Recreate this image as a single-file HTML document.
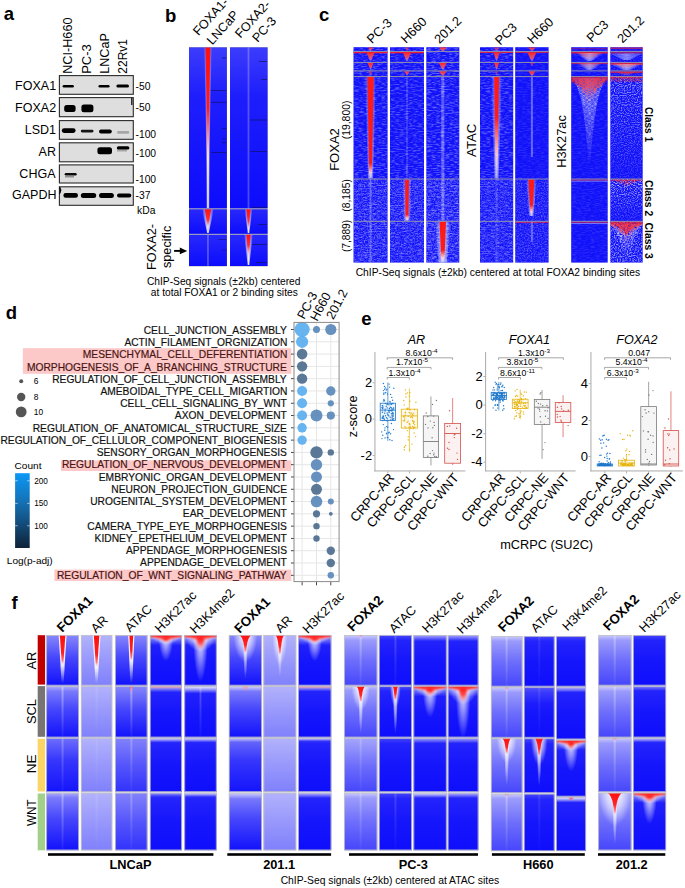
<!DOCTYPE html><html><head><meta charset="utf-8"><title>Figure</title><style>html,body{margin:0;padding:0;background:#fff;width:685px;height:888px;overflow:hidden}svg{display:block;font-family:"Liberation Sans",sans-serif}</style></head><body><svg width="685" height="888" viewBox="0 0 685 888" font-family="Liberation Sans, sans-serif">
<defs>
<linearGradient id="gRed" x1="0" y1="0" x2="0" y2="1">
 <stop offset="0" stop-color="#ff1a1a"/><stop offset="0.55" stop-color="#ff3030"/>
 <stop offset="0.8" stop-color="#ffd0d0"/><stop offset="1" stop-color="#ffffff" stop-opacity="0.6"/>
</linearGradient>
<linearGradient id="gRedShort" x1="0" y1="0" x2="0" y2="1">
 <stop offset="0" stop-color="#ff1a1a"/><stop offset="0.35" stop-color="#ff4040"/>
 <stop offset="0.7" stop-color="#ffe0e0" stop-opacity="0.9"/><stop offset="1" stop-color="#ffffff" stop-opacity="0.2"/>
</linearGradient>
<linearGradient id="gHalo" x1="0" y1="0" x2="1" y2="0">
 <stop offset="0" stop-color="#fff" stop-opacity="0"/><stop offset="0.5" stop-color="#fff" stop-opacity="0.85"/>
 <stop offset="1" stop-color="#fff" stop-opacity="0"/>
</linearGradient>
<linearGradient id="fadeV" x1="0" y1="0" x2="0" y2="1"><stop offset="0" stop-color="#fff"/><stop offset="1" stop-color="#000"/></linearGradient>
<linearGradient id="fadeV2" x1="0" y1="0" x2="0" y2="1"><stop offset="0" stop-color="#fff"/><stop offset="0.4" stop-color="#aaa"/><stop offset="1" stop-color="#222"/></linearGradient>
<mask id="mfade" maskContentUnits="objectBoundingBox"><rect width="1" height="1" fill="url(#fadeV)"/></mask>
<mask id="mfade2" maskContentUnits="objectBoundingBox"><rect width="1" height="1" fill="url(#fadeV2)"/></mask>
<filter id="bblur" x="-0.1" y="-0.5" width="1.2" height="2"><feGaussianBlur stdDeviation="0.45"/></filter>
<filter id="speckM" x="0" y="0" width="1" height="1">
 <feTurbulence type="fractalNoise" baseFrequency="0.35 1.0" numOctaves="2" seed="8" result="n"/>
 <feColorMatrix in="n" type="matrix" values="0 0 0 0 0  0 0 0 0 0  0 0 0 0 0  2.6 0 0 0 -1.0" result="a"/>
 <feComposite in="SourceGraphic" in2="a" operator="in"/>
</filter>
<filter id="speck2" x="0" y="0" width="1" height="1">
 <feTurbulence type="fractalNoise" baseFrequency="0.7 0.9" numOctaves="1" seed="5" result="n"/>
 <feColorMatrix in="n" type="matrix" values="0 0 0 0 0.8  0 0 0 0 0.82  0 0 0 0 1  3.0 0 0 0 -1.3" result="w"/>
 <feComposite in="w" in2="SourceGraphic" operator="in"/>
</filter>
<filter id="speck" x="0" y="0" width="1" height="1">
 <feTurbulence type="fractalNoise" baseFrequency="0.22 0.95" numOctaves="2" seed="3" result="n"/>
 <feColorMatrix in="n" type="matrix" values="0 0 0 0 0.75  0 0 0 0 0.8  0 0 0 0 1  3.0 0 0 0 -1.3" result="w"/>
 <feComposite in="w" in2="SourceGraphic" operator="in"/>
</filter>
</defs>
<defs><linearGradient id="v1" x1="0" y1="0" x2="0" y2="1"><stop offset="0" stop-color="#3c3cfc"/><stop offset="0.3" stop-color="#1e1efc"/><stop offset="1" stop-color="#0c0cfc"/></linearGradient><linearGradient id="v2" x1="0" y1="0" x2="0" y2="1"><stop offset="0" stop-color="#2828fc"/><stop offset="1" stop-color="#0c0cfc"/></linearGradient><linearGradient id="v3" x1="0" y1="0" x2="0" y2="1"><stop offset="0" stop-color="#2828fc"/><stop offset="1" stop-color="#0c0cfc"/></linearGradient><linearGradient id="h4" x1="0" y1="0" x2="1" y2="0"><stop offset="0" stop-color="#fff" stop-opacity="0"/><stop offset="0.5" stop-color="#fff" stop-opacity="0.9"/><stop offset="1" stop-color="#fff" stop-opacity="0"/></linearGradient><linearGradient id="v5" x1="0" y1="0" x2="0" y2="1"><stop offset="0" stop-color="#ff1010"/><stop offset="0.38" stop-color="#ff1c1c"/><stop offset="0.52" stop-color="#ff7a7a"/><stop offset="0.68" stop-color="#ffe8e8" stop-opacity="0.95"/><stop offset="1" stop-color="#ffffff" stop-opacity="0.6"/></linearGradient><linearGradient id="v6" x1="0" y1="0" x2="0" y2="1"><stop offset="0" stop-color="#ff1010"/><stop offset="0.55" stop-color="#ff3030"/><stop offset="0.85" stop-color="#ffd0d0"/><stop offset="1" stop-color="#ffffff" stop-opacity="0.6"/></linearGradient><linearGradient id="v7" x1="0" y1="0" x2="0" y2="1"><stop offset="0" stop-color="#3c3cfc"/><stop offset="0.3" stop-color="#1e1efc"/><stop offset="1" stop-color="#0c0cfc"/></linearGradient><linearGradient id="v8" x1="0" y1="0" x2="0" y2="1"><stop offset="0" stop-color="#2828fc"/><stop offset="1" stop-color="#0c0cfc"/></linearGradient><linearGradient id="v9" x1="0" y1="0" x2="0" y2="1"><stop offset="0" stop-color="#2828fc"/><stop offset="1" stop-color="#0c0cfc"/></linearGradient><linearGradient id="h10" x1="0" y1="0" x2="1" y2="0"><stop offset="0" stop-color="#fff" stop-opacity="0"/><stop offset="0.5" stop-color="#fff" stop-opacity="0.9"/><stop offset="1" stop-color="#fff" stop-opacity="0"/></linearGradient><linearGradient id="v11" x1="0" y1="0" x2="0" y2="1"><stop offset="0" stop-color="#ff1010"/><stop offset="0.55" stop-color="#ff3030"/><stop offset="0.85" stop-color="#ffd0d0"/><stop offset="1" stop-color="#ffffff" stop-opacity="0.6"/></linearGradient><linearGradient id="v12" x1="0" y1="0" x2="0" y2="1"><stop offset="0" stop-color="#ff1010"/><stop offset="0.4" stop-color="#ff3030"/><stop offset="0.7" stop-color="#ffd0d0"/><stop offset="1" stop-color="#ffffff" stop-opacity="0.7"/></linearGradient><linearGradient id="v13" x1="0" y1="0" x2="0" y2="1"><stop offset="0" stop-color="#ff2020" stop-opacity="1.0"/><stop offset="0.6" stop-color="#ff6060" stop-opacity="0.8"/><stop offset="1" stop-color="#ffffff" stop-opacity="0.0"/></linearGradient><linearGradient id="v14" x1="0" y1="0" x2="0" y2="1"><stop offset="0" stop-color="#ff2020" stop-opacity="1.0"/><stop offset="0.6" stop-color="#ff6060" stop-opacity="0.8"/><stop offset="1" stop-color="#ffffff" stop-opacity="0.0"/></linearGradient><linearGradient id="v15" x1="0" y1="0" x2="0" y2="1"><stop offset="0" stop-color="#ff2020" stop-opacity="1.0"/><stop offset="0.6" stop-color="#ff6060" stop-opacity="0.8"/><stop offset="1" stop-color="#ffffff" stop-opacity="0.0"/></linearGradient><linearGradient id="v16" x1="0" y1="0" x2="0" y2="1"><stop offset="0" stop-color="#ff2020" stop-opacity="0.6"/><stop offset="0.6" stop-color="#ff6060" stop-opacity="0.48"/><stop offset="1" stop-color="#ffffff" stop-opacity="0.0"/></linearGradient><linearGradient id="h17" x1="0" y1="0" x2="1" y2="0"><stop offset="0" stop-color="#fff" stop-opacity="0"/><stop offset="0.5" stop-color="#fff" stop-opacity="0.6"/><stop offset="1" stop-color="#fff" stop-opacity="0"/></linearGradient><linearGradient id="v18" x1="0" y1="0" x2="0" y2="1"><stop offset="0" stop-color="#ff1a1a"/><stop offset="0.85" stop-color="#ff1a1a"/><stop offset="0.94" stop-color="#ffc8c8" stop-opacity="0.9"/><stop offset="1" stop-color="#ffffff" stop-opacity="0.0"/></linearGradient><linearGradient id="v19" x1="0" y1="0" x2="0" y2="1"><stop offset="0" stop-color="#ff2020" stop-opacity="0.7"/><stop offset="0.6" stop-color="#ff6060" stop-opacity="0.5599999999999999"/><stop offset="1" stop-color="#ffffff" stop-opacity="0.0"/></linearGradient><linearGradient id="v20" x1="0" y1="0" x2="0" y2="1"><stop offset="0" stop-color="#ff2020" stop-opacity="1.0"/><stop offset="0.6" stop-color="#ff6060" stop-opacity="0.8"/><stop offset="1" stop-color="#ffffff" stop-opacity="0.0"/></linearGradient><linearGradient id="v21" x1="0" y1="0" x2="0" y2="1"><stop offset="0" stop-color="#ff2020" stop-opacity="1.0"/><stop offset="0.6" stop-color="#ff6060" stop-opacity="0.8"/><stop offset="1" stop-color="#ffffff" stop-opacity="0.0"/></linearGradient><linearGradient id="h22" x1="0" y1="0" x2="1" y2="0"><stop offset="0" stop-color="#fff" stop-opacity="0"/><stop offset="0.5" stop-color="#fff" stop-opacity="0.6"/><stop offset="1" stop-color="#fff" stop-opacity="0"/></linearGradient><linearGradient id="v23" x1="0" y1="0" x2="0" y2="1"><stop offset="0" stop-color="#ff1a1a"/><stop offset="0.85" stop-color="#ff1a1a"/><stop offset="0.94" stop-color="#ffc8c8" stop-opacity="0.9"/><stop offset="1" stop-color="#ffffff" stop-opacity="0.0"/></linearGradient><linearGradient id="v24" x1="0" y1="0" x2="0" y2="1"><stop offset="0" stop-color="#ff2020" stop-opacity="1.0"/><stop offset="0.6" stop-color="#ff6060" stop-opacity="0.8"/><stop offset="1" stop-color="#ffffff" stop-opacity="0.0"/></linearGradient><linearGradient id="v25" x1="0" y1="0" x2="0" y2="1"><stop offset="0" stop-color="#ff2020" stop-opacity="1.0"/><stop offset="0.6" stop-color="#ff6060" stop-opacity="0.8"/><stop offset="1" stop-color="#ffffff" stop-opacity="0.0"/></linearGradient><linearGradient id="v26" x1="0" y1="0" x2="0" y2="1"><stop offset="0" stop-color="#ff2020" stop-opacity="1.0"/><stop offset="0.6" stop-color="#ff6060" stop-opacity="0.8"/><stop offset="1" stop-color="#ffffff" stop-opacity="0.0"/></linearGradient><linearGradient id="h27" x1="0" y1="0" x2="1" y2="0"><stop offset="0" stop-color="#fff" stop-opacity="0"/><stop offset="0.5" stop-color="#fff" stop-opacity="0.75"/><stop offset="1" stop-color="#fff" stop-opacity="0"/></linearGradient><linearGradient id="v28" x1="0" y1="0" x2="0" y2="1"><stop offset="0" stop-color="#ff1a1a"/><stop offset="0.7" stop-color="#ff1a1a"/><stop offset="0.88" stop-color="#ffc8c8" stop-opacity="0.9"/><stop offset="1" stop-color="#ffffff" stop-opacity="0.0"/></linearGradient><linearGradient id="v29" x1="0" y1="0" x2="0" y2="1"><stop offset="0" stop-color="#ff2020" stop-opacity="0.7"/><stop offset="0.6" stop-color="#ff6060" stop-opacity="0.5599999999999999"/><stop offset="1" stop-color="#ffffff" stop-opacity="0.0"/></linearGradient><linearGradient id="v30" x1="0" y1="0" x2="0" y2="1"><stop offset="0" stop-color="#ff2020" stop-opacity="1.0"/><stop offset="0.6" stop-color="#ff6060" stop-opacity="0.8"/><stop offset="1" stop-color="#ffffff" stop-opacity="0.0"/></linearGradient><linearGradient id="v31" x1="0" y1="0" x2="0" y2="1"><stop offset="0" stop-color="#ff2020" stop-opacity="1.0"/><stop offset="0.6" stop-color="#ff6060" stop-opacity="0.8"/><stop offset="1" stop-color="#ffffff" stop-opacity="0.0"/></linearGradient><linearGradient id="v32" x1="0" y1="0" x2="0" y2="1"><stop offset="0" stop-color="#ff2020" stop-opacity="0.5"/><stop offset="0.6" stop-color="#ff6060" stop-opacity="0.4"/><stop offset="1" stop-color="#ffffff" stop-opacity="0.0"/></linearGradient><linearGradient id="h33" x1="0" y1="0" x2="1" y2="0"><stop offset="0" stop-color="#fff" stop-opacity="0"/><stop offset="0.5" stop-color="#fff" stop-opacity="0.6"/><stop offset="1" stop-color="#fff" stop-opacity="0"/></linearGradient><linearGradient id="v34" x1="0" y1="0" x2="0" y2="1"><stop offset="0" stop-color="#ff1a1a"/><stop offset="0.4" stop-color="#ff1a1a"/><stop offset="0.76" stop-color="#ffc8c8" stop-opacity="0.9"/><stop offset="1" stop-color="#ffffff" stop-opacity="0.0"/></linearGradient><linearGradient id="v35" x1="0" y1="0" x2="0" y2="1"><stop offset="0" stop-color="#ff2020" stop-opacity="0.9"/><stop offset="0.6" stop-color="#ff6060" stop-opacity="0.7200000000000001"/><stop offset="1" stop-color="#ffffff" stop-opacity="0.0"/></linearGradient><linearGradient id="v36" x1="0" y1="0" x2="0" y2="1"><stop offset="0" stop-color="#ff2020" stop-opacity="1.0"/><stop offset="0.6" stop-color="#ff6060" stop-opacity="0.8"/><stop offset="1" stop-color="#ffffff" stop-opacity="0.0"/></linearGradient><linearGradient id="v37" x1="0" y1="0" x2="0" y2="1"><stop offset="0" stop-color="#ff2020" stop-opacity="0.6"/><stop offset="0.6" stop-color="#ff6060" stop-opacity="0.48"/><stop offset="1" stop-color="#ffffff" stop-opacity="0.0"/></linearGradient><linearGradient id="v38" x1="0" y1="0" x2="0" y2="1"><stop offset="0" stop-color="#ff2020" stop-opacity="1.0"/><stop offset="0.6" stop-color="#ff6060" stop-opacity="0.8"/><stop offset="1" stop-color="#ffffff" stop-opacity="0.0"/></linearGradient><linearGradient id="h39" x1="0" y1="0" x2="1" y2="0"><stop offset="0" stop-color="#fff" stop-opacity="0"/><stop offset="0.5" stop-color="#fff" stop-opacity="0.6"/><stop offset="1" stop-color="#fff" stop-opacity="0"/></linearGradient><linearGradient id="v40" x1="0" y1="0" x2="0" y2="1"><stop offset="0" stop-color="#ff1a1a"/><stop offset="0.7" stop-color="#ff1a1a"/><stop offset="0.88" stop-color="#ffc8c8" stop-opacity="0.9"/><stop offset="1" stop-color="#ffffff" stop-opacity="0.0"/></linearGradient><linearGradient id="v41" x1="0" y1="0" x2="0" y2="1"><stop offset="0" stop-color="#ff2020" stop-opacity="0.55"/><stop offset="0.6" stop-color="#ff6060" stop-opacity="0.44000000000000006"/><stop offset="1" stop-color="#ffffff" stop-opacity="0.0"/></linearGradient><linearGradient id="h42" x1="0" y1="0" x2="1" y2="0"><stop offset="0" stop-color="#fff" stop-opacity="0"/><stop offset="0.5" stop-color="#fff" stop-opacity="0.45"/><stop offset="1" stop-color="#fff" stop-opacity="0"/></linearGradient><linearGradient id="v43" x1="0" y1="0" x2="0" y2="1"><stop offset="0" stop-color="#ff2020" stop-opacity="0.45"/><stop offset="0.6" stop-color="#ff6060" stop-opacity="0.36000000000000004"/><stop offset="1" stop-color="#ffffff" stop-opacity="0.0"/></linearGradient><linearGradient id="h44" x1="0" y1="0" x2="1" y2="0"><stop offset="0" stop-color="#fff" stop-opacity="0"/><stop offset="0.3" stop-color="#fff" stop-opacity="0.25"/><stop offset="0.5" stop-color="#fff" stop-opacity="0.35"/><stop offset="0.7" stop-color="#fff" stop-opacity="0.25"/><stop offset="1" stop-color="#fff" stop-opacity="0"/></linearGradient><linearGradient id="v45" x1="0" y1="0" x2="0" y2="1"><stop offset="0" stop-color="#ff2020" stop-opacity="1"/><stop offset="0.5" stop-color="#ff3030" stop-opacity="0.8"/><stop offset="1" stop-color="#ff5050" stop-opacity="0"/></linearGradient><linearGradient id="h46" x1="0" y1="0" x2="1" y2="0"><stop offset="0" stop-color="#fff" stop-opacity="0.1"/><stop offset="0.5" stop-color="#fff" stop-opacity="0.45"/><stop offset="1" stop-color="#fff" stop-opacity="0.1"/></linearGradient><linearGradient id="v47" x1="0" y1="0" x2="0" y2="1"><stop offset="0" stop-color="#ff2020" stop-opacity="0.6"/><stop offset="0.6" stop-color="#ff6060" stop-opacity="0.48"/><stop offset="1" stop-color="#ffffff" stop-opacity="0.0"/></linearGradient><linearGradient id="v48" x1="0" y1="0" x2="0" y2="1"><stop offset="0" stop-color="#ff2020" stop-opacity="0.5"/><stop offset="0.6" stop-color="#ff6060" stop-opacity="0.4"/><stop offset="1" stop-color="#ffffff" stop-opacity="0.0"/></linearGradient><linearGradient id="h49" x1="0" y1="0" x2="1" y2="0"><stop offset="0" stop-color="#fff" stop-opacity="0.1"/><stop offset="0.5" stop-color="#fff" stop-opacity="0.5"/><stop offset="1" stop-color="#fff" stop-opacity="0.1"/></linearGradient><linearGradient id="v50" x1="0" y1="0" x2="0" y2="1"><stop offset="0" stop-color="#ff2020" stop-opacity="1"/><stop offset="0.4" stop-color="#ff3030" stop-opacity="0.9"/><stop offset="1" stop-color="#ff6060" stop-opacity="0.2"/></linearGradient><linearGradient id="v51" x1="0" y1="0" x2="0" y2="1"><stop offset="0" stop-color="#0a98f6"/><stop offset="0.4" stop-color="#1570b2"/><stop offset="1" stop-color="#0f2238"/></linearGradient><linearGradient id="v52" x1="0" y1="0" x2="0" y2="1"><stop offset="0" stop-color="#8787fc"/><stop offset="0.45" stop-color="#4646fc"/><stop offset="1" stop-color="#1212fc"/></linearGradient><linearGradient id="v53" x1="0" y1="0" x2="0" y2="1"><stop offset="0" stop-color="#ffffff" stop-opacity="0.95"/><stop offset="0.625" stop-color="#ffffff" stop-opacity="0.9"/><stop offset="1" stop-color="#ffffff" stop-opacity="0"/></linearGradient><linearGradient id="v54" x1="0" y1="0" x2="0" y2="1"><stop offset="0" stop-color="#ff1010"/><stop offset="0.6" stop-color="#ff2020"/><stop offset="0.85" stop-color="#ff7070" stop-opacity="0.9"/><stop offset="1" stop-color="#ffd0d0" stop-opacity="0.0"/></linearGradient><linearGradient id="v55" x1="0" y1="0" x2="0" y2="1"><stop offset="0" stop-color="#8787fc"/><stop offset="0.45" stop-color="#4646fc"/><stop offset="1" stop-color="#1212fc"/></linearGradient><linearGradient id="v56" x1="0" y1="0" x2="0" y2="1"><stop offset="0" stop-color="#fff" stop-opacity="0.3"/><stop offset="1" stop-color="#fff" stop-opacity="0"/></linearGradient><linearGradient id="h57" x1="0" y1="0" x2="1" y2="0"><stop offset="0" stop-color="#fff" stop-opacity="0"/><stop offset="0.5" stop-color="#fff" stop-opacity="0.4"/><stop offset="1" stop-color="#fff" stop-opacity="0"/></linearGradient><linearGradient id="v58" x1="0" y1="0" x2="0" y2="1"><stop offset="0" stop-color="#6e6efc"/><stop offset="0.4" stop-color="#3737fc"/><stop offset="1" stop-color="#1414fc"/></linearGradient><linearGradient id="h59" x1="0" y1="0" x2="1" y2="0"><stop offset="0" stop-color="#fff" stop-opacity="0"/><stop offset="0.5" stop-color="#fff" stop-opacity="0.27999999999999997"/><stop offset="1" stop-color="#fff" stop-opacity="0"/></linearGradient><linearGradient id="v60" x1="0" y1="0" x2="0" y2="1"><stop offset="0" stop-color="#8787fc"/><stop offset="0.45" stop-color="#4646fc"/><stop offset="1" stop-color="#1212fc"/></linearGradient><linearGradient id="v61" x1="0" y1="0" x2="0" y2="1"><stop offset="0" stop-color="#fff" stop-opacity="0.3"/><stop offset="1" stop-color="#fff" stop-opacity="0"/></linearGradient><linearGradient id="h62" x1="0" y1="0" x2="1" y2="0"><stop offset="0" stop-color="#fff" stop-opacity="0"/><stop offset="0.5" stop-color="#fff" stop-opacity="0.36000000000000004"/><stop offset="1" stop-color="#fff" stop-opacity="0"/></linearGradient><linearGradient id="v63" x1="0" y1="0" x2="0" y2="1"><stop offset="0" stop-color="#b2b2fc"/><stop offset="0.5" stop-color="#9898fc"/><stop offset="1" stop-color="#8080fc"/></linearGradient><linearGradient id="v64" x1="0" y1="0" x2="0" y2="1"><stop offset="0" stop-color="#ffffff" stop-opacity="0.95"/><stop offset="0.6666666666666666" stop-color="#ffffff" stop-opacity="0.9"/><stop offset="1" stop-color="#ffffff" stop-opacity="0"/></linearGradient><linearGradient id="v65" x1="0" y1="0" x2="0" y2="1"><stop offset="0" stop-color="#ff1010"/><stop offset="0.6" stop-color="#ff2020"/><stop offset="0.85" stop-color="#ff7070" stop-opacity="0.9"/><stop offset="1" stop-color="#ffd0d0" stop-opacity="0.0"/></linearGradient><linearGradient id="v66" x1="0" y1="0" x2="0" y2="1"><stop offset="0" stop-color="#b2b2fc"/><stop offset="0.5" stop-color="#9898fc"/><stop offset="1" stop-color="#8080fc"/></linearGradient><linearGradient id="h67" x1="0" y1="0" x2="1" y2="0"><stop offset="0" stop-color="#fff" stop-opacity="0"/><stop offset="0.5" stop-color="#fff" stop-opacity="0.12"/><stop offset="1" stop-color="#fff" stop-opacity="0"/></linearGradient><linearGradient id="v68" x1="0" y1="0" x2="0" y2="1"><stop offset="0" stop-color="#b2b2fc"/><stop offset="0.5" stop-color="#9898fc"/><stop offset="1" stop-color="#8080fc"/></linearGradient><linearGradient id="h69" x1="0" y1="0" x2="1" y2="0"><stop offset="0" stop-color="#fff" stop-opacity="0"/><stop offset="0.5" stop-color="#fff" stop-opacity="0.096"/><stop offset="1" stop-color="#fff" stop-opacity="0"/></linearGradient><linearGradient id="v70" x1="0" y1="0" x2="0" y2="1"><stop offset="0" stop-color="#b2b2fc"/><stop offset="0.5" stop-color="#9898fc"/><stop offset="1" stop-color="#8080fc"/></linearGradient><linearGradient id="h71" x1="0" y1="0" x2="1" y2="0"><stop offset="0" stop-color="#fff" stop-opacity="0"/><stop offset="0.5" stop-color="#fff" stop-opacity="0.12"/><stop offset="1" stop-color="#fff" stop-opacity="0"/></linearGradient><linearGradient id="v72" x1="0" y1="0" x2="0" y2="1"><stop offset="0" stop-color="#8787fc"/><stop offset="0.45" stop-color="#4646fc"/><stop offset="1" stop-color="#1212fc"/></linearGradient><linearGradient id="v73" x1="0" y1="0" x2="0" y2="1"><stop offset="0" stop-color="#ffffff" stop-opacity="0.95"/><stop offset="0.5416666666666666" stop-color="#ffffff" stop-opacity="0.9"/><stop offset="1" stop-color="#ffffff" stop-opacity="0"/></linearGradient><linearGradient id="v74" x1="0" y1="0" x2="0" y2="1"><stop offset="0" stop-color="#ff1010"/><stop offset="0.6" stop-color="#ff2020"/><stop offset="0.85" stop-color="#ff7070" stop-opacity="0.9"/><stop offset="1" stop-color="#ffd0d0" stop-opacity="0.0"/></linearGradient><linearGradient id="v75" x1="0" y1="0" x2="0" y2="1"><stop offset="0" stop-color="#8787fc"/><stop offset="0.45" stop-color="#4646fc"/><stop offset="1" stop-color="#1212fc"/></linearGradient><linearGradient id="v76" x1="0" y1="0" x2="0" y2="1"><stop offset="0" stop-color="#ff2020" stop-opacity="0.9"/><stop offset="1" stop-color="#ff8080" stop-opacity="0.0"/></linearGradient><linearGradient id="h77" x1="0" y1="0" x2="1" y2="0"><stop offset="0" stop-color="#fff" stop-opacity="0"/><stop offset="0.5" stop-color="#fff" stop-opacity="0.44000000000000006"/><stop offset="1" stop-color="#fff" stop-opacity="0"/></linearGradient><linearGradient id="v78" x1="0" y1="0" x2="0" y2="1"><stop offset="0" stop-color="#8282fc"/><stop offset="0.5" stop-color="#5555fc"/><stop offset="1" stop-color="#3232fc"/></linearGradient><linearGradient id="h79" x1="0" y1="0" x2="1" y2="0"><stop offset="0" stop-color="#fff" stop-opacity="0"/><stop offset="0.5" stop-color="#fff" stop-opacity="0.27999999999999997"/><stop offset="1" stop-color="#fff" stop-opacity="0"/></linearGradient><linearGradient id="v80" x1="0" y1="0" x2="0" y2="1"><stop offset="0" stop-color="#8282fc"/><stop offset="0.5" stop-color="#5555fc"/><stop offset="1" stop-color="#3232fc"/></linearGradient><linearGradient id="h81" x1="0" y1="0" x2="1" y2="0"><stop offset="0" stop-color="#fff" stop-opacity="0"/><stop offset="0.5" stop-color="#fff" stop-opacity="0.27999999999999997"/><stop offset="1" stop-color="#fff" stop-opacity="0"/></linearGradient><linearGradient id="v82" x1="0" y1="0" x2="0" y2="1"><stop offset="0" stop-color="#4646fc"/><stop offset="0.1" stop-color="#2323fc"/><stop offset="0.5" stop-color="#1616fc"/><stop offset="1" stop-color="#0e0efc"/></linearGradient><linearGradient id="v83" x1="0" y1="0" x2="0" y2="1"><stop offset="0" stop-color="#ffffff" stop-opacity="0.85"/><stop offset="0.4" stop-color="#ffffff" stop-opacity="0.35"/><stop offset="1" stop-color="#ffffff" stop-opacity="0"/></linearGradient><radialGradient id="hg84" cx="0.5" cy="0" r="1" gradientTransform="translate(0.5 0) scale(0.5 1) translate(-0.5 0)"><stop offset="0" stop-color="#ffffff" stop-opacity="0.95"/><stop offset="0.5" stop-color="#ffffff" stop-opacity="0.6"/><stop offset="1" stop-color="#ffffff" stop-opacity="0"/></radialGradient><radialGradient id="hg85" cx="0.5" cy="0" r="1" gradientTransform="translate(0.5 0) scale(0.5 1) translate(-0.5 0)"><stop offset="0" stop-color="#ffffff" stop-opacity="0.95"/><stop offset="0.5" stop-color="#ffffff" stop-opacity="0.5"/><stop offset="1" stop-color="#ffffff" stop-opacity="0"/></radialGradient><radialGradient id="hg86" cx="0.5" cy="0" r="1" gradientTransform="translate(0.5 0) scale(0.5 1) translate(-0.5 0)"><stop offset="0" stop-color="#ff1010" stop-opacity="1"/><stop offset="0.5" stop-color="#ff2a2a" stop-opacity="0.85"/><stop offset="1" stop-color="#ff8080" stop-opacity="0"/></radialGradient><radialGradient id="hg87" cx="0.5" cy="0" r="1" gradientTransform="translate(0.5 0) scale(0.5 1) translate(-0.5 0)"><stop offset="0" stop-color="#ff1010" stop-opacity="1"/><stop offset="0.5" stop-color="#ff2a2a" stop-opacity="0.85"/><stop offset="1" stop-color="#ff8080" stop-opacity="0"/></radialGradient><linearGradient id="v88" x1="0" y1="0" x2="0" y2="1"><stop offset="0" stop-color="#ff1a1a" stop-opacity="0.95"/><stop offset="0.5" stop-color="#ff3030" stop-opacity="0.6"/><stop offset="1" stop-color="#ff6060" stop-opacity="0"/></linearGradient><linearGradient id="v89" x1="0" y1="0" x2="0" y2="1"><stop offset="0" stop-color="#4646fc"/><stop offset="0.1" stop-color="#2323fc"/><stop offset="0.5" stop-color="#1616fc"/><stop offset="1" stop-color="#0e0efc"/></linearGradient><linearGradient id="v90" x1="0" y1="0" x2="0" y2="1"><stop offset="0" stop-color="#ff3030" stop-opacity="0.9"/><stop offset="1" stop-color="#ff3030" stop-opacity="0"/></linearGradient><linearGradient id="v91" x1="0" y1="0" x2="0" y2="1"><stop offset="0" stop-color="#fff" stop-opacity="0.6"/><stop offset="1" stop-color="#fff" stop-opacity="0"/></linearGradient><linearGradient id="v92" x1="0" y1="0" x2="0" y2="1"><stop offset="0" stop-color="#4646fc"/><stop offset="0.1" stop-color="#2323fc"/><stop offset="0.5" stop-color="#1616fc"/><stop offset="1" stop-color="#0e0efc"/></linearGradient><linearGradient id="v93" x1="0" y1="0" x2="0" y2="1"><stop offset="0" stop-color="#fff" stop-opacity="0.8"/><stop offset="1" stop-color="#fff" stop-opacity="0"/></linearGradient><linearGradient id="v94" x1="0" y1="0" x2="0" y2="1"><stop offset="0" stop-color="#4646fc"/><stop offset="0.1" stop-color="#2323fc"/><stop offset="0.5" stop-color="#1616fc"/><stop offset="1" stop-color="#0e0efc"/></linearGradient><linearGradient id="v95" x1="0" y1="0" x2="0" y2="1"><stop offset="0" stop-color="#fff" stop-opacity="0.4"/><stop offset="1" stop-color="#fff" stop-opacity="0"/></linearGradient><linearGradient id="v96" x1="0" y1="0" x2="0" y2="1"><stop offset="0" stop-color="#4646fc"/><stop offset="0.1" stop-color="#2323fc"/><stop offset="0.5" stop-color="#1616fc"/><stop offset="1" stop-color="#0e0efc"/></linearGradient><linearGradient id="v97" x1="0" y1="0" x2="0" y2="1"><stop offset="0" stop-color="#ffffff" stop-opacity="0.85"/><stop offset="0.4" stop-color="#ffffff" stop-opacity="0.35"/><stop offset="1" stop-color="#ffffff" stop-opacity="0"/></linearGradient><radialGradient id="hg98" cx="0.5" cy="0" r="1" gradientTransform="translate(0.5 0) scale(0.5 1) translate(-0.5 0)"><stop offset="0" stop-color="#ffffff" stop-opacity="0.95"/><stop offset="0.5" stop-color="#ffffff" stop-opacity="0.6"/><stop offset="1" stop-color="#ffffff" stop-opacity="0"/></radialGradient><radialGradient id="hg99" cx="0.5" cy="0" r="1" gradientTransform="translate(0.5 0) scale(0.5 1) translate(-0.5 0)"><stop offset="0" stop-color="#ffffff" stop-opacity="0.95"/><stop offset="0.5" stop-color="#ffffff" stop-opacity="0.5"/><stop offset="1" stop-color="#ffffff" stop-opacity="0"/></radialGradient><radialGradient id="hg100" cx="0.5" cy="0" r="1" gradientTransform="translate(0.5 0) scale(0.5 1) translate(-0.5 0)"><stop offset="0" stop-color="#ff1010" stop-opacity="1"/><stop offset="0.5" stop-color="#ff2a2a" stop-opacity="0.85"/><stop offset="1" stop-color="#ff8080" stop-opacity="0"/></radialGradient><radialGradient id="hg101" cx="0.5" cy="0" r="1" gradientTransform="translate(0.5 0) scale(0.5 1) translate(-0.5 0)"><stop offset="0" stop-color="#ff1010" stop-opacity="1"/><stop offset="0.5" stop-color="#ff2a2a" stop-opacity="0.85"/><stop offset="1" stop-color="#ff8080" stop-opacity="0"/></radialGradient><linearGradient id="v102" x1="0" y1="0" x2="0" y2="1"><stop offset="0" stop-color="#ff1a1a" stop-opacity="0.95"/><stop offset="0.5" stop-color="#ff3030" stop-opacity="0.6"/><stop offset="1" stop-color="#ff6060" stop-opacity="0"/></linearGradient><linearGradient id="v103" x1="0" y1="0" x2="0" y2="1"><stop offset="0" stop-color="#4646fc"/><stop offset="0.1" stop-color="#2323fc"/><stop offset="0.5" stop-color="#1616fc"/><stop offset="1" stop-color="#0e0efc"/></linearGradient><linearGradient id="v104" x1="0" y1="0" x2="0" y2="1"><stop offset="0" stop-color="#fff" stop-opacity="0.9"/><stop offset="1" stop-color="#fff" stop-opacity="0"/></linearGradient><linearGradient id="h105" x1="0" y1="0" x2="1" y2="0"><stop offset="0" stop-color="#fff" stop-opacity="0"/><stop offset="0.5" stop-color="#fff" stop-opacity="0.24"/><stop offset="1" stop-color="#fff" stop-opacity="0"/></linearGradient><linearGradient id="v106" x1="0" y1="0" x2="0" y2="1"><stop offset="0" stop-color="#4646fc"/><stop offset="0.1" stop-color="#2323fc"/><stop offset="0.5" stop-color="#1616fc"/><stop offset="1" stop-color="#0e0efc"/></linearGradient><linearGradient id="v107" x1="0" y1="0" x2="0" y2="1"><stop offset="0" stop-color="#fff" stop-opacity="0.8"/><stop offset="1" stop-color="#fff" stop-opacity="0"/></linearGradient><linearGradient id="v108" x1="0" y1="0" x2="0" y2="1"><stop offset="0" stop-color="#4646fc"/><stop offset="0.1" stop-color="#2323fc"/><stop offset="0.5" stop-color="#1616fc"/><stop offset="1" stop-color="#0e0efc"/></linearGradient><linearGradient id="v109" x1="0" y1="0" x2="0" y2="1"><stop offset="0" stop-color="#fff" stop-opacity="0.8"/><stop offset="1" stop-color="#fff" stop-opacity="0"/></linearGradient><linearGradient id="v110" x1="0" y1="0" x2="0" y2="1"><stop offset="0" stop-color="#8787fc"/><stop offset="0.45" stop-color="#4646fc"/><stop offset="1" stop-color="#1212fc"/></linearGradient><radialGradient id="hg111" cx="0.5" cy="0" r="1" gradientTransform="translate(0.5 0) scale(0.5 1) translate(-0.5 0)"><stop offset="0" stop-color="#ffffff" stop-opacity="0.95"/><stop offset="0.5" stop-color="#ffffff" stop-opacity="0.6"/><stop offset="1" stop-color="#ffffff" stop-opacity="0"/></radialGradient><radialGradient id="hg112" cx="0.5" cy="0" r="1" gradientTransform="translate(0.5 0) scale(0.5 1) translate(-0.5 0)"><stop offset="0" stop-color="#ffffff" stop-opacity="0.95"/><stop offset="0.55" stop-color="#ffffff" stop-opacity="0.6"/><stop offset="1" stop-color="#ffffff" stop-opacity="0"/></radialGradient><linearGradient id="v113" x1="0" y1="0" x2="0" y2="1"><stop offset="0" stop-color="#ff1010"/><stop offset="0.55" stop-color="#ff2424"/><stop offset="0.85" stop-color="#ff8080" stop-opacity="0.85"/><stop offset="1" stop-color="#ffd0d0" stop-opacity="0.0"/></linearGradient><linearGradient id="v114" x1="0" y1="0" x2="0" y2="1"><stop offset="0" stop-color="#8787fc"/><stop offset="0.45" stop-color="#4646fc"/><stop offset="1" stop-color="#1212fc"/></linearGradient><linearGradient id="v115" x1="0" y1="0" x2="0" y2="1"><stop offset="0" stop-color="#ff2020" stop-opacity="0.9"/><stop offset="1" stop-color="#ff8080" stop-opacity="0.0"/></linearGradient><linearGradient id="v116" x1="0" y1="0" x2="0" y2="1"><stop offset="0" stop-color="#fff" stop-opacity="0.6"/><stop offset="1" stop-color="#fff" stop-opacity="0"/></linearGradient><linearGradient id="v117" x1="0" y1="0" x2="0" y2="1"><stop offset="0" stop-color="#6e6efc"/><stop offset="0.4" stop-color="#3737fc"/><stop offset="1" stop-color="#1414fc"/></linearGradient><linearGradient id="v118" x1="0" y1="0" x2="0" y2="1"><stop offset="0" stop-color="#fff" stop-opacity="0.6"/><stop offset="1" stop-color="#fff" stop-opacity="0"/></linearGradient><linearGradient id="v119" x1="0" y1="0" x2="0" y2="1"><stop offset="0" stop-color="#8787fc"/><stop offset="0.45" stop-color="#4646fc"/><stop offset="1" stop-color="#1212fc"/></linearGradient><linearGradient id="v120" x1="0" y1="0" x2="0" y2="1"><stop offset="0" stop-color="#fff" stop-opacity="0.6"/><stop offset="1" stop-color="#fff" stop-opacity="0"/></linearGradient><linearGradient id="v121" x1="0" y1="0" x2="0" y2="1"><stop offset="0" stop-color="#b2b2fc"/><stop offset="0.5" stop-color="#9898fc"/><stop offset="1" stop-color="#8080fc"/></linearGradient><radialGradient id="hg122" cx="0.5" cy="0" r="1" gradientTransform="translate(0.5 0) scale(0.5 1) translate(-0.5 0)"><stop offset="0" stop-color="#ffffff" stop-opacity="0.95"/><stop offset="0.5" stop-color="#ffffff" stop-opacity="0.6"/><stop offset="1" stop-color="#ffffff" stop-opacity="0"/></radialGradient><radialGradient id="hg123" cx="0.5" cy="0" r="1" gradientTransform="translate(0.5 0) scale(0.5 1) translate(-0.5 0)"><stop offset="0" stop-color="#ffffff" stop-opacity="0.95"/><stop offset="0.55" stop-color="#ffffff" stop-opacity="0.6"/><stop offset="1" stop-color="#ffffff" stop-opacity="0"/></radialGradient><linearGradient id="v124" x1="0" y1="0" x2="0" y2="1"><stop offset="0" stop-color="#ff1010"/><stop offset="0.55" stop-color="#ff2424"/><stop offset="0.85" stop-color="#ff8080" stop-opacity="0.85"/><stop offset="1" stop-color="#ffd0d0" stop-opacity="0.0"/></linearGradient><linearGradient id="v125" x1="0" y1="0" x2="0" y2="1"><stop offset="0" stop-color="#b2b2fc"/><stop offset="0.5" stop-color="#9898fc"/><stop offset="1" stop-color="#8080fc"/></linearGradient><linearGradient id="v126" x1="0" y1="0" x2="0" y2="1"><stop offset="0" stop-color="#b2b2fc"/><stop offset="0.5" stop-color="#9898fc"/><stop offset="1" stop-color="#8080fc"/></linearGradient><linearGradient id="v127" x1="0" y1="0" x2="0" y2="1"><stop offset="0" stop-color="#b2b2fc"/><stop offset="0.5" stop-color="#9898fc"/><stop offset="1" stop-color="#8080fc"/></linearGradient><linearGradient id="v128" x1="0" y1="0" x2="0" y2="1"><stop offset="0" stop-color="#4646fc"/><stop offset="0.1" stop-color="#2323fc"/><stop offset="0.5" stop-color="#1616fc"/><stop offset="1" stop-color="#0e0efc"/></linearGradient><linearGradient id="v129" x1="0" y1="0" x2="0" y2="1"><stop offset="0" stop-color="#ffffff" stop-opacity="0.85"/><stop offset="0.4" stop-color="#ffffff" stop-opacity="0.35"/><stop offset="1" stop-color="#ffffff" stop-opacity="0"/></linearGradient><radialGradient id="hg130" cx="0.5" cy="0" r="1" gradientTransform="translate(0.5 0) scale(0.5 1) translate(-0.5 0)"><stop offset="0" stop-color="#ffffff" stop-opacity="0.95"/><stop offset="0.5" stop-color="#ffffff" stop-opacity="0.6"/><stop offset="1" stop-color="#ffffff" stop-opacity="0"/></radialGradient><radialGradient id="hg131" cx="0.5" cy="0" r="1" gradientTransform="translate(0.5 0) scale(0.5 1) translate(-0.5 0)"><stop offset="0" stop-color="#ffffff" stop-opacity="0.95"/><stop offset="0.5" stop-color="#ffffff" stop-opacity="0.5"/><stop offset="1" stop-color="#ffffff" stop-opacity="0"/></radialGradient><radialGradient id="hg132" cx="0.5" cy="0" r="1" gradientTransform="translate(0.5 0) scale(0.5 1) translate(-0.5 0)"><stop offset="0" stop-color="#ff1010" stop-opacity="1"/><stop offset="0.5" stop-color="#ff2a2a" stop-opacity="0.85"/><stop offset="1" stop-color="#ff8080" stop-opacity="0"/></radialGradient><radialGradient id="hg133" cx="0.5" cy="0" r="1" gradientTransform="translate(0.5 0) scale(0.5 1) translate(-0.5 0)"><stop offset="0" stop-color="#ff1010" stop-opacity="1"/><stop offset="0.5" stop-color="#ff2a2a" stop-opacity="0.85"/><stop offset="1" stop-color="#ff8080" stop-opacity="0"/></radialGradient><linearGradient id="v134" x1="0" y1="0" x2="0" y2="1"><stop offset="0" stop-color="#ff1a1a" stop-opacity="0.95"/><stop offset="0.5" stop-color="#ff3030" stop-opacity="0.6"/><stop offset="1" stop-color="#ff6060" stop-opacity="0"/></linearGradient><linearGradient id="v135" x1="0" y1="0" x2="0" y2="1"><stop offset="0" stop-color="#4646fc"/><stop offset="0.1" stop-color="#2323fc"/><stop offset="0.5" stop-color="#1616fc"/><stop offset="1" stop-color="#0e0efc"/></linearGradient><linearGradient id="v136" x1="0" y1="0" x2="0" y2="1"><stop offset="0" stop-color="#ff3030" stop-opacity="0.9"/><stop offset="1" stop-color="#ff3030" stop-opacity="0"/></linearGradient><linearGradient id="v137" x1="0" y1="0" x2="0" y2="1"><stop offset="0" stop-color="#fff" stop-opacity="0.6"/><stop offset="1" stop-color="#fff" stop-opacity="0"/></linearGradient><linearGradient id="v138" x1="0" y1="0" x2="0" y2="1"><stop offset="0" stop-color="#4646fc"/><stop offset="0.1" stop-color="#2323fc"/><stop offset="0.5" stop-color="#1616fc"/><stop offset="1" stop-color="#0e0efc"/></linearGradient><linearGradient id="v139" x1="0" y1="0" x2="0" y2="1"><stop offset="0" stop-color="#fff" stop-opacity="0.8"/><stop offset="1" stop-color="#fff" stop-opacity="0"/></linearGradient><linearGradient id="v140" x1="0" y1="0" x2="0" y2="1"><stop offset="0" stop-color="#4646fc"/><stop offset="0.1" stop-color="#2323fc"/><stop offset="0.5" stop-color="#1616fc"/><stop offset="1" stop-color="#0e0efc"/></linearGradient><linearGradient id="v141" x1="0" y1="0" x2="0" y2="1"><stop offset="0" stop-color="#fff" stop-opacity="0.6"/><stop offset="1" stop-color="#fff" stop-opacity="0"/></linearGradient><linearGradient id="v142" x1="0" y1="0" x2="0" y2="1"><stop offset="0" stop-color="#a5a5fc"/><stop offset="0.5" stop-color="#6e6efc"/><stop offset="1" stop-color="#4646fc"/></linearGradient><linearGradient id="v143" x1="0" y1="0" x2="0" y2="1"><stop offset="0" stop-color="#fff" stop-opacity="0.4"/><stop offset="1" stop-color="#fff" stop-opacity="0"/></linearGradient><linearGradient id="v144" x1="0" y1="0" x2="0" y2="1"><stop offset="0" stop-color="#ff2020" stop-opacity="0.9"/><stop offset="1" stop-color="#ff8080" stop-opacity="0.0"/></linearGradient><linearGradient id="h145" x1="0" y1="0" x2="1" y2="0"><stop offset="0" stop-color="#fff" stop-opacity="0"/><stop offset="0.5" stop-color="#fff" stop-opacity="0.36000000000000004"/><stop offset="1" stop-color="#fff" stop-opacity="0"/></linearGradient><linearGradient id="v146" x1="0" y1="0" x2="0" y2="1"><stop offset="0" stop-color="#a5a5fc"/><stop offset="0.5" stop-color="#6e6efc"/><stop offset="1" stop-color="#4646fc"/></linearGradient><linearGradient id="v147" x1="0" y1="0" x2="0" y2="1"><stop offset="0" stop-color="#fff" stop-opacity="0.3"/><stop offset="1" stop-color="#fff" stop-opacity="0"/></linearGradient><radialGradient id="hg148" cx="0.5" cy="0" r="1" gradientTransform="translate(0.5 0) scale(0.5 1) translate(-0.5 0)"><stop offset="0" stop-color="#ffffff" stop-opacity="0.95"/><stop offset="0.5" stop-color="#ffffff" stop-opacity="0.6"/><stop offset="1" stop-color="#ffffff" stop-opacity="0"/></radialGradient><radialGradient id="hg149" cx="0.5" cy="0" r="1" gradientTransform="translate(0.5 0) scale(0.5 1) translate(-0.5 0)"><stop offset="0" stop-color="#ffffff" stop-opacity="0.95"/><stop offset="0.55" stop-color="#ffffff" stop-opacity="0.6"/><stop offset="1" stop-color="#ffffff" stop-opacity="0"/></radialGradient><linearGradient id="v150" x1="0" y1="0" x2="0" y2="1"><stop offset="0" stop-color="#ff1010"/><stop offset="0.55" stop-color="#ff2424"/><stop offset="0.85" stop-color="#ff8080" stop-opacity="0.85"/><stop offset="1" stop-color="#ffd0d0" stop-opacity="0.0"/></linearGradient><linearGradient id="v151" x1="0" y1="0" x2="0" y2="1"><stop offset="0" stop-color="#a5a5fc"/><stop offset="0.5" stop-color="#6e6efc"/><stop offset="1" stop-color="#4646fc"/></linearGradient><linearGradient id="h152" x1="0" y1="0" x2="1" y2="0"><stop offset="0" stop-color="#fff" stop-opacity="0"/><stop offset="0.5" stop-color="#fff" stop-opacity="0.24"/><stop offset="1" stop-color="#fff" stop-opacity="0"/></linearGradient><linearGradient id="v153" x1="0" y1="0" x2="0" y2="1"><stop offset="0" stop-color="#a5a5fc"/><stop offset="0.5" stop-color="#6e6efc"/><stop offset="1" stop-color="#4646fc"/></linearGradient><linearGradient id="v154" x1="0" y1="0" x2="0" y2="1"><stop offset="0" stop-color="#fff" stop-opacity="0.4"/><stop offset="1" stop-color="#fff" stop-opacity="0"/></linearGradient><linearGradient id="h155" x1="0" y1="0" x2="1" y2="0"><stop offset="0" stop-color="#fff" stop-opacity="0"/><stop offset="0.5" stop-color="#fff" stop-opacity="0.27999999999999997"/><stop offset="1" stop-color="#fff" stop-opacity="0"/></linearGradient><linearGradient id="v156" x1="0" y1="0" x2="0" y2="1"><stop offset="0" stop-color="#4646fc"/><stop offset="0.1" stop-color="#2323fc"/><stop offset="0.5" stop-color="#1616fc"/><stop offset="1" stop-color="#0e0efc"/></linearGradient><linearGradient id="h157" x1="0" y1="0" x2="1" y2="0"><stop offset="0" stop-color="#fff" stop-opacity="0"/><stop offset="0.5" stop-color="#fff" stop-opacity="0.2"/><stop offset="1" stop-color="#fff" stop-opacity="0"/></linearGradient><linearGradient id="v158" x1="0" y1="0" x2="0" y2="1"><stop offset="0" stop-color="#4646fc"/><stop offset="0.1" stop-color="#2323fc"/><stop offset="0.5" stop-color="#1616fc"/><stop offset="1" stop-color="#0e0efc"/></linearGradient><radialGradient id="hg159" cx="0.5" cy="0" r="1" gradientTransform="translate(0.5 0) scale(0.5 1) translate(-0.5 0)"><stop offset="0" stop-color="#ffffff" stop-opacity="0.95"/><stop offset="0.5" stop-color="#ffffff" stop-opacity="0.6"/><stop offset="1" stop-color="#ffffff" stop-opacity="0"/></radialGradient><radialGradient id="hg160" cx="0.5" cy="0" r="1" gradientTransform="translate(0.5 0) scale(0.5 1) translate(-0.5 0)"><stop offset="0" stop-color="#ffffff" stop-opacity="0.95"/><stop offset="0.55" stop-color="#ffffff" stop-opacity="0.6"/><stop offset="1" stop-color="#ffffff" stop-opacity="0"/></radialGradient><linearGradient id="v161" x1="0" y1="0" x2="0" y2="1"><stop offset="0" stop-color="#ff1010"/><stop offset="0.55" stop-color="#ff2424"/><stop offset="0.85" stop-color="#ff8080" stop-opacity="0.85"/><stop offset="1" stop-color="#ffd0d0" stop-opacity="0.0"/></linearGradient><linearGradient id="v162" x1="0" y1="0" x2="0" y2="1"><stop offset="0" stop-color="#4646fc"/><stop offset="0.1" stop-color="#2323fc"/><stop offset="0.5" stop-color="#1616fc"/><stop offset="1" stop-color="#0e0efc"/></linearGradient><linearGradient id="v163" x1="0" y1="0" x2="0" y2="1"><stop offset="0" stop-color="#4646fc"/><stop offset="0.1" stop-color="#2323fc"/><stop offset="0.5" stop-color="#1616fc"/><stop offset="1" stop-color="#0e0efc"/></linearGradient><linearGradient id="h164" x1="0" y1="0" x2="1" y2="0"><stop offset="0" stop-color="#fff" stop-opacity="0"/><stop offset="0.5" stop-color="#fff" stop-opacity="0.16000000000000003"/><stop offset="1" stop-color="#fff" stop-opacity="0"/></linearGradient><linearGradient id="v165" x1="0" y1="0" x2="0" y2="1"><stop offset="0" stop-color="#4646fc"/><stop offset="0.1" stop-color="#2323fc"/><stop offset="0.5" stop-color="#1616fc"/><stop offset="1" stop-color="#0e0efc"/></linearGradient><linearGradient id="v166" x1="0" y1="0" x2="0" y2="1"><stop offset="0" stop-color="#fff" stop-opacity="0.5"/><stop offset="1" stop-color="#fff" stop-opacity="0"/></linearGradient><linearGradient id="v167" x1="0" y1="0" x2="0" y2="1"><stop offset="0" stop-color="#4646fc"/><stop offset="0.1" stop-color="#2323fc"/><stop offset="0.5" stop-color="#1616fc"/><stop offset="1" stop-color="#0e0efc"/></linearGradient><linearGradient id="v168" x1="0" y1="0" x2="0" y2="1"><stop offset="0" stop-color="#ffffff" stop-opacity="0.85"/><stop offset="0.4" stop-color="#ffffff" stop-opacity="0.35"/><stop offset="1" stop-color="#ffffff" stop-opacity="0"/></linearGradient><radialGradient id="hg169" cx="0.5" cy="0" r="1" gradientTransform="translate(0.5 0) scale(0.5 1) translate(-0.5 0)"><stop offset="0" stop-color="#ffffff" stop-opacity="0.95"/><stop offset="0.5" stop-color="#ffffff" stop-opacity="0.6"/><stop offset="1" stop-color="#ffffff" stop-opacity="0"/></radialGradient><radialGradient id="hg170" cx="0.5" cy="0" r="1" gradientTransform="translate(0.5 0) scale(0.5 1) translate(-0.5 0)"><stop offset="0" stop-color="#ffffff" stop-opacity="0.95"/><stop offset="0.5" stop-color="#ffffff" stop-opacity="0.5"/><stop offset="1" stop-color="#ffffff" stop-opacity="0"/></radialGradient><radialGradient id="hg171" cx="0.5" cy="0" r="1" gradientTransform="translate(0.5 0) scale(0.5 1) translate(-0.5 0)"><stop offset="0" stop-color="#ff1010" stop-opacity="1"/><stop offset="0.5" stop-color="#ff2a2a" stop-opacity="0.85"/><stop offset="1" stop-color="#ff8080" stop-opacity="0"/></radialGradient><radialGradient id="hg172" cx="0.5" cy="0" r="1" gradientTransform="translate(0.5 0) scale(0.5 1) translate(-0.5 0)"><stop offset="0" stop-color="#ff1010" stop-opacity="1"/><stop offset="0.5" stop-color="#ff2a2a" stop-opacity="0.85"/><stop offset="1" stop-color="#ff8080" stop-opacity="0"/></radialGradient><linearGradient id="v173" x1="0" y1="0" x2="0" y2="1"><stop offset="0" stop-color="#ff1a1a" stop-opacity="0.95"/><stop offset="0.5" stop-color="#ff3030" stop-opacity="0.6"/><stop offset="1" stop-color="#ff6060" stop-opacity="0"/></linearGradient><linearGradient id="v174" x1="0" y1="0" x2="0" y2="1"><stop offset="0" stop-color="#4646fc"/><stop offset="0.1" stop-color="#2323fc"/><stop offset="0.5" stop-color="#1616fc"/><stop offset="1" stop-color="#0e0efc"/></linearGradient><linearGradient id="v175" x1="0" y1="0" x2="0" y2="1"><stop offset="0" stop-color="#fff" stop-opacity="0.5"/><stop offset="1" stop-color="#fff" stop-opacity="0"/></linearGradient><linearGradient id="v176" x1="0" y1="0" x2="0" y2="1"><stop offset="0" stop-color="#4646fc"/><stop offset="0.1" stop-color="#2323fc"/><stop offset="0.5" stop-color="#1616fc"/><stop offset="1" stop-color="#0e0efc"/></linearGradient><linearGradient id="v177" x1="0" y1="0" x2="0" y2="1"><stop offset="0" stop-color="#fff" stop-opacity="0.85"/><stop offset="1" stop-color="#fff" stop-opacity="0"/></linearGradient><linearGradient id="v178" x1="0" y1="0" x2="0" y2="1"><stop offset="0" stop-color="#4646fc"/><stop offset="0.1" stop-color="#2323fc"/><stop offset="0.5" stop-color="#1616fc"/><stop offset="1" stop-color="#0e0efc"/></linearGradient><linearGradient id="v179" x1="0" y1="0" x2="0" y2="1"><stop offset="0" stop-color="#fff" stop-opacity="0.5"/><stop offset="1" stop-color="#fff" stop-opacity="0"/></linearGradient><linearGradient id="v180" x1="0" y1="0" x2="0" y2="1"><stop offset="0" stop-color="#4646fc"/><stop offset="0.1" stop-color="#2323fc"/><stop offset="0.5" stop-color="#1616fc"/><stop offset="1" stop-color="#0e0efc"/></linearGradient><linearGradient id="v181" x1="0" y1="0" x2="0" y2="1"><stop offset="0" stop-color="#ffffff" stop-opacity="0.85"/><stop offset="0.4" stop-color="#ffffff" stop-opacity="0.35"/><stop offset="1" stop-color="#ffffff" stop-opacity="0"/></linearGradient><radialGradient id="hg182" cx="0.5" cy="0" r="1" gradientTransform="translate(0.5 0) scale(0.5 1) translate(-0.5 0)"><stop offset="0" stop-color="#ffffff" stop-opacity="0.95"/><stop offset="0.5" stop-color="#ffffff" stop-opacity="0.6"/><stop offset="1" stop-color="#ffffff" stop-opacity="0"/></radialGradient><radialGradient id="hg183" cx="0.5" cy="0" r="1" gradientTransform="translate(0.5 0) scale(0.5 1) translate(-0.5 0)"><stop offset="0" stop-color="#ffffff" stop-opacity="0.95"/><stop offset="0.5" stop-color="#ffffff" stop-opacity="0.5"/><stop offset="1" stop-color="#ffffff" stop-opacity="0"/></radialGradient><radialGradient id="hg184" cx="0.5" cy="0" r="1" gradientTransform="translate(0.5 0) scale(0.5 1) translate(-0.5 0)"><stop offset="0" stop-color="#ff1010" stop-opacity="1"/><stop offset="0.5" stop-color="#ff2a2a" stop-opacity="0.85"/><stop offset="1" stop-color="#ff8080" stop-opacity="0"/></radialGradient><radialGradient id="hg185" cx="0.5" cy="0" r="1" gradientTransform="translate(0.5 0) scale(0.5 1) translate(-0.5 0)"><stop offset="0" stop-color="#ff1010" stop-opacity="1"/><stop offset="0.5" stop-color="#ff2a2a" stop-opacity="0.85"/><stop offset="1" stop-color="#ff8080" stop-opacity="0"/></radialGradient><linearGradient id="v186" x1="0" y1="0" x2="0" y2="1"><stop offset="0" stop-color="#ff1a1a" stop-opacity="0.95"/><stop offset="0.5" stop-color="#ff3030" stop-opacity="0.6"/><stop offset="1" stop-color="#ff6060" stop-opacity="0"/></linearGradient><linearGradient id="v187" x1="0" y1="0" x2="0" y2="1"><stop offset="0" stop-color="#4646fc"/><stop offset="0.1" stop-color="#2323fc"/><stop offset="0.5" stop-color="#1616fc"/><stop offset="1" stop-color="#0e0efc"/></linearGradient><linearGradient id="v188" x1="0" y1="0" x2="0" y2="1"><stop offset="0" stop-color="#fff" stop-opacity="0.5"/><stop offset="1" stop-color="#fff" stop-opacity="0"/></linearGradient><linearGradient id="v189" x1="0" y1="0" x2="0" y2="1"><stop offset="0" stop-color="#4646fc"/><stop offset="0.1" stop-color="#2323fc"/><stop offset="0.5" stop-color="#1616fc"/><stop offset="1" stop-color="#0e0efc"/></linearGradient><linearGradient id="v190" x1="0" y1="0" x2="0" y2="1"><stop offset="0" stop-color="#fff" stop-opacity="0.6"/><stop offset="1" stop-color="#fff" stop-opacity="0"/></linearGradient><linearGradient id="v191" x1="0" y1="0" x2="0" y2="1"><stop offset="0" stop-color="#a5a5fc"/><stop offset="0.5" stop-color="#6e6efc"/><stop offset="1" stop-color="#4646fc"/></linearGradient><linearGradient id="v192" x1="0" y1="0" x2="0" y2="1"><stop offset="0" stop-color="#fff" stop-opacity="0.4"/><stop offset="1" stop-color="#fff" stop-opacity="0"/></linearGradient><linearGradient id="h193" x1="0" y1="0" x2="1" y2="0"><stop offset="0" stop-color="#fff" stop-opacity="0"/><stop offset="0.5" stop-color="#fff" stop-opacity="0.36000000000000004"/><stop offset="1" stop-color="#fff" stop-opacity="0"/></linearGradient><linearGradient id="v194" x1="0" y1="0" x2="0" y2="1"><stop offset="0" stop-color="#a5a5fc"/><stop offset="0.5" stop-color="#6e6efc"/><stop offset="1" stop-color="#4646fc"/></linearGradient><linearGradient id="v195" x1="0" y1="0" x2="0" y2="1"><stop offset="0" stop-color="#fff" stop-opacity="0.4"/><stop offset="1" stop-color="#fff" stop-opacity="0"/></linearGradient><linearGradient id="v196" x1="0" y1="0" x2="0" y2="1"><stop offset="0" stop-color="#ff2020" stop-opacity="0.9"/><stop offset="1" stop-color="#ff8080" stop-opacity="0.0"/></linearGradient><linearGradient id="h197" x1="0" y1="0" x2="1" y2="0"><stop offset="0" stop-color="#fff" stop-opacity="0"/><stop offset="0.5" stop-color="#fff" stop-opacity="0.36000000000000004"/><stop offset="1" stop-color="#fff" stop-opacity="0"/></linearGradient><linearGradient id="v198" x1="0" y1="0" x2="0" y2="1"><stop offset="0" stop-color="#a5a5fc"/><stop offset="0.5" stop-color="#6e6efc"/><stop offset="1" stop-color="#4646fc"/></linearGradient><radialGradient id="hg199" cx="0.5" cy="0" r="1" gradientTransform="translate(0.5 0) scale(0.5 1) translate(-0.5 0)"><stop offset="0" stop-color="#ffffff" stop-opacity="0.95"/><stop offset="0.5" stop-color="#ffffff" stop-opacity="0.6"/><stop offset="1" stop-color="#ffffff" stop-opacity="0"/></radialGradient><radialGradient id="hg200" cx="0.5" cy="0" r="1" gradientTransform="translate(0.5 0) scale(0.5 1) translate(-0.5 0)"><stop offset="0" stop-color="#ffffff" stop-opacity="0.95"/><stop offset="0.55" stop-color="#ffffff" stop-opacity="0.6"/><stop offset="1" stop-color="#ffffff" stop-opacity="0"/></radialGradient><linearGradient id="v201" x1="0" y1="0" x2="0" y2="1"><stop offset="0" stop-color="#ff1010"/><stop offset="0.55" stop-color="#ff2424"/><stop offset="0.85" stop-color="#ff8080" stop-opacity="0.85"/><stop offset="1" stop-color="#ffd0d0" stop-opacity="0.0"/></linearGradient><linearGradient id="v202" x1="0" y1="0" x2="0" y2="1"><stop offset="0" stop-color="#a5a5fc"/><stop offset="0.5" stop-color="#6e6efc"/><stop offset="1" stop-color="#4646fc"/></linearGradient><linearGradient id="v203" x1="0" y1="0" x2="0" y2="1"><stop offset="0" stop-color="#fff" stop-opacity="0.4"/><stop offset="1" stop-color="#fff" stop-opacity="0"/></linearGradient><linearGradient id="v204" x1="0" y1="0" x2="0" y2="1"><stop offset="0" stop-color="#ff2020" stop-opacity="0.9"/><stop offset="1" stop-color="#ff8080" stop-opacity="0.0"/></linearGradient><linearGradient id="h205" x1="0" y1="0" x2="1" y2="0"><stop offset="0" stop-color="#fff" stop-opacity="0"/><stop offset="0.5" stop-color="#fff" stop-opacity="0.36000000000000004"/><stop offset="1" stop-color="#fff" stop-opacity="0"/></linearGradient><linearGradient id="v206" x1="0" y1="0" x2="0" y2="1"><stop offset="0" stop-color="#4646fc"/><stop offset="0.1" stop-color="#2323fc"/><stop offset="0.5" stop-color="#1616fc"/><stop offset="1" stop-color="#0e0efc"/></linearGradient><linearGradient id="h207" x1="0" y1="0" x2="1" y2="0"><stop offset="0" stop-color="#fff" stop-opacity="0"/><stop offset="0.5" stop-color="#fff" stop-opacity="0.12"/><stop offset="1" stop-color="#fff" stop-opacity="0"/></linearGradient><linearGradient id="v208" x1="0" y1="0" x2="0" y2="1"><stop offset="0" stop-color="#4646fc"/><stop offset="0.1" stop-color="#2323fc"/><stop offset="0.5" stop-color="#1616fc"/><stop offset="1" stop-color="#0e0efc"/></linearGradient><linearGradient id="v209" x1="0" y1="0" x2="0" y2="1"><stop offset="0" stop-color="#5a5afc" stop-opacity="0.6"/><stop offset="1" stop-color="#5a5afc" stop-opacity="0"/></linearGradient><linearGradient id="h210" x1="0" y1="0" x2="1" y2="0"><stop offset="0" stop-color="#fff" stop-opacity="0"/><stop offset="0.5" stop-color="#fff" stop-opacity="0.12"/><stop offset="1" stop-color="#fff" stop-opacity="0"/></linearGradient><linearGradient id="v211" x1="0" y1="0" x2="0" y2="1"><stop offset="0" stop-color="#4646fc"/><stop offset="0.1" stop-color="#2323fc"/><stop offset="0.5" stop-color="#1616fc"/><stop offset="1" stop-color="#0e0efc"/></linearGradient><radialGradient id="hg212" cx="0.5" cy="0" r="1" gradientTransform="translate(0.5 0) scale(0.5 1) translate(-0.5 0)"><stop offset="0" stop-color="#ffffff" stop-opacity="0.95"/><stop offset="0.5" stop-color="#ffffff" stop-opacity="0.6"/><stop offset="1" stop-color="#ffffff" stop-opacity="0"/></radialGradient><radialGradient id="hg213" cx="0.5" cy="0" r="1" gradientTransform="translate(0.5 0) scale(0.5 1) translate(-0.5 0)"><stop offset="0" stop-color="#ffffff" stop-opacity="0.95"/><stop offset="0.55" stop-color="#ffffff" stop-opacity="0.6"/><stop offset="1" stop-color="#ffffff" stop-opacity="0"/></radialGradient><linearGradient id="v214" x1="0" y1="0" x2="0" y2="1"><stop offset="0" stop-color="#ff1010"/><stop offset="0.55" stop-color="#ff2424"/><stop offset="0.85" stop-color="#ff8080" stop-opacity="0.85"/><stop offset="1" stop-color="#ffd0d0" stop-opacity="0.0"/></linearGradient><linearGradient id="v215" x1="0" y1="0" x2="0" y2="1"><stop offset="0" stop-color="#4646fc"/><stop offset="0.1" stop-color="#2323fc"/><stop offset="0.5" stop-color="#1616fc"/><stop offset="1" stop-color="#0e0efc"/></linearGradient><linearGradient id="h216" x1="0" y1="0" x2="1" y2="0"><stop offset="0" stop-color="#fff" stop-opacity="0"/><stop offset="0.5" stop-color="#fff" stop-opacity="0.12"/><stop offset="1" stop-color="#fff" stop-opacity="0"/></linearGradient><linearGradient id="v217" x1="0" y1="0" x2="0" y2="1"><stop offset="0" stop-color="#4646fc"/><stop offset="0.1" stop-color="#2323fc"/><stop offset="0.5" stop-color="#1616fc"/><stop offset="1" stop-color="#0e0efc"/></linearGradient><linearGradient id="v218" x1="0" y1="0" x2="0" y2="1"><stop offset="0" stop-color="#4646fc"/><stop offset="0.1" stop-color="#2323fc"/><stop offset="0.5" stop-color="#1616fc"/><stop offset="1" stop-color="#0e0efc"/></linearGradient><linearGradient id="v219" x1="0" y1="0" x2="0" y2="1"><stop offset="0" stop-color="#fff" stop-opacity="0.6"/><stop offset="1" stop-color="#fff" stop-opacity="0"/></linearGradient><linearGradient id="v220" x1="0" y1="0" x2="0" y2="1"><stop offset="0" stop-color="#4646fc"/><stop offset="0.1" stop-color="#2323fc"/><stop offset="0.5" stop-color="#1616fc"/><stop offset="1" stop-color="#0e0efc"/></linearGradient><linearGradient id="v221" x1="0" y1="0" x2="0" y2="1"><stop offset="0" stop-color="#ffffff" stop-opacity="0.85"/><stop offset="0.4" stop-color="#ffffff" stop-opacity="0.35"/><stop offset="1" stop-color="#ffffff" stop-opacity="0"/></linearGradient><radialGradient id="hg222" cx="0.5" cy="0" r="1" gradientTransform="translate(0.5 0) scale(0.5 1) translate(-0.5 0)"><stop offset="0" stop-color="#ffffff" stop-opacity="0.95"/><stop offset="0.5" stop-color="#ffffff" stop-opacity="0.6"/><stop offset="1" stop-color="#ffffff" stop-opacity="0"/></radialGradient><radialGradient id="hg223" cx="0.5" cy="0" r="1" gradientTransform="translate(0.5 0) scale(0.5 1) translate(-0.5 0)"><stop offset="0" stop-color="#ffffff" stop-opacity="0.95"/><stop offset="0.5" stop-color="#ffffff" stop-opacity="0.5"/><stop offset="1" stop-color="#ffffff" stop-opacity="0"/></radialGradient><radialGradient id="hg224" cx="0.5" cy="0" r="1" gradientTransform="translate(0.5 0) scale(0.5 1) translate(-0.5 0)"><stop offset="0" stop-color="#ff1010" stop-opacity="1"/><stop offset="0.5" stop-color="#ff2a2a" stop-opacity="0.85"/><stop offset="1" stop-color="#ff8080" stop-opacity="0"/></radialGradient><radialGradient id="hg225" cx="0.5" cy="0" r="1" gradientTransform="translate(0.5 0) scale(0.5 1) translate(-0.5 0)"><stop offset="0" stop-color="#ff1010" stop-opacity="1"/><stop offset="0.5" stop-color="#ff2a2a" stop-opacity="0.85"/><stop offset="1" stop-color="#ff8080" stop-opacity="0"/></radialGradient><linearGradient id="v226" x1="0" y1="0" x2="0" y2="1"><stop offset="0" stop-color="#ff1a1a" stop-opacity="0.95"/><stop offset="0.5" stop-color="#ff3030" stop-opacity="0.6"/><stop offset="1" stop-color="#ff6060" stop-opacity="0"/></linearGradient><linearGradient id="v227" x1="0" y1="0" x2="0" y2="1"><stop offset="0" stop-color="#4646fc"/><stop offset="0.1" stop-color="#2323fc"/><stop offset="0.5" stop-color="#1616fc"/><stop offset="1" stop-color="#0e0efc"/></linearGradient><linearGradient id="v228" x1="0" y1="0" x2="0" y2="1"><stop offset="0" stop-color="#fff" stop-opacity="0.9"/><stop offset="1" stop-color="#fff" stop-opacity="0"/></linearGradient><linearGradient id="v229" x1="0" y1="0" x2="0" y2="1"><stop offset="0" stop-color="#ff2020" stop-opacity="0.9"/><stop offset="1" stop-color="#ff8080" stop-opacity="0.0"/></linearGradient><linearGradient id="v230" x1="0" y1="0" x2="0" y2="1"><stop offset="0" stop-color="#a5a5fc"/><stop offset="0.5" stop-color="#6e6efc"/><stop offset="1" stop-color="#4646fc"/></linearGradient><linearGradient id="v231" x1="0" y1="0" x2="0" y2="1"><stop offset="0" stop-color="#fff" stop-opacity="0.4"/><stop offset="1" stop-color="#fff" stop-opacity="0"/></linearGradient><linearGradient id="h232" x1="0" y1="0" x2="1" y2="0"><stop offset="0" stop-color="#fff" stop-opacity="0"/><stop offset="0.5" stop-color="#fff" stop-opacity="0.36000000000000004"/><stop offset="1" stop-color="#fff" stop-opacity="0"/></linearGradient><linearGradient id="v233" x1="0" y1="0" x2="0" y2="1"><stop offset="0" stop-color="#a5a5fc"/><stop offset="0.5" stop-color="#6e6efc"/><stop offset="1" stop-color="#4646fc"/></linearGradient><linearGradient id="v234" x1="0" y1="0" x2="0" y2="1"><stop offset="0" stop-color="#fff" stop-opacity="0.4"/><stop offset="1" stop-color="#fff" stop-opacity="0"/></linearGradient><linearGradient id="h235" x1="0" y1="0" x2="1" y2="0"><stop offset="0" stop-color="#fff" stop-opacity="0"/><stop offset="0.5" stop-color="#fff" stop-opacity="0.36000000000000004"/><stop offset="1" stop-color="#fff" stop-opacity="0"/></linearGradient><linearGradient id="v236" x1="0" y1="0" x2="0" y2="1"><stop offset="0" stop-color="#a5a5fc"/><stop offset="0.5" stop-color="#6e6efc"/><stop offset="1" stop-color="#4646fc"/></linearGradient><linearGradient id="v237" x1="0" y1="0" x2="0" y2="1"><stop offset="0" stop-color="#fff" stop-opacity="0.4"/><stop offset="1" stop-color="#fff" stop-opacity="0"/></linearGradient><linearGradient id="v238" x1="0" y1="0" x2="0" y2="1"><stop offset="0" stop-color="#ff2020" stop-opacity="0.9"/><stop offset="1" stop-color="#ff8080" stop-opacity="0.0"/></linearGradient><linearGradient id="h239" x1="0" y1="0" x2="1" y2="0"><stop offset="0" stop-color="#fff" stop-opacity="0"/><stop offset="0.5" stop-color="#fff" stop-opacity="0.36000000000000004"/><stop offset="1" stop-color="#fff" stop-opacity="0"/></linearGradient><linearGradient id="v240" x1="0" y1="0" x2="0" y2="1"><stop offset="0" stop-color="#a5a5fc"/><stop offset="0.5" stop-color="#6e6efc"/><stop offset="1" stop-color="#4646fc"/></linearGradient><radialGradient id="hg241" cx="0.5" cy="0" r="1" gradientTransform="translate(0.5 0) scale(0.5 1) translate(-0.5 0)"><stop offset="0" stop-color="#ffffff" stop-opacity="0.95"/><stop offset="0.5" stop-color="#ffffff" stop-opacity="0.6"/><stop offset="1" stop-color="#ffffff" stop-opacity="0"/></radialGradient><radialGradient id="hg242" cx="0.5" cy="0" r="1" gradientTransform="translate(0.5 0) scale(0.5 1) translate(-0.5 0)"><stop offset="0" stop-color="#ffffff" stop-opacity="0.95"/><stop offset="0.55" stop-color="#ffffff" stop-opacity="0.6"/><stop offset="1" stop-color="#ffffff" stop-opacity="0"/></radialGradient><linearGradient id="v243" x1="0" y1="0" x2="0" y2="1"><stop offset="0" stop-color="#ff1010"/><stop offset="0.55" stop-color="#ff2424"/><stop offset="0.85" stop-color="#ff8080" stop-opacity="0.85"/><stop offset="1" stop-color="#ffd0d0" stop-opacity="0.0"/></linearGradient><linearGradient id="v244" x1="0" y1="0" x2="0" y2="1"><stop offset="0" stop-color="#4646fc"/><stop offset="0.1" stop-color="#2323fc"/><stop offset="0.5" stop-color="#1616fc"/><stop offset="1" stop-color="#0e0efc"/></linearGradient><linearGradient id="v245" x1="0" y1="0" x2="0" y2="1"><stop offset="0" stop-color="#4646fc"/><stop offset="0.1" stop-color="#2323fc"/><stop offset="0.5" stop-color="#1616fc"/><stop offset="1" stop-color="#0e0efc"/></linearGradient><linearGradient id="v246" x1="0" y1="0" x2="0" y2="1"><stop offset="0" stop-color="#fff" stop-opacity="0.3"/><stop offset="1" stop-color="#fff" stop-opacity="0"/></linearGradient><linearGradient id="v247" x1="0" y1="0" x2="0" y2="1"><stop offset="0" stop-color="#4646fc"/><stop offset="0.1" stop-color="#2323fc"/><stop offset="0.5" stop-color="#1616fc"/><stop offset="1" stop-color="#0e0efc"/></linearGradient><linearGradient id="v248" x1="0" y1="0" x2="0" y2="1"><stop offset="0" stop-color="#fff" stop-opacity="0.7"/><stop offset="1" stop-color="#fff" stop-opacity="0"/></linearGradient><linearGradient id="v249" x1="0" y1="0" x2="0" y2="1"><stop offset="0" stop-color="#4646fc"/><stop offset="0.1" stop-color="#2323fc"/><stop offset="0.5" stop-color="#1616fc"/><stop offset="1" stop-color="#0e0efc"/></linearGradient><linearGradient id="v250" x1="0" y1="0" x2="0" y2="1"><stop offset="0" stop-color="#ffffff" stop-opacity="0.85"/><stop offset="0.4" stop-color="#ffffff" stop-opacity="0.35"/><stop offset="1" stop-color="#ffffff" stop-opacity="0"/></linearGradient><radialGradient id="hg251" cx="0.5" cy="0" r="1" gradientTransform="translate(0.5 0) scale(0.5 1) translate(-0.5 0)"><stop offset="0" stop-color="#ffffff" stop-opacity="0.95"/><stop offset="0.5" stop-color="#ffffff" stop-opacity="0.6"/><stop offset="1" stop-color="#ffffff" stop-opacity="0"/></radialGradient><radialGradient id="hg252" cx="0.5" cy="0" r="1" gradientTransform="translate(0.5 0) scale(0.5 1) translate(-0.5 0)"><stop offset="0" stop-color="#ffffff" stop-opacity="0.95"/><stop offset="0.5" stop-color="#ffffff" stop-opacity="0.5"/><stop offset="1" stop-color="#ffffff" stop-opacity="0"/></radialGradient><radialGradient id="hg253" cx="0.5" cy="0" r="1" gradientTransform="translate(0.5 0) scale(0.5 1) translate(-0.5 0)"><stop offset="0" stop-color="#ff1010" stop-opacity="1"/><stop offset="0.5" stop-color="#ff2a2a" stop-opacity="0.85"/><stop offset="1" stop-color="#ff8080" stop-opacity="0"/></radialGradient><radialGradient id="hg254" cx="0.5" cy="0" r="1" gradientTransform="translate(0.5 0) scale(0.5 1) translate(-0.5 0)"><stop offset="0" stop-color="#ff1010" stop-opacity="1"/><stop offset="0.5" stop-color="#ff2a2a" stop-opacity="0.85"/><stop offset="1" stop-color="#ff8080" stop-opacity="0"/></radialGradient><linearGradient id="v255" x1="0" y1="0" x2="0" y2="1"><stop offset="0" stop-color="#ff1a1a" stop-opacity="0.95"/><stop offset="0.5" stop-color="#ff3030" stop-opacity="0.6"/><stop offset="1" stop-color="#ff6060" stop-opacity="0"/></linearGradient></defs><text transform="translate(3.83,19.90)" font-size="18.5" font-weight="bold">a</text><text transform="translate(72.30,73.81) rotate(-90) scale(1.006,1)" font-size="12.6">NCI-H660</text><text transform="translate(91.00,73.84) rotate(-90) scale(1.029,1)" font-size="12.6">PC-3</text><text transform="translate(108.50,73.81) rotate(-90) scale(1.001,1)" font-size="12.6">LNCaP</text><text transform="translate(127.30,73.70) rotate(-90) scale(0.953,1)" font-size="12.6">22Rv1</text><rect x="59.4" y="75.60" width="73.9" height="18.70" fill="#dedede" stroke="#2a2a2a" stroke-width="1.1"/><text transform="translate(15.12,89.90)" font-size="12.5">FOXA1</text><text transform="translate(135.49,89.90)" font-size="10.3">-50</text><rect x="59.4" y="97.60" width="73.9" height="19.10" fill="#dedede" stroke="#2a2a2a" stroke-width="1.1"/><text transform="translate(15.12,111.80)" font-size="12.5">FOXA2</text><text transform="translate(135.49,110.90)" font-size="10.3">-50</text><rect x="59.4" y="120.60" width="73.9" height="18.70" fill="#dedede" stroke="#2a2a2a" stroke-width="1.1"/><text transform="translate(24.75,134.00)" font-size="12.5">LSD1</text><text transform="translate(135.49,137.70)" font-size="10.3">-100</text><rect x="59.4" y="142.80" width="73.9" height="19.00" fill="#dedede" stroke="#2a2a2a" stroke-width="1.1"/><text transform="translate(38.62,156.20)" font-size="12.5">AR</text><text transform="translate(135.49,157.10)" font-size="10.3">-100</text><rect x="59.4" y="164.90" width="73.9" height="18.10" fill="#dedede" stroke="#2a2a2a" stroke-width="1.1"/><text transform="translate(19.37,178.40)" font-size="12.5">CHGA</text><text transform="translate(135.49,183.30)" font-size="10.3">-100</text><rect x="59.4" y="186.80" width="73.9" height="18.50" fill="#dedede" stroke="#2a2a2a" stroke-width="1.1"/><text transform="translate(12.00,198.90)" font-size="12.5">GAPDH</text><text transform="translate(135.49,198.50)" font-size="10.3">-37</text><text transform="translate(137.08,213.60)" font-size="10.3">kDa</text><g filter="url(#bblur)"><rect x="62.60" y="84.90" width="11.30" height="2.60" rx="1.30" fill="#000" fill-opacity="1.0"/><rect x="98.50" y="85.00" width="11.10" height="2.60" rx="1.30" fill="#000" fill-opacity="1.0"/><rect x="116.40" y="84.40" width="12.60" height="3.00" rx="1.50" fill="#000" fill-opacity="1.0"/><rect x="64.20" y="104.90" width="11.40" height="7.00" rx="2.50" fill="#000" fill-opacity="1.0"/><rect x="81.40" y="104.50" width="12.00" height="7.80" rx="2.50" fill="#000" fill-opacity="1.0"/><rect x="61.80" y="128.30" width="13.80" height="4.60" rx="2.30" fill="#000" fill-opacity="1.0"/><rect x="80.80" y="129.80" width="12.70" height="2.60" rx="1.30" fill="#000" fill-opacity="0.9"/><rect x="99.00" y="129.40" width="12.80" height="4.00" rx="2.00" fill="#000" fill-opacity="1.0"/><rect x="117.00" y="131.10" width="12.20" height="2.60" rx="1.30" fill="#000" fill-opacity="0.25"/><rect x="97.40" y="147.30" width="14.60" height="7.00" rx="2.50" fill="#000" fill-opacity="1.0"/><rect x="116.80" y="146.20" width="12.60" height="3.40" rx="1.70" fill="#000" fill-opacity="1.0"/><rect x="64.70" y="172.90" width="12.00" height="2.60" rx="1.30" fill="#000" fill-opacity="0.95"/><rect x="63.40" y="193.10" width="14.60" height="4.60" rx="2.30" fill="#000" fill-opacity="1.0"/><rect x="80.80" y="192.90" width="15.40" height="5.00" rx="2.50" fill="#000" fill-opacity="1.0"/><rect x="99.00" y="192.90" width="14.90" height="5.00" rx="2.50" fill="#000" fill-opacity="1.0"/><rect x="117.00" y="193.60" width="14.30" height="4.00" rx="2.00" fill="#000" fill-opacity="1.0"/></g><rect x="117" y="149.5" width="10" height="2" fill="#000" fill-opacity="0.25"/><rect x="65" y="176" width="9" height="1.5" fill="#000" fill-opacity="0.35"/><path d="M59.6,186.8 Q62.4,190 59.6,194" fill="#000" stroke="#000" stroke-width="0.8"/><rect x="131.2" y="98" width="1.2" height="7" fill="#000"/><text transform="translate(165.09,21.60)" font-size="18.5" font-weight="bold">b</text><text transform="translate(198.53,36.35) rotate(-48)" font-size="12.6">FOXA1-</text><text transform="translate(212.33,45.55) rotate(-48)" font-size="12.6">LNCaP</text><text transform="translate(240.53,38.85) rotate(-48)" font-size="12.6">FOXA2-</text><text transform="translate(257.63,42.95) rotate(-48)" font-size="12.6">PC-3</text><rect x="189.0" y="47" width="37.90" height="219.5" fill="#b4b4b4"/><rect x="189.00" y="47.40" width="37.90" height="160.90" fill="url(#v1)"/><rect x="189.00" y="209.30" width="37.90" height="24.50" fill="url(#v2)"/><rect x="189.00" y="234.80" width="37.90" height="31.20" fill="url(#v3)"/><path d="M203.75,47.4 L212.15,47.4 Q209.95,90 209.25,208 L206.65,208 Q205.95,90 203.75,47.4 Z" fill="url(#h4)" opacity="0.8"/><path d="M205.35,47.4 L210.55,47.4 Q209.15,90 208.65,208 L207.25,208 Q206.75,90 205.35,47.4 Z" fill="url(#v5)"/><path d="M201.95,209.3 L213.95,209.3 L208.75,233 L207.15,233 Z" fill="url(#h4)"/><path d="M204.75,209.3 L211.15,209.3 L207.95,229 Z" fill="url(#v6)"/><rect x="207.15" y="234.8" width="1.6" height="31" fill="#fff" fill-opacity="0.3"/><rect x="211" y="90.19999999999999" width="15.30" height="0.8" fill="#101050" fill-opacity="0.75"/><rect x="211" y="101.89999999999999" width="15.30" height="0.8" fill="#101050" fill-opacity="0.75"/><rect x="211" y="152.1" width="15.30" height="0.8" fill="#101050" fill-opacity="0.75"/><rect x="222" y="57.6" width="4.30" height="0.8" fill="#101050" fill-opacity="0.75"/><rect x="222" y="128.29999999999998" width="4.30" height="0.8" fill="#101050" fill-opacity="0.75"/><rect x="222" y="138.5" width="4.30" height="0.8" fill="#101050" fill-opacity="0.75"/><rect x="222" y="142.29999999999998" width="4.30" height="0.8" fill="#101050" fill-opacity="0.75"/><rect x="218" y="239.1" width="8.30" height="0.8" fill="#101050" fill-opacity="0.6"/><rect x="222" y="249.6" width="4.30" height="0.8" fill="#101050" fill-opacity="0.6"/><rect x="230.0" y="47" width="37.60" height="219.5" fill="#b4b4b4"/><rect x="230.00" y="47.40" width="37.60" height="160.90" fill="url(#v7)"/><rect x="230.00" y="209.30" width="37.60" height="24.50" fill="url(#v8)"/><rect x="230.00" y="234.80" width="37.60" height="31.20" fill="url(#v9)"/><rect x="247.60" y="47.4" width="1.8" height="161" fill="#fff" fill-opacity="0.25"/><path d="M244.50,209.3 L252.50,209.3 L249.30,233 L247.70,233 Z" fill="url(#h10)"/><path d="M246.30,209.3 L250.70,209.3 L248.50,231 Z" fill="url(#v11)"/><path d="M244.00,234.8 L253.00,234.8 L249.30,265 L247.70,265 Z" fill="url(#h10)"/><path d="M246.30,234.8 L250.70,234.8 L248.50,262 Z" fill="url(#v12)"/><rect x="259" y="61.0" width="8.00" height="0.8" fill="#101050" fill-opacity="0.75"/><rect x="261.3" y="79.0" width="5.70" height="0.8" fill="#101050" fill-opacity="0.75"/><rect x="250" y="119.6" width="17.00" height="0.8" fill="#101050" fill-opacity="0.75"/><rect x="250" y="151.0" width="17.00" height="0.8" fill="#101050" fill-opacity="0.75"/><rect x="252" y="206.9" width="15.00" height="0.8" fill="#101050" fill-opacity="0.75"/><rect x="258" y="224.1" width="9.00" height="0.8" fill="#101050" fill-opacity="0.75"/><rect x="252" y="244.1" width="15.00" height="0.8" fill="#101050" fill-opacity="0.75"/><rect x="256" y="262.1" width="11.00" height="0.8" fill="#101050" fill-opacity="0.75"/><text transform="translate(155.70,270.02) rotate(-90) scale(0.998,1)" font-size="12.8">FOXA2-</text><text transform="translate(171.10,268.05) rotate(-90) scale(1.000,1)" font-size="12.7">specific</text><path d="M174.1,250.9 L181,250.9" stroke="#000" stroke-width="1.9"/><path d="M179.8,247.6 L187.2,250.9 L179.8,254.2 Z" fill="#000"/><text transform="translate(146.89,284.90) scale(0.995,1)" font-size="10.3">ChIP-Seq signals (±2kb) centered</text><text transform="translate(150.79,296.00) scale(0.992,1)" font-size="10.3">at total FOXA1 or 2 binding sites</text><text transform="translate(319.05,20.90)" font-size="18.5" font-weight="bold">c</text><rect x="353.50" y="47.20" width="34.10" height="215.40" fill="#1212fa"/><rect x="353.50" y="47.20" width="34.10" height="215.40" fill="#fff" filter="url(#speck)" opacity="0.32"/><rect x="353.50" y="179.00" width="34.10" height="83.60" fill="#fff" filter="url(#speck2)" opacity="0.35"/><path d="M368.05,47.40 L373.05,47.40 L370.55,51.40 Z" fill="url(#v13)"/><rect x="353.50" y="51.90" width="34.10" height="1.40" fill="#ff2020" fill-opacity="0.9"/><path d="M366.55,52.40 L374.55,52.40 L370.55,62.40 Z" fill="url(#v14)"/><path d="M367.55,62.80 L373.55,62.80 L370.55,70.80 Z" fill="url(#v15)"/><path d="M368.55,71.20 L372.55,71.20 L370.55,76.20 Z" fill="url(#v16)"/><path d="M365.05,76.80 L376.05,76.80 L373.05,178.50 L368.05,178.50 Z" fill="url(#h17)"/><path d="M367.30,76.80 L373.80,76.80 L371.85,178.50 L369.25,178.50 Z" fill="url(#v18)"/><rect x="369.55" y="179" width="2" height="83" fill="#fff" fill-opacity="0.25"/><rect x="353.50" y="50.95" width="34.10" height="0.90" fill="#9a9aa6" fill-opacity="1.0"/><rect x="353.50" y="61.95" width="34.10" height="0.90" fill="#9a9aa6" fill-opacity="1.0"/><rect x="353.50" y="70.45" width="34.10" height="0.90" fill="#9a9aa6" fill-opacity="1.0"/><rect x="353.50" y="76.15" width="34.10" height="0.90" fill="#9a9aa6" fill-opacity="1.0"/><rect x="353.50" y="178.55" width="34.10" height="0.90" fill="#9a9aa6" fill-opacity="1.0"/><rect x="353.50" y="220.85" width="34.10" height="0.90" fill="#9a9aa6" fill-opacity="1.0"/><rect x="390.00" y="47.20" width="34.00" height="215.40" fill="#1212fa"/><rect x="390.00" y="47.20" width="34.00" height="215.40" fill="#fff" filter="url(#speck)" opacity="0.3"/><rect x="390.00" y="179.00" width="34.00" height="83.60" fill="#fff" filter="url(#speck2)" opacity="0.35"/><path d="M405.00,47.40 L409.00,47.40 L407.00,51.40 Z" fill="url(#v19)"/><rect x="390.00" y="51.90" width="34.00" height="1.40" fill="#ff2020" fill-opacity="0.9"/><path d="M403.00,52.40 L411.00,52.40 L407.00,62.40 Z" fill="url(#v20)"/><path d="M404.50,71.20 L409.50,71.20 L407.00,76.20 Z" fill="url(#v21)"/><rect x="406.00" y="77" width="2" height="102" fill="#fff" fill-opacity="0.15"/><path d="M402.50,179.40 L411.50,179.40 L410.50,220.80 L403.50,220.80 Z" fill="url(#h22)"/><path d="M405.00,179.40 L409.00,179.40 L408.50,220.80 L405.50,220.80 Z" fill="url(#v23)"/><rect x="390.00" y="50.95" width="34.00" height="0.90" fill="#9a9aa6" fill-opacity="1.0"/><rect x="390.00" y="61.95" width="34.00" height="0.90" fill="#9a9aa6" fill-opacity="1.0"/><rect x="390.00" y="70.45" width="34.00" height="0.90" fill="#9a9aa6" fill-opacity="1.0"/><rect x="390.00" y="76.15" width="34.00" height="0.90" fill="#9a9aa6" fill-opacity="1.0"/><rect x="390.00" y="178.55" width="34.00" height="0.90" fill="#9a9aa6" fill-opacity="1.0"/><rect x="390.00" y="220.85" width="34.00" height="0.90" fill="#9a9aa6" fill-opacity="1.0"/><rect x="426.30" y="47.20" width="33.00" height="215.40" fill="#1212fa"/><rect x="426.30" y="47.20" width="33.00" height="215.40" fill="#fff" filter="url(#speck)" opacity="0.38"/><rect x="426.30" y="179.00" width="33.00" height="83.60" fill="#fff" filter="url(#speck2)" opacity="0.35"/><path d="M438.80,47.40 L446.80,47.40 L442.80,51.90 Z" fill="url(#v24)"/><path d="M438.80,62.80 L446.80,62.80 L442.80,70.80 Z" fill="url(#v25)"/><path d="M438.80,71.20 L446.80,71.20 L442.80,76.70 Z" fill="url(#v26)"/><rect x="441.30" y="77" width="3" height="144" fill="#fff" fill-opacity="0.3"/><path d="M434.80,221.60 L450.80,221.60 L446.80,262.40 L438.80,262.40 Z" fill="url(#h27)"/><path d="M439.55,221.60 L446.05,221.60 L444.30,262.40 L441.30,262.40 Z" fill="url(#v28)"/><rect x="426.30" y="50.95" width="33.00" height="0.90" fill="#9a9aa6" fill-opacity="1.0"/><rect x="426.30" y="61.95" width="33.00" height="0.90" fill="#9a9aa6" fill-opacity="1.0"/><rect x="426.30" y="70.45" width="33.00" height="0.90" fill="#9a9aa6" fill-opacity="1.0"/><rect x="426.30" y="76.15" width="33.00" height="0.90" fill="#9a9aa6" fill-opacity="1.0"/><rect x="426.30" y="178.55" width="33.00" height="0.90" fill="#9a9aa6" fill-opacity="1.0"/><rect x="426.30" y="220.85" width="33.00" height="0.90" fill="#9a9aa6" fill-opacity="1.0"/><rect x="480.00" y="47.20" width="33.20" height="215.40" fill="#1212fa"/><rect x="480.00" y="47.20" width="33.20" height="215.40" fill="#fff" filter="url(#speck)" opacity="0.3"/><rect x="480.00" y="179.00" width="33.20" height="83.60" fill="#fff" filter="url(#speck2)" opacity="0.3"/><path d="M493.60,47.40 L499.60,47.40 L496.60,51.40 Z" fill="url(#v29)"/><rect x="480.00" y="51.80" width="33.20" height="1.20" fill="#ff2020" fill-opacity="0.8"/><path d="M493.60,52.40 L499.60,52.40 L496.60,62.40 Z" fill="url(#v30)"/><path d="M494.10,62.80 L499.10,62.80 L496.60,70.80 Z" fill="url(#v31)"/><path d="M495.10,71.20 L498.10,71.20 L496.60,76.20 Z" fill="url(#v32)"/><path d="M491.10,76.80 L502.10,76.80 L498.60,178.50 L494.60,178.50 Z" fill="url(#h33)"/><path d="M494.10,76.80 L499.10,76.80 L497.60,178.50 L495.60,178.50 Z" fill="url(#v34)"/><rect x="495.60" y="179" width="2" height="83" fill="#fff" fill-opacity="0.15"/><rect x="480.00" y="50.95" width="33.20" height="0.90" fill="#9a9aa6" fill-opacity="1.0"/><rect x="480.00" y="61.95" width="33.20" height="0.90" fill="#9a9aa6" fill-opacity="1.0"/><rect x="480.00" y="70.45" width="33.20" height="0.90" fill="#9a9aa6" fill-opacity="1.0"/><rect x="480.00" y="76.15" width="33.20" height="0.90" fill="#9a9aa6" fill-opacity="1.0"/><rect x="480.00" y="178.55" width="33.20" height="0.90" fill="#9a9aa6" fill-opacity="1.0"/><rect x="480.00" y="220.85" width="33.20" height="0.90" fill="#9a9aa6" fill-opacity="1.0"/><rect x="515.20" y="47.20" width="33.40" height="215.40" fill="#1212fa"/><rect x="515.20" y="47.20" width="33.40" height="215.40" fill="#fff" filter="url(#speck)" opacity="0.12"/><rect x="515.20" y="179.00" width="33.40" height="83.60" fill="#fff" filter="url(#speck2)" opacity="0.3"/><path d="M527.90,47.40 L535.90,47.40 L531.90,51.40 Z" fill="url(#v35)"/><rect x="515.20" y="51.80" width="33.40" height="1.20" fill="#ff2020" fill-opacity="0.7"/><path d="M527.40,52.40 L536.40,52.40 L531.90,62.40 Z" fill="url(#v36)"/><path d="M529.90,62.80 L533.90,62.80 L531.90,66.80 Z" fill="url(#v37)"/><path d="M528.40,71.20 L535.40,71.20 L531.90,76.70 Z" fill="url(#v38)"/><rect x="530.90" y="77" width="2" height="80" fill="#fff" fill-opacity="0.35"/><path d="M525.90,179.40 L536.90,179.40 L533.40,216.00 L529.40,216.00 Z" fill="url(#h39)"/><path d="M528.40,179.40 L534.40,179.40 L532.40,216.00 L530.40,216.00 Z" fill="url(#v40)"/><rect x="515.20" y="221.90" width="33.40" height="1.20" fill="#ff2020" fill-opacity="0.6"/><rect x="530.90" y="222" width="2" height="20" fill="#fff" fill-opacity="0.3"/><rect x="515.20" y="50.95" width="33.40" height="0.90" fill="#9a9aa6" fill-opacity="1.0"/><rect x="515.20" y="61.95" width="33.40" height="0.90" fill="#9a9aa6" fill-opacity="1.0"/><rect x="515.20" y="70.45" width="33.40" height="0.90" fill="#9a9aa6" fill-opacity="1.0"/><rect x="515.20" y="76.15" width="33.40" height="0.90" fill="#9a9aa6" fill-opacity="1.0"/><rect x="515.20" y="178.55" width="33.40" height="0.90" fill="#9a9aa6" fill-opacity="1.0"/><rect x="515.20" y="220.85" width="33.40" height="0.90" fill="#9a9aa6" fill-opacity="1.0"/><rect x="571.20" y="47.20" width="36.50" height="215.40" fill="#1212fa"/><rect x="571.20" y="47.20" width="36.50" height="215.40" fill="#fff" filter="url(#speck)" opacity="0.12"/><rect x="571.20" y="48.00" width="36.50" height="1.20" fill="#ff2020" fill-opacity="0.35"/><rect x="571.20" y="52.00" width="36.50" height="1.60" fill="#ff2020" fill-opacity="0.75"/><path d="M577.45,52.60 L601.45,52.60 L589.45,60.60 Z" fill="url(#v41)"/><path d="M575.20,53 L603.70,53 L591.45,61 L587.45,61 Z" fill="url(#h42)"/><rect x="571.20" y="62.70" width="36.50" height="1.40" fill="#ff2020" fill-opacity="0.6"/><path d="M578.45,63.20 L600.45,63.20 L589.45,69.20 Z" fill="url(#v43)"/><path d="M576.20,63.5 L602.70,63.5 L591.45,70 L587.45,70 Z" fill="url(#h42)"/><path d="M572.20,78 L606.70,78 Q594.45,92 590.45,165 L588.45,165 Q584.45,92 572.20,78 Z" fill="url(#h44)" mask="url(#mfade)"/><g mask="url(#mfade)"><path d="M572.20,78 L606.70,78 Q594.45,92 590.45,165 L588.45,165 Q584.45,92 572.20,78 Z" fill="#fff" filter="url(#speckM)" opacity="0.75"/></g><path d="M571.20,76.8 L607.70,76.8 L607.70,82 Q595.45,88 591.45,104 L587.45,104 Q583.45,88 571.20,82 Z" fill="url(#v45)" filter="url(#speckM)"/><path d="M571.20,76.8 L607.70,76.8 L607.70,80 Q595.45,86 591.45,96 L587.45,96 Q583.45,86 571.20,80 Z" fill="url(#v45)" opacity="0.55"/><rect x="571.20" y="179.35" width="36.50" height="1.30" fill="#ff2020" fill-opacity="0.55"/><rect x="571.20" y="180.70" width="36.50" height="1.00" fill="#ffffff" fill-opacity="0.4"/><rect x="571.20" y="221.65" width="36.50" height="1.30" fill="#ff2020" fill-opacity="0.55"/><rect x="571.20" y="223.00" width="36.50" height="1.00" fill="#ffffff" fill-opacity="0.4"/><rect x="571.20" y="50.95" width="36.50" height="0.90" fill="#9a9aa6" fill-opacity="1.0"/><rect x="571.20" y="61.95" width="36.50" height="0.90" fill="#9a9aa6" fill-opacity="1.0"/><rect x="571.20" y="70.45" width="36.50" height="0.90" fill="#9a9aa6" fill-opacity="1.0"/><rect x="571.20" y="76.15" width="36.50" height="0.90" fill="#9a9aa6" fill-opacity="1.0"/><rect x="571.20" y="178.55" width="36.50" height="0.90" fill="#9a9aa6" fill-opacity="1.0"/><rect x="571.20" y="220.85" width="36.50" height="0.90" fill="#9a9aa6" fill-opacity="1.0"/><rect x="610.30" y="47.20" width="32.40" height="215.40" fill="#1212fa"/><rect x="610.30" y="47.20" width="32.40" height="215.40" fill="#fff" filter="url(#speck2)" opacity="0.2"/><rect x="610.30" y="47.50" width="32.40" height="1.40" fill="#ff2020" fill-opacity="0.6"/><rect x="610.30" y="52.10" width="32.40" height="1.40" fill="#ff2020" fill-opacity="0.6"/><path d="M610.30,53.5 L642.70,53.5 L629.50,60 L623.50,60 Z" fill="url(#h46)"/><rect x="610.30" y="62.70" width="32.40" height="2.20" fill="#ff2020" fill-opacity="0.7"/><path d="M614.50,63.40 L638.50,63.40 L626.50,69.40 Z" fill="url(#v47)"/><path d="M610.30,64 L642.70,64 L629.50,70 L623.50,70 Z" fill="url(#h46)"/><rect x="610.30" y="71.30" width="32.40" height="1.80" fill="#ff2020" fill-opacity="0.65"/><path d="M615.50,71.80 L637.50,71.80 L626.50,75.80 Z" fill="url(#v48)"/><g mask="url(#mfade)"><rect x="610.30" y="76.6" width="32.40" height="102.4" fill="#fff" filter="url(#speck2)" opacity="0.65"/></g><rect x="610.30" y="76.8" width="32.40" height="5" fill="#ff2020" filter="url(#speckM)" opacity="0.9"/><rect x="610.30" y="76.80" width="32.40" height="1.60" fill="#ff2020" fill-opacity="0.5"/><g mask="url(#mfade)"><rect x="610.30" y="179" width="32.40" height="42.3" fill="#fff" filter="url(#speck2)" opacity="0.9"/></g><rect x="610.30" y="179.50" width="32.40" height="1.40" fill="#ff2020" fill-opacity="0.5"/><path d="M612.50,179.4 L640.50,179.4 L626.50,186 Z" fill="#ff2020" filter="url(#speckM)" opacity="0.9"/><rect x="610.30" y="221.3" width="32.40" height="41.3" fill="#fff" filter="url(#speck2)" opacity="0.6"/><g mask="url(#mfade)"><path d="M610.30,224 L642.70,224 Q631.50,236 628.50,262 L624.50,262 Q621.50,236 610.30,224 Z" fill="#fff" filter="url(#speckM)"/></g><path d="M610.30,221.6 L642.70,221.6 L642.70,226 Q631.50,230 627.50,242 L625.50,242 Q621.50,230 610.30,226 Z" fill="url(#v50)" filter="url(#speckM)"/><path d="M610.30,221.6 L642.70,221.6 L642.70,224 Q631.50,227 627.50,234 L625.50,234 Q621.50,227 610.30,224 Z" fill="#ff2020" opacity="0.6"/><rect x="610.30" y="50.95" width="32.40" height="0.90" fill="#9a9aa6" fill-opacity="1.0"/><rect x="610.30" y="61.95" width="32.40" height="0.90" fill="#9a9aa6" fill-opacity="1.0"/><rect x="610.30" y="70.45" width="32.40" height="0.90" fill="#9a9aa6" fill-opacity="1.0"/><rect x="610.30" y="76.15" width="32.40" height="0.90" fill="#9a9aa6" fill-opacity="1.0"/><rect x="610.30" y="178.55" width="32.40" height="0.90" fill="#9a9aa6" fill-opacity="1.0"/><rect x="610.30" y="220.85" width="32.40" height="0.90" fill="#9a9aa6" fill-opacity="1.0"/><text transform="translate(372.08,44.32) rotate(-45)" font-size="12.8">PC-3</text><text transform="translate(405.98,44.12) rotate(-45)" font-size="12.8">H660</text><text transform="translate(439.55,44.35) rotate(-45)" font-size="12.8">201.2</text><text transform="translate(500.28,45.82) rotate(-45)" font-size="12.8">PC3</text><text transform="translate(532.58,44.62) rotate(-45)" font-size="12.8">H660</text><text transform="translate(591.78,43.02) rotate(-45)" font-size="12.8">PC3</text><text transform="translate(622.45,43.85) rotate(-45)" font-size="12.8">201.2</text><text transform="translate(339.00,170.84) rotate(-90) scale(1.001,1)" font-size="13.0">FOXA2</text><text transform="translate(349.90,139.32) rotate(-90) scale(1.001,1)" font-size="10.4">(19,800)</text><text transform="translate(349.90,211.72) rotate(-90) scale(0.990,1)" font-size="10.4">(8,185)</text><text transform="translate(349.90,252.01) rotate(-90) scale(0.977,1)" font-size="10.4">(7,889)</text><text transform="translate(476.40,157.00) rotate(-90) scale(1.023,1)" font-size="13.0">ATAC</text><text transform="translate(566.40,167.83) rotate(-90) scale(1.001,1)" font-size="12.8">H3K27ac</text><text transform="translate(644.60,106.90) rotate(90) scale(0.983,1)" font-size="10.2" font-weight="bold">Class 1</text><text transform="translate(644.60,179.99) rotate(90) scale(1.015,1)" font-size="10.2" font-weight="bold">Class 2</text><text transform="translate(644.60,222.59) rotate(90) scale(1.015,1)" font-size="10.2" font-weight="bold">Class 3</text><text transform="translate(355.69,275.60) scale(0.999,1)" font-size="10.3">ChIP-Seq signals (±2kb) centered at total FOXA2 binding sites</text><text transform="translate(5.66,318.60)" font-size="18.5" font-weight="bold">d</text><rect x="22.8" y="348.2" width="268.5" height="25.6" fill="#fcc8c8"/><rect x="60.9" y="460.4" width="230.4" height="10.6" fill="#fcc8c8"/><rect x="54.4" y="569.6" width="236.9" height="11.4" fill="#fcc8c8"/><rect x="294.0" y="322.4" width="45.10000000000002" height="259.20000000000005" fill="#fff"/><rect x="301.60" y="322.4" width="1" height="259.2" fill="#e6e6e6"/><rect x="316.00" y="322.4" width="1" height="259.2" fill="#e6e6e6"/><rect x="330.30" y="322.4" width="1" height="259.2" fill="#e6e6e6"/><rect x="294.0" y="329.00" width="45.1" height="1" fill="#e6e6e6"/><rect x="294.0" y="341.29" width="45.1" height="1" fill="#e6e6e6"/><rect x="294.0" y="353.58" width="45.1" height="1" fill="#e6e6e6"/><rect x="294.0" y="365.87" width="45.1" height="1" fill="#e6e6e6"/><rect x="294.0" y="378.16" width="45.1" height="1" fill="#e6e6e6"/><rect x="294.0" y="390.45" width="45.1" height="1" fill="#e6e6e6"/><rect x="294.0" y="402.74" width="45.1" height="1" fill="#e6e6e6"/><rect x="294.0" y="415.03" width="45.1" height="1" fill="#e6e6e6"/><rect x="294.0" y="427.32" width="45.1" height="1" fill="#e6e6e6"/><rect x="294.0" y="439.61" width="45.1" height="1" fill="#e6e6e6"/><rect x="294.0" y="451.90" width="45.1" height="1" fill="#e6e6e6"/><rect x="294.0" y="464.19" width="45.1" height="1" fill="#e6e6e6"/><rect x="294.0" y="476.48" width="45.1" height="1" fill="#e6e6e6"/><rect x="294.0" y="488.77" width="45.1" height="1" fill="#e6e6e6"/><rect x="294.0" y="501.06" width="45.1" height="1" fill="#e6e6e6"/><rect x="294.0" y="513.35" width="45.1" height="1" fill="#e6e6e6"/><rect x="294.0" y="525.64" width="45.1" height="1" fill="#e6e6e6"/><rect x="294.0" y="537.93" width="45.1" height="1" fill="#e6e6e6"/><rect x="294.0" y="550.22" width="45.1" height="1" fill="#e6e6e6"/><rect x="294.0" y="562.51" width="45.1" height="1" fill="#e6e6e6"/><rect x="294.0" y="574.80" width="45.1" height="1" fill="#e6e6e6"/><text transform="translate(143.66,333.80) scale(1.025,1)" font-size="10.0" fill="#111" stroke="#111" stroke-width="0.18">CELL_JUNCTION_ASSEMBLY</text><rect x="291.0" y="329.05" width="3.0" height="0.9" fill="#333"/><text transform="translate(124.40,346.04) scale(1.025,1)" font-size="10.0" fill="#111" stroke="#111" stroke-width="0.18">ACTIN_FILAMENT_ORGNIZATION</text><rect x="291.0" y="341.34" width="3.0" height="0.9" fill="#333"/><text transform="translate(82.80,358.27) scale(1.025,1)" font-size="10.0" fill="#4a1414" stroke="#4a1414" stroke-width="0.18">MESENCHYMAL_CELL_DEFERENTIATION</text><rect x="291.0" y="353.63" width="3.0" height="0.9" fill="#333"/><text transform="translate(26.96,370.50) scale(1.025,1)" font-size="10.0" fill="#4a1414" stroke="#4a1414" stroke-width="0.18">MORPHOGENESIS_OF_A_BRANCHING_STRUCTURE</text><rect x="291.0" y="365.92" width="3.0" height="0.9" fill="#333"/><text transform="translate(52.17,382.74) scale(1.025,1)" font-size="10.0" fill="#111" stroke="#111" stroke-width="0.18">REGULATION_OF_CELL_JUNCTION_ASSEMBLY</text><rect x="291.0" y="378.21" width="3.0" height="0.9" fill="#333"/><text transform="translate(100.43,394.98) scale(1.025,1)" font-size="10.0" fill="#111" stroke="#111" stroke-width="0.18">AMEBOIDAL_TYPE_CELL_MIGARTION</text><rect x="291.0" y="390.50" width="3.0" height="0.9" fill="#333"/><text transform="translate(120.20,407.21) scale(1.025,1)" font-size="10.0" fill="#111" stroke="#111" stroke-width="0.18">CELL_CELL_SIGNALING_BY_WNT</text><rect x="291.0" y="402.79" width="3.0" height="0.9" fill="#333"/><text transform="translate(174.81,419.44) scale(1.025,1)" font-size="10.0" fill="#111" stroke="#111" stroke-width="0.18">AXON_DEVELOPMENT</text><rect x="291.0" y="415.08" width="3.0" height="0.9" fill="#333"/><text transform="translate(32.70,431.68) scale(1.025,1)" font-size="10.0" fill="#111" stroke="#111" stroke-width="0.18">REGULATION_OF_ANATOMICAL_STRUCTURE_SIZE</text><rect x="291.0" y="427.37" width="3.0" height="0.9" fill="#333"/><text transform="translate(0.42,443.92) scale(1.025,1)" font-size="10.0" fill="#111" stroke="#111" stroke-width="0.18">REGULATION_OF_CELLULOR_COMPONENT_BIOGENESIS</text><rect x="291.0" y="439.66" width="3.0" height="0.9" fill="#333"/><text transform="translate(96.63,456.15) scale(1.025,1)" font-size="10.0" fill="#111" stroke="#111" stroke-width="0.18">SENSORY_ORGAN_MORPHOGENESIS</text><rect x="291.0" y="451.95" width="3.0" height="0.9" fill="#333"/><text transform="translate(61.90,468.38) scale(1.025,1)" font-size="10.0" fill="#4a1414" stroke="#4a1414" stroke-width="0.18">REGULATION_OF_NERVOUS_DEVELOPMENT</text><rect x="291.0" y="464.24" width="3.0" height="0.9" fill="#333"/><text transform="translate(98.79,480.62) scale(1.025,1)" font-size="10.0" fill="#111" stroke="#111" stroke-width="0.18">EMBRYONIC_ORGAN_DEVELOPMENT</text><rect x="291.0" y="476.53" width="3.0" height="0.9" fill="#333"/><text transform="translate(111.29,492.86) scale(1.025,1)" font-size="10.0" fill="#111" stroke="#111" stroke-width="0.18">NEURON_PROJECTION_GUIDENCE</text><rect x="291.0" y="488.82" width="3.0" height="0.9" fill="#333"/><text transform="translate(90.18,505.09) scale(1.025,1)" font-size="10.0" fill="#111" stroke="#111" stroke-width="0.18">UROGENITAL_SYSTEM_DEVELOPMENT</text><rect x="291.0" y="501.11" width="3.0" height="0.9" fill="#333"/><text transform="translate(182.80,517.33) scale(1.025,1)" font-size="10.0" fill="#111" stroke="#111" stroke-width="0.18">EAR_DEVELOPMENT</text><rect x="291.0" y="513.40" width="3.0" height="0.9" fill="#333"/><text transform="translate(87.31,529.56) scale(1.025,1)" font-size="10.0" fill="#111" stroke="#111" stroke-width="0.18">CAMERA_TYPE_EYE_MORPHOGENESIS</text><rect x="291.0" y="525.69" width="3.0" height="0.9" fill="#333"/><text transform="translate(94.59,541.80) scale(1.025,1)" font-size="10.0" fill="#111" stroke="#111" stroke-width="0.18">KIDNEY_EPETHELIUM_DEVELOPMENT</text><rect x="291.0" y="537.98" width="3.0" height="0.9" fill="#333"/><text transform="translate(126.04,554.03) scale(1.025,1)" font-size="10.0" fill="#111" stroke="#111" stroke-width="0.18">APPENDAGE_MORPHOGENESIS</text><rect x="291.0" y="550.27" width="3.0" height="0.9" fill="#333"/><text transform="translate(140.08,566.26) scale(1.025,1)" font-size="10.0" fill="#111" stroke="#111" stroke-width="0.18">APPENDAGE_DEVELOPMENT</text><rect x="291.0" y="562.56" width="3.0" height="0.9" fill="#333"/><text transform="translate(56.98,578.50) scale(1.025,1)" font-size="10.0" fill="#4a1414" stroke="#4a1414" stroke-width="0.18">REGULATION_OF_WNT_SIGNALING_PATHWAY</text><rect x="291.0" y="574.85" width="3.0" height="0.9" fill="#333"/><clipPath id="dclip"><rect x="294.0" y="322.4" width="45.10000000000002" height="259.20000000000005"/></clipPath><g clip-path="url(#dclip)"><circle cx="302.1" cy="329.50" r="7.6" fill="#5aaef0" fill-opacity="0.92"/><circle cx="316.5" cy="329.50" r="3.5" fill="#5a88b8" fill-opacity="0.92"/><circle cx="330.8" cy="329.50" r="5.6" fill="#5a88b8" fill-opacity="0.92"/><circle cx="302.1" cy="341.79" r="6.1" fill="#5aaef0" fill-opacity="0.92"/><circle cx="302.1" cy="354.08" r="5.3" fill="#4d6c8e" fill-opacity="0.92"/><circle cx="302.1" cy="366.37" r="5.2" fill="#4d6c8e" fill-opacity="0.92"/><circle cx="302.1" cy="378.66" r="5.2" fill="#4d6c8e" fill-opacity="0.92"/><circle cx="302.1" cy="390.95" r="5.0" fill="#5aaef0" fill-opacity="0.92"/><circle cx="330.8" cy="390.95" r="4.7" fill="#5a88b8" fill-opacity="0.92"/><circle cx="302.1" cy="403.24" r="5.0" fill="#5aaef0" fill-opacity="0.92"/><circle cx="330.8" cy="403.24" r="3.1" fill="#5a88b8" fill-opacity="0.92"/><circle cx="302.1" cy="415.53" r="5.0" fill="#5aaef0" fill-opacity="0.92"/><circle cx="316.5" cy="415.53" r="6.0" fill="#5a88b8" fill-opacity="0.92"/><circle cx="330.8" cy="415.53" r="4.1" fill="#5a88b8" fill-opacity="0.92"/><circle cx="302.1" cy="427.82" r="4.7" fill="#5aaef0" fill-opacity="0.92"/><circle cx="302.1" cy="440.11" r="4.7" fill="#5aaef0" fill-opacity="0.92"/><circle cx="316.5" cy="452.40" r="6.2" fill="#4d6c8e" fill-opacity="0.92"/><circle cx="330.8" cy="452.40" r="3.2" fill="#4d6c8e" fill-opacity="0.92"/><circle cx="316.5" cy="464.69" r="5.7" fill="#5a88b8" fill-opacity="0.92"/><circle cx="316.5" cy="476.98" r="5.5" fill="#5a88b8" fill-opacity="0.92"/><circle cx="316.5" cy="489.27" r="5.5" fill="#4d6c8e" fill-opacity="0.92"/><circle cx="316.5" cy="501.56" r="5.8" fill="#5a88b8" fill-opacity="0.92"/><circle cx="330.8" cy="501.56" r="3.0" fill="#5a88b8" fill-opacity="0.92"/><circle cx="316.5" cy="513.85" r="3.6" fill="#4d6c8e" fill-opacity="0.92"/><circle cx="330.8" cy="513.85" r="1.9" fill="#4d6c8e" fill-opacity="0.92"/><circle cx="316.5" cy="526.14" r="3.2" fill="#4d6c8e" fill-opacity="0.92"/><circle cx="316.5" cy="538.43" r="3.2" fill="#4d6c8e" fill-opacity="0.92"/><circle cx="330.8" cy="550.72" r="4.2" fill="#4d6c8e" fill-opacity="0.92"/><circle cx="330.8" cy="563.01" r="4.2" fill="#4d6c8e" fill-opacity="0.92"/><circle cx="330.8" cy="575.30" r="3.2" fill="#5a88b8" fill-opacity="0.92"/></g><rect x="294.0" y="322.4" width="45.10000000000002" height="259.20000000000005" fill="none" stroke="#8a8a8a" stroke-width="1"/><rect x="301.65" y="582.1" width="0.9" height="3.2" fill="#333"/><rect x="316.05" y="582.1" width="0.9" height="3.2" fill="#333"/><rect x="330.35" y="582.1" width="0.9" height="3.2" fill="#333"/><text transform="translate(304.23,320.09) rotate(-62)" font-size="12.6">PC-3</text><text transform="translate(317.13,321.89) rotate(-62)" font-size="12.6">H660</text><text transform="translate(333.20,320.16) rotate(-62)" font-size="12.6">201.2</text><circle cx="21.2" cy="381.3" r="2.0" fill="#555"/><text transform="translate(33.80,384.30)" font-size="8.4">6</text><circle cx="21.2" cy="397.0" r="4.2" fill="#555"/><text transform="translate(33.80,400.00)" font-size="8.4">8</text><circle cx="21.2" cy="411.9" r="5.4" fill="#555"/><text transform="translate(33.80,414.90)" font-size="8.4">10</text><text transform="translate(14.60,468.50) scale(1.050,1)" font-size="9.6">Count</text><rect x="15.1" y="473.2" width="14.6" height="74.8" fill="url(#v51)"/><rect x="15.1" y="480.40000000000003" width="2.6" height="0.8" fill="#fff" fill-opacity="0.7"/><rect x="27.1" y="480.40000000000003" width="2.6" height="0.8" fill="#fff" fill-opacity="0.7"/><text transform="translate(34.20,483.80)" font-size="8.2">200</text><rect x="15.1" y="502.90000000000003" width="2.6" height="0.8" fill="#fff" fill-opacity="0.7"/><rect x="27.1" y="502.90000000000003" width="2.6" height="0.8" fill="#fff" fill-opacity="0.7"/><text transform="translate(34.20,506.30)" font-size="8.2">150</text><rect x="15.1" y="525.4" width="2.6" height="0.8" fill="#fff" fill-opacity="0.7"/><rect x="27.1" y="525.4" width="2.6" height="0.8" fill="#fff" fill-opacity="0.7"/><text transform="translate(34.20,528.80)" font-size="8.2">100</text><text transform="translate(6.80,563.80) scale(1.050,1)" font-size="9.6">Log(p-adj)</text><text transform="translate(361.25,325.20)" font-size="18.5" font-weight="bold">e</text><rect x="374.50" y="352.0" width="0.9" height="119.3" fill="#a0a0a0"/><rect x="374.50" y="470.5" width="90.90" height="0.9" fill="#a0a0a0"/><text transform="translate(407.65,344.30)" font-size="12.6" font-style="italic">AR</text><text transform="translate(364.89,387.10) scale(1.080,1)" font-size="12.0">2</text><rect x="372.60" y="382.40" width="2.0" height="0.8" fill="#a0a0a0"/><text transform="translate(364.76,423.40) scale(1.080,1)" font-size="12.0">0</text><rect x="372.60" y="418.70" width="2.0" height="0.8" fill="#a0a0a0"/><text transform="translate(360.61,459.80) scale(1.080,1)" font-size="12.0">-2</text><rect x="372.60" y="455.10" width="2.0" height="0.8" fill="#a0a0a0"/><circle cx="393.0" cy="412.9" r="0.7" fill="#1f78cc"/><circle cx="388.9" cy="412.0" r="0.7" fill="#1f78cc"/><circle cx="389.4" cy="412.1" r="0.7" fill="#1f78cc"/><circle cx="385.4" cy="387.9" r="0.7" fill="#1f78cc"/><circle cx="390.2" cy="417.2" r="0.7" fill="#1f78cc"/><circle cx="393.5" cy="420.2" r="0.7" fill="#1f78cc"/><circle cx="383.7" cy="418.3" r="0.7" fill="#1f78cc"/><circle cx="382.5" cy="412.3" r="0.7" fill="#1f78cc"/><circle cx="382.1" cy="407.4" r="0.7" fill="#1f78cc"/><circle cx="392.0" cy="410.8" r="0.7" fill="#1f78cc"/><circle cx="387.8" cy="414.3" r="0.7" fill="#1f78cc"/><circle cx="385.1" cy="409.1" r="0.7" fill="#1f78cc"/><circle cx="392.0" cy="440.5" r="0.7" fill="#1f78cc"/><circle cx="384.5" cy="400.8" r="0.7" fill="#1f78cc"/><circle cx="391.1" cy="404.4" r="0.7" fill="#1f78cc"/><circle cx="386.5" cy="417.8" r="0.7" fill="#1f78cc"/><circle cx="381.7" cy="431.9" r="0.7" fill="#1f78cc"/><circle cx="387.5" cy="418.9" r="0.7" fill="#1f78cc"/><circle cx="382.6" cy="405.6" r="0.7" fill="#1f78cc"/><circle cx="385.0" cy="427.9" r="0.7" fill="#1f78cc"/><circle cx="393.5" cy="409.0" r="0.7" fill="#1f78cc"/><circle cx="384.7" cy="389.3" r="0.7" fill="#1f78cc"/><circle cx="391.5" cy="404.2" r="0.7" fill="#1f78cc"/><circle cx="387.2" cy="412.9" r="0.7" fill="#1f78cc"/><circle cx="383.3" cy="415.9" r="0.7" fill="#1f78cc"/><circle cx="386.9" cy="389.2" r="0.7" fill="#1f78cc"/><circle cx="393.6" cy="407.9" r="0.7" fill="#1f78cc"/><circle cx="392.6" cy="400.2" r="0.7" fill="#1f78cc"/><circle cx="392.2" cy="410.0" r="0.7" fill="#1f78cc"/><circle cx="393.8" cy="388.3" r="0.7" fill="#1f78cc"/><circle cx="391.2" cy="407.7" r="0.7" fill="#1f78cc"/><circle cx="382.6" cy="408.3" r="0.7" fill="#1f78cc"/><circle cx="384.7" cy="413.3" r="0.7" fill="#1f78cc"/><circle cx="387.3" cy="404.1" r="0.7" fill="#1f78cc"/><circle cx="388.8" cy="410.6" r="0.7" fill="#1f78cc"/><circle cx="383.6" cy="393.1" r="0.7" fill="#1f78cc"/><circle cx="384.8" cy="430.2" r="0.7" fill="#1f78cc"/><circle cx="393.2" cy="416.0" r="0.7" fill="#1f78cc"/><circle cx="392.5" cy="419.6" r="0.7" fill="#1f78cc"/><circle cx="383.0" cy="407.0" r="0.7" fill="#1f78cc"/><circle cx="384.6" cy="419.9" r="0.7" fill="#1f78cc"/><circle cx="391.8" cy="397.4" r="0.7" fill="#1f78cc"/><circle cx="383.9" cy="399.5" r="0.7" fill="#1f78cc"/><circle cx="384.5" cy="386.4" r="0.7" fill="#1f78cc"/><circle cx="389.2" cy="432.2" r="0.7" fill="#1f78cc"/><circle cx="384.2" cy="419.1" r="0.7" fill="#1f78cc"/><circle cx="387.2" cy="407.9" r="0.7" fill="#1f78cc"/><circle cx="386.2" cy="406.2" r="0.7" fill="#1f78cc"/><circle cx="386.2" cy="390.1" r="0.7" fill="#1f78cc"/><circle cx="389.8" cy="439.7" r="0.7" fill="#1f78cc"/><circle cx="383.4" cy="416.5" r="0.7" fill="#1f78cc"/><circle cx="392.9" cy="403.5" r="0.7" fill="#1f78cc"/><circle cx="382.0" cy="438.6" r="0.7" fill="#1f78cc"/><circle cx="390.7" cy="410.6" r="0.7" fill="#1f78cc"/><circle cx="382.7" cy="420.5" r="0.7" fill="#1f78cc"/><circle cx="392.7" cy="416.0" r="0.7" fill="#1f78cc"/><circle cx="391.4" cy="423.5" r="0.7" fill="#1f78cc"/><circle cx="390.1" cy="402.9" r="0.7" fill="#1f78cc"/><circle cx="386.8" cy="433.3" r="0.7" fill="#1f78cc"/><circle cx="388.7" cy="432.8" r="0.7" fill="#1f78cc"/><circle cx="388.9" cy="404.7" r="0.7" fill="#1f78cc"/><circle cx="389.6" cy="387.1" r="0.7" fill="#1f78cc"/><circle cx="390.6" cy="433.8" r="0.7" fill="#1f78cc"/><circle cx="388.8" cy="415.9" r="0.7" fill="#1f78cc"/><circle cx="382.8" cy="417.7" r="0.7" fill="#1f78cc"/><circle cx="389.1" cy="384.1" r="0.7" fill="#1f78cc"/><circle cx="390.3" cy="407.2" r="0.7" fill="#1f78cc"/><circle cx="393.0" cy="413.8" r="0.7" fill="#1f78cc"/><circle cx="385.4" cy="403.4" r="0.7" fill="#1f78cc"/><circle cx="383.8" cy="394.2" r="0.7" fill="#1f78cc"/><circle cx="387.1" cy="420.9" r="0.7" fill="#1f78cc"/><circle cx="389.9" cy="401.5" r="0.7" fill="#1f78cc"/><circle cx="391.6" cy="410.7" r="0.7" fill="#1f78cc"/><circle cx="386.4" cy="433.8" r="0.7" fill="#1f78cc"/><circle cx="383.4" cy="400.9" r="0.7" fill="#1f78cc"/><circle cx="392.1" cy="417.7" r="0.7" fill="#1f78cc"/><circle cx="385.1" cy="437.9" r="0.7" fill="#1f78cc"/><circle cx="385.1" cy="411.0" r="0.7" fill="#1f78cc"/><circle cx="389.4" cy="410.4" r="0.7" fill="#1f78cc"/><circle cx="392.0" cy="408.7" r="0.7" fill="#1f78cc"/><circle cx="382.6" cy="408.8" r="0.7" fill="#1f78cc"/><circle cx="382.2" cy="418.3" r="0.7" fill="#1f78cc"/><circle cx="385.5" cy="415.7" r="0.7" fill="#1f78cc"/><circle cx="383.4" cy="383.5" r="0.7" fill="#1f78cc"/><circle cx="391.9" cy="403.6" r="0.7" fill="#1f78cc"/><circle cx="382.3" cy="405.6" r="0.7" fill="#1f78cc"/><circle cx="389.4" cy="408.5" r="0.7" fill="#1f78cc"/><circle cx="393.5" cy="429.6" r="0.7" fill="#1f78cc"/><circle cx="387.5" cy="394.0" r="0.7" fill="#1f78cc"/><circle cx="387.5" cy="403.4" r="0.7" fill="#1f78cc"/><circle cx="385.1" cy="392.9" r="0.7" fill="#1f78cc"/><circle cx="388.1" cy="415.3" r="0.7" fill="#1f78cc"/><circle cx="386.5" cy="426.6" r="0.7" fill="#1f78cc"/><circle cx="382.8" cy="435.3" r="0.7" fill="#1f78cc"/><circle cx="383.3" cy="424.6" r="0.7" fill="#1f78cc"/><circle cx="392.9" cy="414.0" r="0.7" fill="#1f78cc"/><circle cx="392.5" cy="413.0" r="0.7" fill="#1f78cc"/><circle cx="387.4" cy="437.5" r="0.7" fill="#1f78cc"/><circle cx="390.6" cy="394.4" r="0.7" fill="#1f78cc"/><circle cx="390.5" cy="419.9" r="0.7" fill="#1f78cc"/><circle cx="393.7" cy="418.8" r="0.7" fill="#1f78cc"/><circle cx="391.4" cy="413.8" r="0.7" fill="#1f78cc"/><circle cx="392.2" cy="418.9" r="0.7" fill="#1f78cc"/><circle cx="387.1" cy="404.6" r="0.7" fill="#1f78cc"/><circle cx="387.7" cy="427.3" r="0.7" fill="#1f78cc"/><circle cx="382.5" cy="417.2" r="0.7" fill="#1f78cc"/><circle cx="385.8" cy="392.5" r="0.7" fill="#1f78cc"/><circle cx="383.5" cy="390.6" r="0.7" fill="#1f78cc"/><circle cx="392.0" cy="415.7" r="0.7" fill="#1f78cc"/><circle cx="387.8" cy="437.6" r="0.7" fill="#1f78cc"/><line x1="387.85" y1="382.40" x2="387.85" y2="403.20" stroke="#1f78cc" stroke-width="0.7"/><line x1="387.85" y1="420.50" x2="387.85" y2="440.80" stroke="#1f78cc" stroke-width="0.7"/><rect x="380.20" y="403.20" width="15.30" height="17.30" fill="#1f78cc" fill-opacity="0.08" stroke="#1f78cc" stroke-width="0.8"/><line x1="380.20" y1="410.10" x2="395.50" y2="410.10" stroke="#1f78cc" stroke-width="0.9"/><rect x="387.45" y="471.3" width="0.8" height="2.2" fill="#a0a0a0"/><circle cx="405.8" cy="393.9" r="0.7" fill="#e6b410"/><circle cx="412.4" cy="414.7" r="0.7" fill="#e6b410"/><circle cx="413.9" cy="421.5" r="0.7" fill="#e6b410"/><circle cx="407.9" cy="408.2" r="0.7" fill="#e6b410"/><circle cx="405.6" cy="445.4" r="0.7" fill="#e6b410"/><circle cx="409.7" cy="449.7" r="0.7" fill="#e6b410"/><circle cx="409.9" cy="401.2" r="0.7" fill="#e6b410"/><circle cx="403.3" cy="420.6" r="0.7" fill="#e6b410"/><circle cx="408.1" cy="421.1" r="0.7" fill="#e6b410"/><circle cx="409.3" cy="424.1" r="0.7" fill="#e6b410"/><circle cx="409.9" cy="392.7" r="0.7" fill="#e6b410"/><circle cx="414.9" cy="427.3" r="0.7" fill="#e6b410"/><circle cx="404.6" cy="418.1" r="0.7" fill="#e6b410"/><circle cx="414.6" cy="424.6" r="0.7" fill="#e6b410"/><circle cx="405.4" cy="415.2" r="0.7" fill="#e6b410"/><circle cx="404.6" cy="447.0" r="0.7" fill="#e6b410"/><circle cx="405.4" cy="389.9" r="0.7" fill="#e6b410"/><circle cx="407.1" cy="422.2" r="0.7" fill="#e6b410"/><circle cx="404.3" cy="420.9" r="0.7" fill="#e6b410"/><circle cx="409.5" cy="396.3" r="0.7" fill="#e6b410"/><circle cx="409.8" cy="412.9" r="0.7" fill="#e6b410"/><circle cx="408.3" cy="416.3" r="0.7" fill="#e6b410"/><circle cx="405.6" cy="412.2" r="0.7" fill="#e6b410"/><circle cx="409.8" cy="428.9" r="0.7" fill="#e6b410"/><circle cx="414.0" cy="427.2" r="0.7" fill="#e6b410"/><circle cx="413.4" cy="423.2" r="0.7" fill="#e6b410"/><circle cx="407.0" cy="408.5" r="0.7" fill="#e6b410"/><circle cx="415.9" cy="402.3" r="0.7" fill="#e6b410"/><circle cx="406.0" cy="397.0" r="0.7" fill="#e6b410"/><circle cx="404.2" cy="404.9" r="0.7" fill="#e6b410"/><circle cx="413.2" cy="415.1" r="0.7" fill="#e6b410"/><circle cx="411.8" cy="416.8" r="0.7" fill="#e6b410"/><circle cx="411.8" cy="413.0" r="0.7" fill="#e6b410"/><circle cx="404.4" cy="449.7" r="0.7" fill="#e6b410"/><circle cx="409.4" cy="423.5" r="0.7" fill="#e6b410"/><circle cx="403.8" cy="400.4" r="0.7" fill="#e6b410"/><circle cx="410.1" cy="409.9" r="0.7" fill="#e6b410"/><circle cx="404.8" cy="419.9" r="0.7" fill="#e6b410"/><circle cx="413.8" cy="413.1" r="0.7" fill="#e6b410"/><circle cx="404.2" cy="447.1" r="0.7" fill="#e6b410"/><circle cx="408.9" cy="427.2" r="0.7" fill="#e6b410"/><circle cx="409.0" cy="409.2" r="0.7" fill="#e6b410"/><circle cx="410.7" cy="417.3" r="0.7" fill="#e6b410"/><circle cx="413.9" cy="422.4" r="0.7" fill="#e6b410"/><circle cx="412.5" cy="417.8" r="0.7" fill="#e6b410"/><circle cx="405.1" cy="412.9" r="0.7" fill="#e6b410"/><circle cx="414.5" cy="409.5" r="0.7" fill="#e6b410"/><circle cx="414.1" cy="433.0" r="0.7" fill="#e6b410"/><circle cx="410.7" cy="414.1" r="0.7" fill="#e6b410"/><circle cx="413.4" cy="427.8" r="0.7" fill="#e6b410"/><circle cx="412.6" cy="426.4" r="0.7" fill="#e6b410"/><circle cx="408.2" cy="440.0" r="0.7" fill="#e6b410"/><circle cx="411.9" cy="444.1" r="0.7" fill="#e6b410"/><circle cx="408.2" cy="436.9" r="0.7" fill="#e6b410"/><circle cx="407.3" cy="393.0" r="0.7" fill="#e6b410"/><circle cx="407.5" cy="409.4" r="0.7" fill="#e6b410"/><circle cx="405.9" cy="427.9" r="0.7" fill="#e6b410"/><circle cx="407.3" cy="430.6" r="0.7" fill="#e6b410"/><circle cx="409.8" cy="424.5" r="0.7" fill="#e6b410"/><circle cx="411.2" cy="428.1" r="0.7" fill="#e6b410"/><circle cx="415.6" cy="436.6" r="0.7" fill="#e6b410"/><circle cx="412.5" cy="420.8" r="0.7" fill="#e6b410"/><circle cx="403.6" cy="416.8" r="0.7" fill="#e6b410"/><circle cx="404.2" cy="416.3" r="0.7" fill="#e6b410"/><circle cx="410.0" cy="426.3" r="0.7" fill="#e6b410"/><circle cx="410.3" cy="427.5" r="0.7" fill="#e6b410"/><circle cx="413.4" cy="428.8" r="0.7" fill="#e6b410"/><circle cx="412.8" cy="420.5" r="0.7" fill="#e6b410"/><circle cx="405.0" cy="426.8" r="0.7" fill="#e6b410"/><circle cx="409.3" cy="412.4" r="0.7" fill="#e6b410"/><line x1="409.40" y1="388.50" x2="409.40" y2="409.20" stroke="#e6b410" stroke-width="0.7"/><line x1="409.40" y1="428.10" x2="409.40" y2="451.70" stroke="#e6b410" stroke-width="0.7"/><rect x="401.30" y="409.20" width="16.20" height="18.90" fill="#e6b410" fill-opacity="0.08" stroke="#e6b410" stroke-width="0.8"/><line x1="401.30" y1="415.90" x2="417.50" y2="415.90" stroke="#e6b410" stroke-width="0.9"/><rect x="409.00" y="471.3" width="0.8" height="2.2" fill="#a0a0a0"/><circle cx="436.4" cy="400.5" r="0.7" fill="#7a7a7a"/><circle cx="432.1" cy="437.8" r="0.7" fill="#7a7a7a"/><circle cx="432.8" cy="427.8" r="0.7" fill="#7a7a7a"/><circle cx="433.6" cy="416.1" r="0.7" fill="#7a7a7a"/><circle cx="427.8" cy="416.5" r="0.7" fill="#7a7a7a"/><circle cx="434.1" cy="422.4" r="0.7" fill="#7a7a7a"/><circle cx="434.0" cy="453.1" r="0.7" fill="#7a7a7a"/><circle cx="436.4" cy="456.9" r="0.7" fill="#7a7a7a"/><circle cx="430.1" cy="453.5" r="0.7" fill="#7a7a7a"/><circle cx="427.8" cy="456.3" r="0.7" fill="#7a7a7a"/><circle cx="433.7" cy="454.8" r="0.7" fill="#7a7a7a"/><circle cx="434.8" cy="456.5" r="0.7" fill="#7a7a7a"/><circle cx="432.5" cy="404.4" r="0.7" fill="#7a7a7a"/><circle cx="425.5" cy="424.4" r="0.7" fill="#7a7a7a"/><circle cx="430.3" cy="421.1" r="0.7" fill="#7a7a7a"/><circle cx="428.0" cy="427.9" r="0.7" fill="#7a7a7a"/><circle cx="434.4" cy="425.4" r="0.7" fill="#7a7a7a"/><circle cx="436.5" cy="457.3" r="0.7" fill="#7a7a7a"/><circle cx="426.2" cy="413.0" r="0.7" fill="#7a7a7a"/><circle cx="432.5" cy="450.6" r="0.7" fill="#7a7a7a"/><line x1="430.95" y1="396.50" x2="430.95" y2="415.90" stroke="#7a7a7a" stroke-width="0.7"/><line x1="430.95" y1="457.40" x2="430.95" y2="465.50" stroke="#7a7a7a" stroke-width="0.7"/><rect x="423.30" y="415.90" width="15.30" height="41.50" fill="#7a7a7a" fill-opacity="0.08" stroke="#7a7a7a" stroke-width="0.8"/><line x1="423.30" y1="441.50" x2="438.60" y2="441.50" stroke="#7a7a7a" stroke-width="0.9"/><rect x="430.55" y="471.3" width="0.8" height="2.2" fill="#a0a0a0"/><circle cx="455.0" cy="434.3" r="0.7" fill="#d4504a"/><circle cx="454.3" cy="437.6" r="0.7" fill="#d4504a"/><circle cx="449.5" cy="410.7" r="0.7" fill="#d4504a"/><circle cx="457.5" cy="459.4" r="0.7" fill="#d4504a"/><circle cx="449.7" cy="425.9" r="0.7" fill="#d4504a"/><circle cx="447.6" cy="448.2" r="0.7" fill="#d4504a"/><circle cx="447.4" cy="426.4" r="0.7" fill="#d4504a"/><circle cx="454.3" cy="434.9" r="0.7" fill="#d4504a"/><circle cx="449.0" cy="442.5" r="0.7" fill="#d4504a"/><circle cx="457.0" cy="453.1" r="0.7" fill="#d4504a"/><circle cx="456.6" cy="428.3" r="0.7" fill="#d4504a"/><circle cx="449.0" cy="449.5" r="0.7" fill="#d4504a"/><line x1="452.65" y1="398.00" x2="452.65" y2="423.50" stroke="#d4504a" stroke-width="0.7"/><line x1="452.65" y1="463.20" x2="452.65" y2="465.00" stroke="#d4504a" stroke-width="0.7"/><rect x="444.70" y="423.50" width="15.90" height="39.70" fill="#d4504a" fill-opacity="0.08" stroke="#d4504a" stroke-width="0.8"/><line x1="444.70" y1="433.50" x2="460.60" y2="433.50" stroke="#d4504a" stroke-width="0.9"/><rect x="452.25" y="471.3" width="0.8" height="2.2" fill="#a0a0a0"/><path d="M387.20,359.80 L387.20,357.80 L452.60,357.80 L452.60,359.80" fill="none" stroke="#8a8a8a" stroke-width="0.75"/><text transform="translate(405.55,355.80) scale(1.07,1)" font-size="8.2">8.6x10<tspan font-size="5.90" dy="-3.0">-4</tspan></text><path d="M387.20,369.40 L387.20,367.40 L431.00,367.40 L431.00,369.40" fill="none" stroke="#8a8a8a" stroke-width="0.75"/><text transform="translate(396.09,365.40) scale(1.07,1)" font-size="8.2">1.7x10<tspan font-size="5.90" dy="-3.0">-5</tspan></text><path d="M387.20,379.50 L387.20,377.50 L409.30,377.50 L409.30,379.50" fill="none" stroke="#8a8a8a" stroke-width="0.75"/><text transform="translate(388.49,375.50) scale(1.07,1)" font-size="8.2">1.3x10<tspan font-size="5.90" dy="-3.0">-4</tspan></text><text transform="translate(355.99,522.85) rotate(-49)" font-size="13.0">CRPC-AR</text><text transform="translate(372.59,528.54) rotate(-49)" font-size="13.0">CRPC-SCL</text><text transform="translate(399.00,522.95) rotate(-49)" font-size="13.0">CRPC-NE</text><text transform="translate(413.02,531.78) rotate(-49)" font-size="13.0">CRPC-WNT</text><rect x="485.20" y="352.0" width="0.9" height="119.3" fill="#a0a0a0"/><rect x="485.20" y="470.5" width="90.40" height="0.9" fill="#a0a0a0"/><text transform="translate(508.75,344.30)" font-size="12.6" font-style="italic">FOXA1</text><text transform="translate(475.59,380.70) scale(1.080,1)" font-size="12.0">2</text><rect x="483.30" y="376.00" width="2.0" height="0.8" fill="#a0a0a0"/><text transform="translate(475.46,409.40) scale(1.080,1)" font-size="12.0">0</text><rect x="483.30" y="404.70" width="2.0" height="0.8" fill="#a0a0a0"/><text transform="translate(471.31,438.10) scale(1.080,1)" font-size="12.0">-2</text><rect x="483.30" y="433.40" width="2.0" height="0.8" fill="#a0a0a0"/><text transform="translate(471.05,466.40) scale(1.080,1)" font-size="12.0">-4</text><rect x="483.30" y="461.70" width="2.0" height="0.8" fill="#a0a0a0"/><circle cx="502.6" cy="394.1" r="0.7" fill="#1f78cc"/><circle cx="504.8" cy="396.9" r="0.7" fill="#1f78cc"/><circle cx="501.9" cy="396.2" r="0.7" fill="#1f78cc"/><circle cx="497.2" cy="394.1" r="0.7" fill="#1f78cc"/><circle cx="493.7" cy="398.5" r="0.7" fill="#1f78cc"/><circle cx="498.7" cy="396.3" r="0.7" fill="#1f78cc"/><circle cx="502.2" cy="390.4" r="0.7" fill="#1f78cc"/><circle cx="500.8" cy="393.8" r="0.7" fill="#1f78cc"/><circle cx="501.6" cy="394.5" r="0.7" fill="#1f78cc"/><circle cx="494.5" cy="389.9" r="0.7" fill="#1f78cc"/><circle cx="497.2" cy="397.5" r="0.7" fill="#1f78cc"/><circle cx="499.7" cy="397.3" r="0.7" fill="#1f78cc"/><circle cx="503.9" cy="408.8" r="0.7" fill="#1f78cc"/><circle cx="496.5" cy="398.0" r="0.7" fill="#1f78cc"/><circle cx="504.2" cy="395.1" r="0.7" fill="#1f78cc"/><circle cx="497.2" cy="388.9" r="0.7" fill="#1f78cc"/><circle cx="497.6" cy="394.9" r="0.7" fill="#1f78cc"/><circle cx="499.6" cy="393.7" r="0.7" fill="#1f78cc"/><circle cx="503.0" cy="397.3" r="0.7" fill="#1f78cc"/><circle cx="502.0" cy="386.9" r="0.7" fill="#1f78cc"/><circle cx="493.0" cy="389.9" r="0.7" fill="#1f78cc"/><circle cx="499.7" cy="396.2" r="0.7" fill="#1f78cc"/><circle cx="502.6" cy="400.5" r="0.7" fill="#1f78cc"/><circle cx="502.4" cy="396.2" r="0.7" fill="#1f78cc"/><circle cx="501.8" cy="392.9" r="0.7" fill="#1f78cc"/><circle cx="500.5" cy="384.2" r="0.7" fill="#1f78cc"/><circle cx="500.7" cy="397.6" r="0.7" fill="#1f78cc"/><circle cx="502.1" cy="393.9" r="0.7" fill="#1f78cc"/><circle cx="497.6" cy="397.7" r="0.7" fill="#1f78cc"/><circle cx="501.0" cy="399.2" r="0.7" fill="#1f78cc"/><circle cx="501.6" cy="396.1" r="0.7" fill="#1f78cc"/><circle cx="497.8" cy="408.1" r="0.7" fill="#1f78cc"/><circle cx="503.2" cy="400.9" r="0.7" fill="#1f78cc"/><circle cx="503.6" cy="405.7" r="0.7" fill="#1f78cc"/><circle cx="499.1" cy="400.2" r="0.7" fill="#1f78cc"/><circle cx="497.9" cy="404.8" r="0.7" fill="#1f78cc"/><circle cx="501.8" cy="393.3" r="0.7" fill="#1f78cc"/><circle cx="494.8" cy="392.6" r="0.7" fill="#1f78cc"/><circle cx="496.3" cy="395.3" r="0.7" fill="#1f78cc"/><circle cx="496.5" cy="383.5" r="0.7" fill="#1f78cc"/><circle cx="502.2" cy="396.9" r="0.7" fill="#1f78cc"/><circle cx="498.3" cy="392.7" r="0.7" fill="#1f78cc"/><circle cx="493.2" cy="407.9" r="0.7" fill="#1f78cc"/><circle cx="495.4" cy="393.6" r="0.7" fill="#1f78cc"/><circle cx="500.0" cy="397.4" r="0.7" fill="#1f78cc"/><circle cx="496.2" cy="393.6" r="0.7" fill="#1f78cc"/><circle cx="496.5" cy="397.7" r="0.7" fill="#1f78cc"/><circle cx="498.6" cy="398.1" r="0.7" fill="#1f78cc"/><circle cx="503.9" cy="398.6" r="0.7" fill="#1f78cc"/><circle cx="504.4" cy="396.2" r="0.7" fill="#1f78cc"/><circle cx="493.3" cy="393.9" r="0.7" fill="#1f78cc"/><circle cx="497.4" cy="404.8" r="0.7" fill="#1f78cc"/><circle cx="496.1" cy="396.0" r="0.7" fill="#1f78cc"/><circle cx="495.6" cy="400.7" r="0.7" fill="#1f78cc"/><circle cx="497.3" cy="395.7" r="0.7" fill="#1f78cc"/><circle cx="500.1" cy="402.3" r="0.7" fill="#1f78cc"/><circle cx="496.7" cy="393.4" r="0.7" fill="#1f78cc"/><circle cx="499.0" cy="398.5" r="0.7" fill="#1f78cc"/><circle cx="496.0" cy="410.3" r="0.7" fill="#1f78cc"/><circle cx="502.2" cy="393.4" r="0.7" fill="#1f78cc"/><circle cx="503.1" cy="398.1" r="0.7" fill="#1f78cc"/><circle cx="496.0" cy="384.2" r="0.7" fill="#1f78cc"/><circle cx="498.6" cy="384.6" r="0.7" fill="#1f78cc"/><circle cx="499.9" cy="399.1" r="0.7" fill="#1f78cc"/><circle cx="502.4" cy="390.5" r="0.7" fill="#1f78cc"/><circle cx="493.8" cy="398.8" r="0.7" fill="#1f78cc"/><circle cx="499.4" cy="387.8" r="0.7" fill="#1f78cc"/><circle cx="502.9" cy="393.4" r="0.7" fill="#1f78cc"/><circle cx="493.7" cy="394.5" r="0.7" fill="#1f78cc"/><circle cx="501.5" cy="395.6" r="0.7" fill="#1f78cc"/><circle cx="494.0" cy="397.2" r="0.7" fill="#1f78cc"/><circle cx="504.6" cy="395.6" r="0.7" fill="#1f78cc"/><circle cx="492.9" cy="400.6" r="0.7" fill="#1f78cc"/><circle cx="495.6" cy="397.3" r="0.7" fill="#1f78cc"/><circle cx="492.9" cy="394.9" r="0.7" fill="#1f78cc"/><circle cx="495.3" cy="404.7" r="0.7" fill="#1f78cc"/><circle cx="497.3" cy="390.1" r="0.7" fill="#1f78cc"/><circle cx="496.9" cy="394.4" r="0.7" fill="#1f78cc"/><circle cx="495.9" cy="397.0" r="0.7" fill="#1f78cc"/><circle cx="496.8" cy="397.5" r="0.7" fill="#1f78cc"/><circle cx="501.6" cy="398.0" r="0.7" fill="#1f78cc"/><circle cx="493.9" cy="398.2" r="0.7" fill="#1f78cc"/><circle cx="501.0" cy="393.0" r="0.7" fill="#1f78cc"/><circle cx="497.7" cy="387.0" r="0.7" fill="#1f78cc"/><circle cx="493.8" cy="398.8" r="0.7" fill="#1f78cc"/><circle cx="494.2" cy="393.4" r="0.7" fill="#1f78cc"/><circle cx="504.0" cy="392.8" r="0.7" fill="#1f78cc"/><circle cx="500.7" cy="395.9" r="0.7" fill="#1f78cc"/><circle cx="497.5" cy="405.4" r="0.7" fill="#1f78cc"/><circle cx="492.9" cy="395.2" r="0.7" fill="#1f78cc"/><circle cx="504.7" cy="397.3" r="0.7" fill="#1f78cc"/><circle cx="500.2" cy="400.7" r="0.7" fill="#1f78cc"/><circle cx="496.9" cy="394.7" r="0.7" fill="#1f78cc"/><circle cx="497.4" cy="384.9" r="0.7" fill="#1f78cc"/><circle cx="502.8" cy="397.9" r="0.7" fill="#1f78cc"/><circle cx="502.1" cy="386.3" r="0.7" fill="#1f78cc"/><circle cx="497.0" cy="397.5" r="0.7" fill="#1f78cc"/><circle cx="501.5" cy="393.3" r="0.7" fill="#1f78cc"/><circle cx="501.5" cy="396.6" r="0.7" fill="#1f78cc"/><circle cx="504.3" cy="387.5" r="0.7" fill="#1f78cc"/><circle cx="493.7" cy="387.5" r="0.7" fill="#1f78cc"/><circle cx="501.3" cy="396.4" r="0.7" fill="#1f78cc"/><circle cx="497.2" cy="398.9" r="0.7" fill="#1f78cc"/><circle cx="504.6" cy="393.2" r="0.7" fill="#1f78cc"/><circle cx="499.4" cy="398.7" r="0.7" fill="#1f78cc"/><circle cx="496.0" cy="397.9" r="0.7" fill="#1f78cc"/><circle cx="502.7" cy="410.3" r="0.7" fill="#1f78cc"/><circle cx="502.8" cy="385.3" r="0.7" fill="#1f78cc"/><circle cx="495.7" cy="398.7" r="0.7" fill="#1f78cc"/><circle cx="495.0" cy="405.6" r="0.7" fill="#1f78cc"/><circle cx="493.1" cy="392.8" r="0.7" fill="#1f78cc"/><circle cx="504.2" cy="399.3" r="0.7" fill="#1f78cc"/><circle cx="500.9" cy="390.6" r="0.7" fill="#1f78cc"/><circle cx="500.0" cy="392.8" r="0.7" fill="#1f78cc"/><circle cx="495.2" cy="382.3" r="0.7" fill="#1f78cc"/><circle cx="497.5" cy="393.3" r="0.7" fill="#1f78cc"/><circle cx="499.1" cy="386.8" r="0.7" fill="#1f78cc"/><circle cx="496.8" cy="396.3" r="0.7" fill="#1f78cc"/><circle cx="500.9" cy="382.9" r="0.7" fill="#1f78cc"/><circle cx="500.1" cy="399.1" r="0.7" fill="#1f78cc"/><line x1="498.85" y1="381.80" x2="498.85" y2="392.30" stroke="#1f78cc" stroke-width="0.7"/><line x1="498.85" y1="399.40" x2="498.85" y2="410.50" stroke="#1f78cc" stroke-width="0.7"/><rect x="491.20" y="392.30" width="15.30" height="7.10" fill="#1f78cc" fill-opacity="0.08" stroke="#1f78cc" stroke-width="0.8"/><line x1="491.20" y1="395.50" x2="506.50" y2="395.50" stroke="#1f78cc" stroke-width="0.9"/><rect x="498.45" y="471.3" width="0.8" height="2.2" fill="#a0a0a0"/><circle cx="521.8" cy="403.0" r="0.7" fill="#e6b410"/><circle cx="523.4" cy="411.9" r="0.7" fill="#e6b410"/><circle cx="524.5" cy="408.4" r="0.7" fill="#e6b410"/><circle cx="519.4" cy="401.5" r="0.7" fill="#e6b410"/><circle cx="520.5" cy="416.3" r="0.7" fill="#e6b410"/><circle cx="525.3" cy="403.2" r="0.7" fill="#e6b410"/><circle cx="523.1" cy="399.7" r="0.7" fill="#e6b410"/><circle cx="521.4" cy="411.1" r="0.7" fill="#e6b410"/><circle cx="521.4" cy="398.5" r="0.7" fill="#e6b410"/><circle cx="519.5" cy="400.4" r="0.7" fill="#e6b410"/><circle cx="514.5" cy="402.9" r="0.7" fill="#e6b410"/><circle cx="516.9" cy="405.0" r="0.7" fill="#e6b410"/><circle cx="516.9" cy="402.9" r="0.7" fill="#e6b410"/><circle cx="526.1" cy="407.7" r="0.7" fill="#e6b410"/><circle cx="519.2" cy="415.1" r="0.7" fill="#e6b410"/><circle cx="523.3" cy="396.0" r="0.7" fill="#e6b410"/><circle cx="515.1" cy="416.2" r="0.7" fill="#e6b410"/><circle cx="520.7" cy="393.1" r="0.7" fill="#e6b410"/><circle cx="517.0" cy="389.4" r="0.7" fill="#e6b410"/><circle cx="514.7" cy="402.2" r="0.7" fill="#e6b410"/><circle cx="518.9" cy="413.6" r="0.7" fill="#e6b410"/><circle cx="514.5" cy="404.6" r="0.7" fill="#e6b410"/><circle cx="517.8" cy="407.6" r="0.7" fill="#e6b410"/><circle cx="526.2" cy="407.9" r="0.7" fill="#e6b410"/><circle cx="517.6" cy="401.1" r="0.7" fill="#e6b410"/><circle cx="516.4" cy="416.0" r="0.7" fill="#e6b410"/><circle cx="519.9" cy="399.9" r="0.7" fill="#e6b410"/><circle cx="526.5" cy="407.4" r="0.7" fill="#e6b410"/><circle cx="516.3" cy="405.1" r="0.7" fill="#e6b410"/><circle cx="515.2" cy="390.9" r="0.7" fill="#e6b410"/><circle cx="525.3" cy="398.7" r="0.7" fill="#e6b410"/><circle cx="515.6" cy="410.6" r="0.7" fill="#e6b410"/><circle cx="519.5" cy="417.3" r="0.7" fill="#e6b410"/><circle cx="517.8" cy="401.3" r="0.7" fill="#e6b410"/><circle cx="516.2" cy="395.2" r="0.7" fill="#e6b410"/><circle cx="523.9" cy="405.4" r="0.7" fill="#e6b410"/><circle cx="525.1" cy="405.4" r="0.7" fill="#e6b410"/><circle cx="517.7" cy="396.2" r="0.7" fill="#e6b410"/><circle cx="517.4" cy="409.2" r="0.7" fill="#e6b410"/><circle cx="526.3" cy="392.1" r="0.7" fill="#e6b410"/><circle cx="520.6" cy="404.1" r="0.7" fill="#e6b410"/><circle cx="517.5" cy="404.8" r="0.7" fill="#e6b410"/><circle cx="515.0" cy="406.7" r="0.7" fill="#e6b410"/><circle cx="517.0" cy="406.2" r="0.7" fill="#e6b410"/><circle cx="516.2" cy="404.3" r="0.7" fill="#e6b410"/><circle cx="514.3" cy="418.7" r="0.7" fill="#e6b410"/><circle cx="518.7" cy="406.2" r="0.7" fill="#e6b410"/><circle cx="516.2" cy="404.2" r="0.7" fill="#e6b410"/><circle cx="518.4" cy="408.6" r="0.7" fill="#e6b410"/><circle cx="520.4" cy="412.7" r="0.7" fill="#e6b410"/><circle cx="522.5" cy="407.1" r="0.7" fill="#e6b410"/><circle cx="516.1" cy="408.0" r="0.7" fill="#e6b410"/><circle cx="521.6" cy="394.3" r="0.7" fill="#e6b410"/><circle cx="523.7" cy="403.3" r="0.7" fill="#e6b410"/><circle cx="516.9" cy="412.9" r="0.7" fill="#e6b410"/><circle cx="521.2" cy="401.3" r="0.7" fill="#e6b410"/><circle cx="521.4" cy="399.5" r="0.7" fill="#e6b410"/><circle cx="524.9" cy="406.4" r="0.7" fill="#e6b410"/><circle cx="514.1" cy="400.6" r="0.7" fill="#e6b410"/><circle cx="519.5" cy="403.2" r="0.7" fill="#e6b410"/><circle cx="514.8" cy="406.6" r="0.7" fill="#e6b410"/><circle cx="520.7" cy="406.3" r="0.7" fill="#e6b410"/><circle cx="515.7" cy="396.5" r="0.7" fill="#e6b410"/><circle cx="517.9" cy="399.6" r="0.7" fill="#e6b410"/><circle cx="517.2" cy="405.0" r="0.7" fill="#e6b410"/><circle cx="524.3" cy="392.0" r="0.7" fill="#e6b410"/><circle cx="515.9" cy="401.6" r="0.7" fill="#e6b410"/><circle cx="523.8" cy="414.1" r="0.7" fill="#e6b410"/><circle cx="518.5" cy="403.0" r="0.7" fill="#e6b410"/><circle cx="514.4" cy="408.2" r="0.7" fill="#e6b410"/><line x1="520.20" y1="389.40" x2="520.20" y2="399.20" stroke="#e6b410" stroke-width="0.7"/><line x1="520.20" y1="408.50" x2="520.20" y2="419.10" stroke="#e6b410" stroke-width="0.7"/><rect x="512.30" y="399.20" width="15.80" height="9.30" fill="#e6b410" fill-opacity="0.08" stroke="#e6b410" stroke-width="0.8"/><line x1="512.30" y1="402.80" x2="528.10" y2="402.80" stroke="#e6b410" stroke-width="0.9"/><rect x="519.80" y="471.3" width="0.8" height="2.2" fill="#a0a0a0"/><circle cx="548.1" cy="418.4" r="0.7" fill="#7a7a7a"/><circle cx="545.1" cy="410.8" r="0.7" fill="#7a7a7a"/><circle cx="546.9" cy="405.4" r="0.7" fill="#7a7a7a"/><circle cx="539.5" cy="409.2" r="0.7" fill="#7a7a7a"/><circle cx="536.3" cy="401.3" r="0.7" fill="#7a7a7a"/><circle cx="545.0" cy="442.6" r="0.7" fill="#7a7a7a"/><circle cx="542.7" cy="405.7" r="0.7" fill="#7a7a7a"/><circle cx="547.4" cy="410.9" r="0.7" fill="#7a7a7a"/><circle cx="548.0" cy="407.8" r="0.7" fill="#7a7a7a"/><circle cx="540.8" cy="392.7" r="0.7" fill="#7a7a7a"/><circle cx="540.1" cy="394.0" r="0.7" fill="#7a7a7a"/><circle cx="543.2" cy="449.6" r="0.7" fill="#7a7a7a"/><circle cx="540.7" cy="421.9" r="0.7" fill="#7a7a7a"/><circle cx="545.5" cy="416.3" r="0.7" fill="#7a7a7a"/><circle cx="538.1" cy="408.1" r="0.7" fill="#7a7a7a"/><circle cx="538.4" cy="403.5" r="0.7" fill="#7a7a7a"/><circle cx="539.7" cy="411.1" r="0.7" fill="#7a7a7a"/><circle cx="544.3" cy="424.2" r="0.7" fill="#7a7a7a"/><circle cx="540.6" cy="404.1" r="0.7" fill="#7a7a7a"/><circle cx="540.3" cy="416.7" r="0.7" fill="#7a7a7a"/><line x1="542.05" y1="390.00" x2="542.05" y2="399.40" stroke="#7a7a7a" stroke-width="0.7"/><line x1="542.05" y1="424.40" x2="542.05" y2="458.90" stroke="#7a7a7a" stroke-width="0.7"/><rect x="534.30" y="399.40" width="15.50" height="25.00" fill="#7a7a7a" fill-opacity="0.08" stroke="#7a7a7a" stroke-width="0.8"/><line x1="534.30" y1="407.20" x2="549.80" y2="407.20" stroke="#7a7a7a" stroke-width="0.9"/><rect x="541.65" y="471.3" width="0.8" height="2.2" fill="#a0a0a0"/><circle cx="559.1" cy="402.8" r="0.7" fill="#d4504a"/><circle cx="568.3" cy="410.3" r="0.7" fill="#d4504a"/><circle cx="561.3" cy="406.5" r="0.7" fill="#d4504a"/><circle cx="561.3" cy="421.2" r="0.7" fill="#d4504a"/><circle cx="568.1" cy="425.6" r="0.7" fill="#d4504a"/><circle cx="561.6" cy="408.9" r="0.7" fill="#d4504a"/><circle cx="560.9" cy="420.1" r="0.7" fill="#d4504a"/><circle cx="557.5" cy="417.0" r="0.7" fill="#d4504a"/><circle cx="557.4" cy="407.2" r="0.7" fill="#d4504a"/><circle cx="557.2" cy="414.4" r="0.7" fill="#d4504a"/><circle cx="563.6" cy="410.9" r="0.7" fill="#d4504a"/><circle cx="560.1" cy="416.6" r="0.7" fill="#d4504a"/><line x1="563.05" y1="395.20" x2="563.05" y2="402.40" stroke="#d4504a" stroke-width="0.7"/><line x1="563.05" y1="422.50" x2="563.05" y2="437.20" stroke="#d4504a" stroke-width="0.7"/><rect x="555.30" y="402.40" width="15.50" height="20.10" fill="#d4504a" fill-opacity="0.08" stroke="#d4504a" stroke-width="0.8"/><line x1="555.30" y1="411.40" x2="570.80" y2="411.40" stroke="#d4504a" stroke-width="0.9"/><rect x="562.65" y="471.3" width="0.8" height="2.2" fill="#a0a0a0"/><path d="M498.60,359.80 L498.60,357.80 L563.40,357.80 L563.40,359.80" fill="none" stroke="#8a8a8a" stroke-width="0.75"/><text transform="translate(517.99,355.80) scale(1.07,1)" font-size="8.2">1.3x10<tspan font-size="5.90" dy="-3.0">-3</tspan></text><path d="M498.60,369.40 L498.60,367.40 L541.90,367.40 L541.90,369.40" fill="none" stroke="#8a8a8a" stroke-width="0.75"/><text transform="translate(506.44,365.40) scale(1.07,1)" font-size="8.2">3.8x10<tspan font-size="5.90" dy="-3.0">-5</tspan></text><path d="M498.60,379.50 L498.60,377.50 L520.50,377.50 L520.50,379.50" fill="none" stroke="#8a8a8a" stroke-width="0.75"/><text transform="translate(500.05,375.50) scale(1.07,1)" font-size="8.2">8.6x10<tspan font-size="5.90" dy="-3.0">-11</tspan></text><text transform="translate(466.99,522.85) rotate(-49)" font-size="13.0">CRPC-AR</text><text transform="translate(483.39,528.54) rotate(-49)" font-size="13.0">CRPC-SCL</text><text transform="translate(510.10,522.95) rotate(-49)" font-size="13.0">CRPC-NE</text><text transform="translate(523.42,531.78) rotate(-49)" font-size="13.0">CRPC-WNT</text><rect x="590.50" y="352.0" width="0.9" height="119.3" fill="#a0a0a0"/><rect x="590.50" y="470.5" width="92.40" height="0.9" fill="#a0a0a0"/><text transform="translate(616.21,344.30)" font-size="12.6" font-style="italic">FOXA2</text><text transform="translate(580.63,388.00) scale(1.080,1)" font-size="12.0">4</text><rect x="588.60" y="383.30" width="2.0" height="0.8" fill="#a0a0a0"/><text transform="translate(580.89,424.70) scale(1.080,1)" font-size="12.0">2</text><rect x="588.60" y="420.00" width="2.0" height="0.8" fill="#a0a0a0"/><text transform="translate(580.76,460.70) scale(1.080,1)" font-size="12.0">0</text><rect x="588.60" y="456.00" width="2.0" height="0.8" fill="#a0a0a0"/><circle cx="601.2" cy="465.2" r="0.7" fill="#1f78cc"/><circle cx="607.5" cy="464.9" r="0.7" fill="#1f78cc"/><circle cx="601.5" cy="463.7" r="0.7" fill="#1f78cc"/><circle cx="603.0" cy="463.9" r="0.7" fill="#1f78cc"/><circle cx="606.4" cy="465.2" r="0.7" fill="#1f78cc"/><circle cx="608.6" cy="465.4" r="0.7" fill="#1f78cc"/><circle cx="606.9" cy="456.1" r="0.7" fill="#1f78cc"/><circle cx="607.2" cy="458.5" r="0.7" fill="#1f78cc"/><circle cx="601.6" cy="463.2" r="0.7" fill="#1f78cc"/><circle cx="599.8" cy="464.8" r="0.7" fill="#1f78cc"/><circle cx="603.4" cy="465.2" r="0.7" fill="#1f78cc"/><circle cx="604.8" cy="465.2" r="0.7" fill="#1f78cc"/><circle cx="604.5" cy="464.8" r="0.7" fill="#1f78cc"/><circle cx="606.9" cy="464.5" r="0.7" fill="#1f78cc"/><circle cx="603.9" cy="464.6" r="0.7" fill="#1f78cc"/><circle cx="605.9" cy="464.9" r="0.7" fill="#1f78cc"/><circle cx="599.0" cy="463.7" r="0.7" fill="#1f78cc"/><circle cx="603.2" cy="464.9" r="0.7" fill="#1f78cc"/><circle cx="604.8" cy="465.2" r="0.7" fill="#1f78cc"/><circle cx="604.5" cy="465.3" r="0.7" fill="#1f78cc"/><circle cx="603.0" cy="465.5" r="0.7" fill="#1f78cc"/><circle cx="601.9" cy="448.0" r="0.7" fill="#1f78cc"/><circle cx="601.0" cy="465.2" r="0.7" fill="#1f78cc"/><circle cx="603.2" cy="463.3" r="0.7" fill="#1f78cc"/><circle cx="610.3" cy="463.5" r="0.7" fill="#1f78cc"/><circle cx="606.3" cy="446.2" r="0.7" fill="#1f78cc"/><circle cx="608.9" cy="464.7" r="0.7" fill="#1f78cc"/><circle cx="609.9" cy="453.5" r="0.7" fill="#1f78cc"/><circle cx="600.4" cy="465.0" r="0.7" fill="#1f78cc"/><circle cx="610.7" cy="465.1" r="0.7" fill="#1f78cc"/><circle cx="601.1" cy="464.4" r="0.7" fill="#1f78cc"/><circle cx="598.7" cy="465.1" r="0.7" fill="#1f78cc"/><circle cx="603.6" cy="464.7" r="0.7" fill="#1f78cc"/><circle cx="605.4" cy="463.8" r="0.7" fill="#1f78cc"/><circle cx="605.6" cy="465.4" r="0.7" fill="#1f78cc"/><circle cx="602.8" cy="435.9" r="0.7" fill="#1f78cc"/><circle cx="607.5" cy="464.7" r="0.7" fill="#1f78cc"/><circle cx="607.1" cy="464.8" r="0.7" fill="#1f78cc"/><circle cx="600.7" cy="440.3" r="0.7" fill="#1f78cc"/><circle cx="603.3" cy="464.0" r="0.7" fill="#1f78cc"/><circle cx="607.9" cy="465.4" r="0.7" fill="#1f78cc"/><circle cx="602.7" cy="465.4" r="0.7" fill="#1f78cc"/><circle cx="605.0" cy="464.6" r="0.7" fill="#1f78cc"/><circle cx="600.0" cy="465.1" r="0.7" fill="#1f78cc"/><circle cx="600.1" cy="465.3" r="0.7" fill="#1f78cc"/><circle cx="600.7" cy="465.3" r="0.7" fill="#1f78cc"/><circle cx="599.4" cy="438.9" r="0.7" fill="#1f78cc"/><circle cx="604.9" cy="464.1" r="0.7" fill="#1f78cc"/><circle cx="607.5" cy="453.2" r="0.7" fill="#1f78cc"/><circle cx="602.8" cy="465.3" r="0.7" fill="#1f78cc"/><circle cx="608.9" cy="439.7" r="0.7" fill="#1f78cc"/><circle cx="603.9" cy="464.5" r="0.7" fill="#1f78cc"/><circle cx="608.5" cy="463.9" r="0.7" fill="#1f78cc"/><circle cx="603.3" cy="463.9" r="0.7" fill="#1f78cc"/><circle cx="598.9" cy="465.4" r="0.7" fill="#1f78cc"/><circle cx="610.2" cy="464.7" r="0.7" fill="#1f78cc"/><circle cx="607.1" cy="461.0" r="0.7" fill="#1f78cc"/><circle cx="610.2" cy="464.7" r="0.7" fill="#1f78cc"/><circle cx="607.5" cy="463.5" r="0.7" fill="#1f78cc"/><circle cx="599.2" cy="464.6" r="0.7" fill="#1f78cc"/><circle cx="600.2" cy="465.1" r="0.7" fill="#1f78cc"/><circle cx="599.1" cy="461.7" r="0.7" fill="#1f78cc"/><circle cx="602.5" cy="464.3" r="0.7" fill="#1f78cc"/><circle cx="602.2" cy="439.8" r="0.7" fill="#1f78cc"/><circle cx="606.3" cy="465.4" r="0.7" fill="#1f78cc"/><circle cx="603.5" cy="435.6" r="0.7" fill="#1f78cc"/><circle cx="600.5" cy="463.4" r="0.7" fill="#1f78cc"/><circle cx="600.0" cy="464.9" r="0.7" fill="#1f78cc"/><circle cx="604.7" cy="457.5" r="0.7" fill="#1f78cc"/><circle cx="605.7" cy="465.4" r="0.7" fill="#1f78cc"/><circle cx="606.4" cy="465.3" r="0.7" fill="#1f78cc"/><circle cx="603.2" cy="465.3" r="0.7" fill="#1f78cc"/><circle cx="599.4" cy="464.1" r="0.7" fill="#1f78cc"/><circle cx="599.7" cy="464.7" r="0.7" fill="#1f78cc"/><circle cx="604.6" cy="464.9" r="0.7" fill="#1f78cc"/><circle cx="609.3" cy="458.9" r="0.7" fill="#1f78cc"/><circle cx="603.6" cy="463.6" r="0.7" fill="#1f78cc"/><circle cx="605.5" cy="464.4" r="0.7" fill="#1f78cc"/><circle cx="610.2" cy="464.8" r="0.7" fill="#1f78cc"/><circle cx="604.2" cy="435.2" r="0.7" fill="#1f78cc"/><circle cx="600.9" cy="443.3" r="0.7" fill="#1f78cc"/><circle cx="600.8" cy="464.8" r="0.7" fill="#1f78cc"/><circle cx="608.0" cy="464.5" r="0.7" fill="#1f78cc"/><circle cx="605.0" cy="465.0" r="0.7" fill="#1f78cc"/><circle cx="598.9" cy="464.7" r="0.7" fill="#1f78cc"/><circle cx="608.6" cy="462.6" r="0.7" fill="#1f78cc"/><circle cx="603.6" cy="442.9" r="0.7" fill="#1f78cc"/><circle cx="608.1" cy="440.2" r="0.7" fill="#1f78cc"/><circle cx="610.4" cy="462.0" r="0.7" fill="#1f78cc"/><circle cx="609.9" cy="465.2" r="0.7" fill="#1f78cc"/><circle cx="605.8" cy="464.6" r="0.7" fill="#1f78cc"/><circle cx="606.8" cy="464.6" r="0.7" fill="#1f78cc"/><circle cx="606.5" cy="454.1" r="0.7" fill="#1f78cc"/><circle cx="602.1" cy="464.8" r="0.7" fill="#1f78cc"/><circle cx="599.9" cy="455.4" r="0.7" fill="#1f78cc"/><circle cx="607.8" cy="465.5" r="0.7" fill="#1f78cc"/><circle cx="607.1" cy="464.7" r="0.7" fill="#1f78cc"/><circle cx="603.0" cy="465.0" r="0.7" fill="#1f78cc"/><circle cx="598.8" cy="465.1" r="0.7" fill="#1f78cc"/><circle cx="605.3" cy="464.6" r="0.7" fill="#1f78cc"/><circle cx="609.5" cy="458.9" r="0.7" fill="#1f78cc"/><circle cx="608.0" cy="464.9" r="0.7" fill="#1f78cc"/><circle cx="610.5" cy="464.2" r="0.7" fill="#1f78cc"/><circle cx="603.7" cy="465.4" r="0.7" fill="#1f78cc"/><circle cx="607.0" cy="465.1" r="0.7" fill="#1f78cc"/><circle cx="601.0" cy="455.3" r="0.7" fill="#1f78cc"/><circle cx="610.8" cy="464.6" r="0.7" fill="#1f78cc"/><circle cx="606.6" cy="464.7" r="0.7" fill="#1f78cc"/><circle cx="606.3" cy="464.6" r="0.7" fill="#1f78cc"/><circle cx="606.4" cy="439.3" r="0.7" fill="#1f78cc"/><line x1="604.85" y1="463.00" x2="604.85" y2="464.00" stroke="#1f78cc" stroke-width="0.7"/><line x1="604.85" y1="466.00" x2="604.85" y2="466.50" stroke="#1f78cc" stroke-width="0.7"/><rect x="597.20" y="464.00" width="15.30" height="2.00" fill="#1f78cc" fill-opacity="0.08" stroke="#1f78cc" stroke-width="0.8"/><line x1="597.20" y1="465.20" x2="612.50" y2="465.20" stroke="#1f78cc" stroke-width="0.9"/><rect x="604.45" y="471.3" width="0.8" height="2.2" fill="#a0a0a0"/><circle cx="630.8" cy="465.0" r="0.7" fill="#e6b410"/><circle cx="625.8" cy="465.3" r="0.7" fill="#e6b410"/><circle cx="623.0" cy="464.5" r="0.7" fill="#e6b410"/><circle cx="627.4" cy="464.9" r="0.7" fill="#e6b410"/><circle cx="625.8" cy="463.8" r="0.7" fill="#e6b410"/><circle cx="627.7" cy="465.2" r="0.7" fill="#e6b410"/><circle cx="626.0" cy="459.7" r="0.7" fill="#e6b410"/><circle cx="624.0" cy="439.2" r="0.7" fill="#e6b410"/><circle cx="631.2" cy="464.3" r="0.7" fill="#e6b410"/><circle cx="632.8" cy="465.4" r="0.7" fill="#e6b410"/><circle cx="628.4" cy="465.3" r="0.7" fill="#e6b410"/><circle cx="630.3" cy="436.0" r="0.7" fill="#e6b410"/><circle cx="632.8" cy="463.2" r="0.7" fill="#e6b410"/><circle cx="623.2" cy="464.2" r="0.7" fill="#e6b410"/><circle cx="626.9" cy="449.1" r="0.7" fill="#e6b410"/><circle cx="623.6" cy="458.1" r="0.7" fill="#e6b410"/><circle cx="621.0" cy="464.1" r="0.7" fill="#e6b410"/><circle cx="623.1" cy="465.2" r="0.7" fill="#e6b410"/><circle cx="629.9" cy="435.1" r="0.7" fill="#e6b410"/><circle cx="631.7" cy="464.1" r="0.7" fill="#e6b410"/><circle cx="624.7" cy="459.7" r="0.7" fill="#e6b410"/><circle cx="631.1" cy="464.4" r="0.7" fill="#e6b410"/><circle cx="622.4" cy="460.9" r="0.7" fill="#e6b410"/><circle cx="630.9" cy="465.2" r="0.7" fill="#e6b410"/><circle cx="632.7" cy="465.1" r="0.7" fill="#e6b410"/><circle cx="628.1" cy="465.2" r="0.7" fill="#e6b410"/><circle cx="622.5" cy="439.5" r="0.7" fill="#e6b410"/><circle cx="624.4" cy="465.3" r="0.7" fill="#e6b410"/><circle cx="628.1" cy="465.4" r="0.7" fill="#e6b410"/><circle cx="622.3" cy="464.0" r="0.7" fill="#e6b410"/><circle cx="628.9" cy="464.4" r="0.7" fill="#e6b410"/><circle cx="632.1" cy="465.1" r="0.7" fill="#e6b410"/><circle cx="624.6" cy="465.1" r="0.7" fill="#e6b410"/><circle cx="629.5" cy="463.7" r="0.7" fill="#e6b410"/><circle cx="624.0" cy="465.4" r="0.7" fill="#e6b410"/><circle cx="625.5" cy="464.5" r="0.7" fill="#e6b410"/><circle cx="625.9" cy="450.7" r="0.7" fill="#e6b410"/><circle cx="632.1" cy="464.2" r="0.7" fill="#e6b410"/><circle cx="627.5" cy="465.2" r="0.7" fill="#e6b410"/><circle cx="631.2" cy="464.7" r="0.7" fill="#e6b410"/><circle cx="625.9" cy="464.4" r="0.7" fill="#e6b410"/><circle cx="629.6" cy="451.4" r="0.7" fill="#e6b410"/><circle cx="625.8" cy="464.1" r="0.7" fill="#e6b410"/><circle cx="625.7" cy="464.6" r="0.7" fill="#e6b410"/><circle cx="629.0" cy="454.7" r="0.7" fill="#e6b410"/><circle cx="623.2" cy="465.0" r="0.7" fill="#e6b410"/><circle cx="623.3" cy="463.8" r="0.7" fill="#e6b410"/><circle cx="624.4" cy="463.6" r="0.7" fill="#e6b410"/><circle cx="627.6" cy="435.2" r="0.7" fill="#e6b410"/><circle cx="621.1" cy="463.4" r="0.7" fill="#e6b410"/><circle cx="624.8" cy="464.0" r="0.7" fill="#e6b410"/><circle cx="631.6" cy="465.0" r="0.7" fill="#e6b410"/><circle cx="628.2" cy="464.2" r="0.7" fill="#e6b410"/><circle cx="624.7" cy="464.5" r="0.7" fill="#e6b410"/><circle cx="627.8" cy="464.8" r="0.7" fill="#e6b410"/><circle cx="632.8" cy="430.8" r="0.7" fill="#e6b410"/><circle cx="630.7" cy="463.9" r="0.7" fill="#e6b410"/><circle cx="620.9" cy="464.2" r="0.7" fill="#e6b410"/><circle cx="625.2" cy="461.5" r="0.7" fill="#e6b410"/><circle cx="622.7" cy="464.8" r="0.7" fill="#e6b410"/><circle cx="621.9" cy="461.9" r="0.7" fill="#e6b410"/><circle cx="622.2" cy="465.5" r="0.7" fill="#e6b410"/><circle cx="628.0" cy="465.0" r="0.7" fill="#e6b410"/><circle cx="629.4" cy="465.5" r="0.7" fill="#e6b410"/><circle cx="626.0" cy="460.8" r="0.7" fill="#e6b410"/><circle cx="631.1" cy="463.3" r="0.7" fill="#e6b410"/><circle cx="620.3" cy="433.6" r="0.7" fill="#e6b410"/><circle cx="621.4" cy="464.1" r="0.7" fill="#e6b410"/><circle cx="626.5" cy="454.4" r="0.7" fill="#e6b410"/><circle cx="627.3" cy="465.2" r="0.7" fill="#e6b410"/><line x1="626.45" y1="455.00" x2="626.45" y2="460.20" stroke="#e6b410" stroke-width="0.7"/><line x1="626.45" y1="466.00" x2="626.45" y2="466.50" stroke="#e6b410" stroke-width="0.7"/><rect x="618.40" y="460.20" width="16.10" height="5.80" fill="#e6b410" fill-opacity="0.08" stroke="#e6b410" stroke-width="0.8"/><line x1="618.40" y1="463.00" x2="634.50" y2="463.00" stroke="#e6b410" stroke-width="0.9"/><rect x="626.05" y="471.3" width="0.8" height="2.2" fill="#a0a0a0"/><circle cx="648.8" cy="411.8" r="0.7" fill="#7a7a7a"/><circle cx="645.5" cy="452.0" r="0.7" fill="#7a7a7a"/><circle cx="645.1" cy="409.8" r="0.7" fill="#7a7a7a"/><circle cx="648.1" cy="439.2" r="0.7" fill="#7a7a7a"/><circle cx="653.0" cy="390.6" r="0.7" fill="#7a7a7a"/><circle cx="649.0" cy="463.3" r="0.7" fill="#7a7a7a"/><circle cx="653.2" cy="442.4" r="0.7" fill="#7a7a7a"/><circle cx="642.5" cy="416.6" r="0.7" fill="#7a7a7a"/><circle cx="651.6" cy="454.4" r="0.7" fill="#7a7a7a"/><circle cx="649.0" cy="395.0" r="0.7" fill="#7a7a7a"/><circle cx="646.1" cy="413.0" r="0.7" fill="#7a7a7a"/><circle cx="653.0" cy="435.9" r="0.7" fill="#7a7a7a"/><circle cx="643.4" cy="430.9" r="0.7" fill="#7a7a7a"/><circle cx="653.9" cy="413.1" r="0.7" fill="#7a7a7a"/><circle cx="650.6" cy="435.2" r="0.7" fill="#7a7a7a"/><circle cx="649.5" cy="461.5" r="0.7" fill="#7a7a7a"/><circle cx="647.3" cy="459.4" r="0.7" fill="#7a7a7a"/><circle cx="645.6" cy="449.8" r="0.7" fill="#7a7a7a"/><circle cx="648.4" cy="431.7" r="0.7" fill="#7a7a7a"/><circle cx="648.0" cy="431.7" r="0.7" fill="#7a7a7a"/><line x1="648.65" y1="381.80" x2="648.65" y2="406.60" stroke="#7a7a7a" stroke-width="0.7"/><line x1="648.65" y1="465.00" x2="648.65" y2="466.00" stroke="#7a7a7a" stroke-width="0.7"/><rect x="640.80" y="406.60" width="15.70" height="58.40" fill="#7a7a7a" fill-opacity="0.08" stroke="#7a7a7a" stroke-width="0.8"/><line x1="640.80" y1="464.00" x2="656.50" y2="464.00" stroke="#7a7a7a" stroke-width="0.9"/><rect x="648.25" y="471.3" width="0.8" height="2.2" fill="#a0a0a0"/><circle cx="665.5" cy="460.2" r="0.7" fill="#d4504a"/><circle cx="669.7" cy="450.0" r="0.7" fill="#d4504a"/><circle cx="669.4" cy="434.1" r="0.7" fill="#d4504a"/><circle cx="667.6" cy="447.7" r="0.7" fill="#d4504a"/><circle cx="664.9" cy="428.0" r="0.7" fill="#d4504a"/><circle cx="664.8" cy="464.8" r="0.7" fill="#d4504a"/><circle cx="669.3" cy="463.6" r="0.7" fill="#d4504a"/><circle cx="668.5" cy="419.0" r="0.7" fill="#d4504a"/><circle cx="668.7" cy="435.6" r="0.7" fill="#d4504a"/><circle cx="674.1" cy="448.9" r="0.7" fill="#d4504a"/><circle cx="667.9" cy="433.9" r="0.7" fill="#d4504a"/><circle cx="670.0" cy="458.8" r="0.7" fill="#d4504a"/><line x1="670.95" y1="391.30" x2="670.95" y2="430.60" stroke="#d4504a" stroke-width="0.7"/><line x1="670.95" y1="466.00" x2="670.95" y2="466.50" stroke="#d4504a" stroke-width="0.7"/><rect x="663.20" y="430.60" width="15.50" height="35.40" fill="#d4504a" fill-opacity="0.08" stroke="#d4504a" stroke-width="0.8"/><line x1="663.20" y1="464.00" x2="678.70" y2="464.00" stroke="#d4504a" stroke-width="0.9"/><rect x="670.55" y="471.3" width="0.8" height="2.2" fill="#a0a0a0"/><path d="M604.60,359.80 L604.60,357.80 L670.50,357.80 L670.50,359.80" fill="none" stroke="#8a8a8a" stroke-width="0.75"/><text transform="translate(628.14,355.80) scale(1.07,1)" font-size="8.2">0.047<tspan font-size="5.90" dy="-3.0"></tspan></text><path d="M604.60,369.40 L604.60,367.40 L648.50,367.40 L648.50,369.40" fill="none" stroke="#8a8a8a" stroke-width="0.75"/><text transform="translate(615.55,365.40) scale(1.07,1)" font-size="8.2">5.4x10<tspan font-size="5.90" dy="-3.0">-4</tspan></text><path d="M604.60,379.50 L604.60,377.50 L626.40,377.50 L626.40,379.50" fill="none" stroke="#8a8a8a" stroke-width="0.75"/><text transform="translate(606.86,375.50) scale(1.07,1)" font-size="8.2">6.3x10<tspan font-size="5.90" dy="-3.0">-3</tspan></text><text transform="translate(572.99,522.85) rotate(-49)" font-size="13.0">CRPC-AR</text><text transform="translate(589.64,528.54) rotate(-49)" font-size="13.0">CRPC-SCL</text><text transform="translate(616.70,522.95) rotate(-49)" font-size="13.0">CRPC-NE</text><text transform="translate(631.32,531.78) rotate(-49)" font-size="13.0">CRPC-WNT</text><text transform="translate(357.10,437.21) rotate(-90) scale(1.012,1)" font-size="12.6">z-score</text><text transform="translate(500.23,548.60) scale(1.014,1)" font-size="12.6">mCRPC (SU2C)</text><text transform="translate(11.62,608.60)" font-size="18.5" font-weight="bold">f</text><rect x="37.70" y="635.20" width="7.40" height="49.40" fill="#c00000"/><rect x="37.70" y="686.10" width="7.40" height="50.70" fill="#787474"/><rect x="37.70" y="738.80" width="7.40" height="52.70" fill="#fcd466"/><rect x="37.70" y="793.50" width="7.40" height="56.80" fill="#a2d08a"/><text transform="translate(35.80,669.50) rotate(-90) scale(0.991,1)" font-size="13.0">AR</text><text transform="translate(35.80,724.12) rotate(-90) scale(0.994,1)" font-size="13.0">SCL</text><text transform="translate(35.80,773.28) rotate(-90) scale(1.042,1)" font-size="13.0">NE</text><text transform="translate(35.80,826.00) rotate(-90) scale(0.899,1)" font-size="13.0">WNT</text><rect x="46.00" y="634.90" width="33.20" height="215.70" fill="#e0e0e0"/><rect x="46.40" y="635.30" width="32.40" height="50.10" fill="url(#v52)"/><path d="M58.65,635.30 L66.55,635.30 L63.60,683.30 L61.60,683.30 Z" fill="url(#v53)"/><path d="M59.85,635.30 L65.35,635.30 L63.30,665.30 L61.90,665.30 Z" fill="url(#v54)"/><rect x="46.70" y="635.60" width="31.80" height="49.50" fill="none" stroke="#c4c4c4" stroke-width="0.7"/><rect x="46.40" y="686.40" width="32.40" height="50.90" fill="url(#v55)"/><rect x="46.40" y="686.40" width="32.40" height="5.00" fill="url(#v56)"/><rect x="60.80" y="686.40" width="3.6" height="50.90" fill="url(#h57)" mask="url(#mfade2)"/><rect x="46.70" y="686.70" width="31.80" height="50.30" fill="none" stroke="#c4c4c4" stroke-width="0.7"/><rect x="46.40" y="738.20" width="32.40" height="53.70" fill="url(#v58)"/><rect x="60.80" y="738.20" width="3.6" height="53.70" fill="url(#h59)" mask="url(#mfade2)"/><rect x="46.70" y="738.50" width="31.80" height="53.10" fill="none" stroke="#c4c4c4" stroke-width="0.7"/><rect x="46.40" y="792.90" width="32.40" height="57.30" fill="url(#v60)"/><rect x="46.40" y="792.90" width="32.40" height="5.00" fill="url(#v61)"/><rect x="60.80" y="792.90" width="3.6" height="57.30" fill="url(#h62)" mask="url(#mfade2)"/><rect x="46.70" y="793.20" width="31.80" height="56.70" fill="none" stroke="#c4c4c4" stroke-width="0.7"/><text transform="translate(62.24,632.96) rotate(-45)" font-size="13.3" font-weight="bold">FOXA1</text><rect x="80.70" y="634.90" width="31.80" height="215.70" fill="#e0e0e0"/><rect x="81.10" y="635.30" width="31.00" height="50.10" fill="url(#v63)"/><path d="M92.65,635.30 L100.55,635.30 L97.60,683.30 L95.60,683.30 Z" fill="url(#v64)"/><path d="M93.85,635.30 L99.35,635.30 L97.30,667.30 L95.90,667.30 Z" fill="url(#v65)"/><rect x="81.40" y="635.60" width="30.40" height="49.50" fill="none" stroke="#c4c4c4" stroke-width="0.7"/><rect x="81.10" y="686.40" width="31.00" height="50.90" fill="url(#v66)"/><rect x="94.80" y="686.40" width="3.6" height="50.90" fill="url(#h67)" mask="url(#mfade2)"/><rect x="81.40" y="686.70" width="30.40" height="50.30" fill="none" stroke="#c4c4c4" stroke-width="0.7"/><rect x="81.10" y="738.20" width="31.00" height="53.70" fill="url(#v68)"/><rect x="94.80" y="738.20" width="3.6" height="53.70" fill="url(#h69)" mask="url(#mfade2)"/><rect x="81.40" y="738.50" width="30.40" height="53.10" fill="none" stroke="#c4c4c4" stroke-width="0.7"/><rect x="81.10" y="792.90" width="31.00" height="57.30" fill="url(#v70)"/><rect x="94.80" y="792.90" width="3.6" height="57.30" fill="url(#h71)" mask="url(#mfade2)"/><rect x="81.40" y="793.20" width="30.40" height="56.70" fill="none" stroke="#c4c4c4" stroke-width="0.7"/><text transform="translate(96.10,633.50) rotate(-45)" font-size="12.8">AR</text><rect x="114.90" y="634.90" width="32.80" height="215.70" fill="#e0e0e0"/><rect x="115.30" y="635.30" width="32.00" height="50.10" fill="url(#v72)"/><path d="M128.20,635.30 L134.40,635.30 L132.30,683.30 L130.30,683.30 Z" fill="url(#v73)"/><path d="M129.40,635.30 L133.20,635.30 L132.00,661.30 L130.60,661.30 Z" fill="url(#v74)"/><rect x="115.60" y="635.60" width="31.40" height="49.50" fill="none" stroke="#c4c4c4" stroke-width="0.7"/><rect x="115.30" y="686.40" width="32.00" height="50.90" fill="url(#v75)"/><path d="M129.80,686.40 L132.80,686.40 L131.30,694.40 Z" fill="url(#v76)"/><rect x="129.50" y="686.40" width="3.6" height="50.90" fill="url(#h77)" mask="url(#mfade2)"/><rect x="115.60" y="686.70" width="31.40" height="50.30" fill="none" stroke="#c4c4c4" stroke-width="0.7"/><rect x="115.30" y="738.20" width="32.00" height="53.70" fill="url(#v78)"/><rect x="129.50" y="738.20" width="3.6" height="53.70" fill="url(#h79)" mask="url(#mfade2)"/><rect x="115.60" y="738.50" width="31.40" height="53.10" fill="none" stroke="#c4c4c4" stroke-width="0.7"/><rect x="115.30" y="792.90" width="32.00" height="57.30" fill="url(#v80)"/><rect x="129.50" y="792.90" width="3.6" height="57.30" fill="url(#h81)" mask="url(#mfade2)"/><rect x="115.60" y="793.20" width="31.40" height="56.70" fill="none" stroke="#c4c4c4" stroke-width="0.7"/><text transform="translate(130.10,632.70) rotate(-45)" font-size="12.8">ATAC</text><rect x="149.60" y="634.90" width="32.60" height="215.70" fill="#e0e0e0"/><rect x="150.00" y="635.30" width="31.80" height="50.10" fill="url(#v82)"/><rect x="150.00" y="635.30" width="31.80" height="10.00" fill="url(#v83)"/><path d="M150.64,635.30 A15.26,9.00 0 0 0 181.16,635.30 Z" fill="url(#hg84)"/><path d="M158.40,635.30 A7.50,26.00 0 0 0 173.40,635.30 Z" fill="url(#hg85)"/><path d="M150.64,635.30 A15.26,6.00 0 0 0 181.16,635.30 Z" fill="url(#hg86)"/><path d="M159.30,635.30 A6.60,8.50 0 0 0 172.50,635.30 Z" fill="url(#hg87)"/><rect x="150.00" y="635.30" width="31.80" height="3.50" fill="url(#v88)"/><rect x="150.30" y="635.60" width="31.20" height="49.50" fill="none" stroke="#c4c4c4" stroke-width="0.7"/><rect x="150.00" y="686.40" width="31.80" height="50.90" fill="url(#v89)"/><rect x="150.00" y="686.40" width="31.80" height="2.50" fill="url(#v90)"/><rect x="150.00" y="686.40" width="31.80" height="6.00" fill="url(#v91)"/><rect x="150.30" y="686.70" width="31.20" height="50.30" fill="none" stroke="#c4c4c4" stroke-width="0.7"/><rect x="150.00" y="738.20" width="31.80" height="53.70" fill="url(#v92)"/><rect x="150.00" y="738.20" width="31.80" height="4.00" fill="url(#v93)"/><rect x="150.30" y="738.50" width="31.20" height="53.10" fill="none" stroke="#c4c4c4" stroke-width="0.7"/><rect x="150.00" y="792.90" width="31.80" height="57.30" fill="url(#v94)"/><rect x="150.00" y="792.90" width="31.80" height="4.00" fill="url(#v95)"/><rect x="150.30" y="793.20" width="31.20" height="56.70" fill="none" stroke="#c4c4c4" stroke-width="0.7"/><text transform="translate(160.08,633.42) rotate(-45)" font-size="12.8">H3K27ac</text><rect x="184.10" y="634.90" width="32.80" height="215.70" fill="#e0e0e0"/><rect x="184.50" y="635.30" width="32.00" height="50.10" fill="url(#v96)"/><rect x="184.50" y="635.30" width="32.00" height="10.00" fill="url(#v97)"/><path d="M185.14,635.30 A15.36,16.20 0 0 0 215.86,635.30 Z" fill="url(#hg98)"/><path d="M193.00,635.30 A7.50,46.80 0 0 0 208.00,635.30 Z" fill="url(#hg99)"/><path d="M185.14,635.30 A15.36,6.00 0 0 0 215.86,635.30 Z" fill="url(#hg100)"/><path d="M193.90,635.30 A6.60,15.30 0 0 0 207.10,635.30 Z" fill="url(#hg101)"/><rect x="184.50" y="635.30" width="32.00" height="3.50" fill="url(#v102)"/><rect x="184.80" y="635.60" width="31.40" height="49.50" fill="none" stroke="#c4c4c4" stroke-width="0.7"/><rect x="184.50" y="686.40" width="32.00" height="50.90" fill="url(#v103)"/><rect x="184.50" y="686.40" width="32.00" height="7.00" fill="url(#v104)"/><rect x="198.70" y="686.40" width="3.6" height="50.90" fill="url(#h105)" mask="url(#mfade2)"/><rect x="184.80" y="686.70" width="31.40" height="50.30" fill="none" stroke="#c4c4c4" stroke-width="0.7"/><rect x="184.50" y="738.20" width="32.00" height="53.70" fill="url(#v106)"/><rect x="184.50" y="738.20" width="32.00" height="4.00" fill="url(#v107)"/><rect x="184.80" y="738.50" width="31.40" height="53.10" fill="none" stroke="#c4c4c4" stroke-width="0.7"/><rect x="184.50" y="792.90" width="32.00" height="57.30" fill="url(#v108)"/><rect x="184.50" y="792.90" width="32.00" height="4.00" fill="url(#v109)"/><rect x="184.80" y="793.20" width="31.40" height="56.70" fill="none" stroke="#c4c4c4" stroke-width="0.7"/><text transform="translate(195.08,634.22) rotate(-45)" font-size="12.8">H3K4me2</text><rect x="228.60" y="634.90" width="33.60" height="215.70" fill="#e0e0e0"/><rect x="229.00" y="635.30" width="32.80" height="50.10" fill="url(#v110)"/><path d="M233.50,635.30 A11.90,27.00 0 0 0 257.30,635.30 Z" fill="url(#hg111)"/><path d="M242.80,635.30 A2.60,44.00 0 0 0 248.00,635.30 Z" fill="url(#hg112)"/><path d="M239.90,635.30 L250.90,635.30 Q246.60,638.90 246.20,653.30 L244.60,653.30 Q244.20,638.90 239.90,635.30 Z" fill="url(#v113)"/><rect x="229.30" y="635.60" width="32.20" height="49.50" fill="none" stroke="#c4c4c4" stroke-width="0.7"/><rect x="229.00" y="686.40" width="32.80" height="50.90" fill="url(#v114)"/><path d="M242.40,686.40 L248.40,686.40 L245.40,691.40 Z" fill="url(#v115)"/><rect x="229.00" y="686.40" width="32.80" height="5.00" fill="url(#v116)"/><rect x="229.30" y="686.70" width="32.20" height="50.30" fill="none" stroke="#c4c4c4" stroke-width="0.7"/><rect x="229.00" y="738.20" width="32.80" height="53.70" fill="url(#v117)"/><rect x="229.00" y="738.20" width="32.80" height="4.00" fill="url(#v118)"/><rect x="229.30" y="738.50" width="32.20" height="53.10" fill="none" stroke="#c4c4c4" stroke-width="0.7"/><rect x="229.00" y="792.90" width="32.80" height="57.30" fill="url(#v119)"/><rect x="229.00" y="792.90" width="32.80" height="6.00" fill="url(#v120)"/><rect x="229.30" y="793.20" width="32.20" height="56.70" fill="none" stroke="#c4c4c4" stroke-width="0.7"/><text transform="translate(239.74,634.06) rotate(-45)" font-size="13.3" font-weight="bold">FOXA1</text><rect x="263.20" y="634.90" width="33.30" height="215.70" fill="#e0e0e0"/><rect x="263.60" y="635.30" width="32.50" height="50.10" fill="url(#v121)"/><path d="M272.25,635.30 A7.60,30.00 0 0 0 287.45,635.30 Z" fill="url(#hg122)"/><path d="M277.25,635.30 A2.60,42.00 0 0 0 282.45,635.30 Z" fill="url(#hg123)"/><path d="M275.85,635.30 L283.85,635.30 Q281.05,639.30 280.65,655.30 L279.05,655.30 Q278.65,639.30 275.85,635.30 Z" fill="url(#v124)"/><rect x="263.90" y="635.60" width="31.90" height="49.50" fill="none" stroke="#c4c4c4" stroke-width="0.7"/><rect x="263.60" y="686.40" width="32.50" height="50.90" fill="url(#v125)"/><rect x="263.90" y="686.70" width="31.90" height="50.30" fill="none" stroke="#c4c4c4" stroke-width="0.7"/><rect x="263.60" y="738.20" width="32.50" height="53.70" fill="url(#v126)"/><rect x="263.90" y="738.50" width="31.90" height="53.10" fill="none" stroke="#c4c4c4" stroke-width="0.7"/><rect x="263.60" y="792.90" width="32.50" height="57.30" fill="url(#v127)"/><rect x="263.90" y="793.20" width="31.90" height="56.70" fill="none" stroke="#c4c4c4" stroke-width="0.7"/><text transform="translate(280.40,633.50) rotate(-45)" font-size="12.8">AR</text><rect x="297.90" y="634.90" width="33.70" height="215.70" fill="#e0e0e0"/><rect x="298.30" y="635.30" width="32.90" height="50.10" fill="url(#v128)"/><rect x="298.30" y="635.30" width="32.90" height="10.00" fill="url(#v129)"/><path d="M298.96,635.30 A15.79,9.00 0 0 0 330.54,635.30 Z" fill="url(#hg130)"/><path d="M307.25,635.30 A7.50,26.00 0 0 0 322.25,635.30 Z" fill="url(#hg131)"/><path d="M298.96,635.30 A15.79,6.00 0 0 0 330.54,635.30 Z" fill="url(#hg132)"/><path d="M308.15,635.30 A6.60,8.50 0 0 0 321.35,635.30 Z" fill="url(#hg133)"/><rect x="298.30" y="635.30" width="32.90" height="3.50" fill="url(#v134)"/><rect x="298.60" y="635.60" width="32.30" height="49.50" fill="none" stroke="#c4c4c4" stroke-width="0.7"/><rect x="298.30" y="686.40" width="32.90" height="50.90" fill="url(#v135)"/><rect x="298.30" y="686.40" width="32.90" height="2.50" fill="url(#v136)"/><rect x="298.30" y="686.40" width="32.90" height="5.00" fill="url(#v137)"/><rect x="298.60" y="686.70" width="32.30" height="50.30" fill="none" stroke="#c4c4c4" stroke-width="0.7"/><rect x="298.30" y="738.20" width="32.90" height="53.70" fill="url(#v138)"/><rect x="298.30" y="738.20" width="32.90" height="3.00" fill="url(#v139)"/><rect x="298.60" y="738.50" width="32.30" height="53.10" fill="none" stroke="#c4c4c4" stroke-width="0.7"/><rect x="298.30" y="792.90" width="32.90" height="57.30" fill="url(#v140)"/><rect x="298.30" y="792.90" width="32.90" height="5.00" fill="url(#v141)"/><rect x="298.60" y="793.20" width="32.30" height="56.70" fill="none" stroke="#c4c4c4" stroke-width="0.7"/><text transform="translate(307.78,634.22) rotate(-45)" font-size="12.8">H3K27ac</text><rect x="343.90" y="634.90" width="33.70" height="215.70" fill="#e0e0e0"/><rect x="344.30" y="635.30" width="32.90" height="50.10" fill="url(#v142)"/><rect x="344.30" y="635.30" width="32.90" height="5.00" fill="url(#v143)"/><path d="M359.25,635.30 L362.25,635.30 L360.75,638.30 Z" fill="url(#v144)"/><rect x="358.95" y="635.30" width="3.6" height="50.10" fill="url(#h145)" mask="url(#mfade2)"/><rect x="344.60" y="635.60" width="32.30" height="49.50" fill="none" stroke="#c4c4c4" stroke-width="0.7"/><rect x="344.30" y="686.40" width="32.90" height="50.90" fill="url(#v146)"/><rect x="344.30" y="686.40" width="32.90" height="4.00" fill="url(#v147)"/><path d="M351.55,686.40 A9.20,24.00 0 0 0 369.95,686.40 Z" fill="url(#hg148)"/><path d="M358.15,686.40 A2.60,48.00 0 0 0 363.35,686.40 Z" fill="url(#hg149)"/><path d="M356.75,686.40 L364.75,686.40 Q361.95,689.60 361.55,702.40 L359.95,702.40 Q359.55,689.60 356.75,686.40 Z" fill="url(#v150)"/><rect x="344.60" y="686.70" width="32.30" height="50.30" fill="none" stroke="#c4c4c4" stroke-width="0.7"/><rect x="344.30" y="738.20" width="32.90" height="53.70" fill="url(#v151)"/><rect x="358.95" y="738.20" width="3.6" height="53.70" fill="url(#h152)" mask="url(#mfade2)"/><rect x="344.60" y="738.50" width="32.30" height="53.10" fill="none" stroke="#c4c4c4" stroke-width="0.7"/><rect x="344.30" y="792.90" width="32.90" height="57.30" fill="url(#v153)"/><rect x="344.30" y="792.90" width="32.90" height="5.00" fill="url(#v154)"/><rect x="358.95" y="792.90" width="3.6" height="57.30" fill="url(#h155)" mask="url(#mfade2)"/><rect x="344.60" y="793.20" width="32.30" height="56.70" fill="none" stroke="#c4c4c4" stroke-width="0.7"/><text transform="translate(352.74,632.36) rotate(-45)" font-size="13.3" font-weight="bold">FOXA2</text><rect x="378.60" y="634.90" width="33.60" height="215.70" fill="#e0e0e0"/><rect x="379.00" y="635.30" width="32.80" height="50.10" fill="url(#v156)"/><rect x="393.60" y="635.30" width="3.6" height="50.10" fill="url(#h157)" mask="url(#mfade2)"/><rect x="379.30" y="635.60" width="32.20" height="49.50" fill="none" stroke="#c4c4c4" stroke-width="0.7"/><rect x="379.00" y="686.40" width="32.80" height="50.90" fill="url(#v158)"/><path d="M389.90,686.40 A5.50,21.00 0 0 0 400.90,686.40 Z" fill="url(#hg159)"/><path d="M392.80,686.40 A2.60,48.00 0 0 0 398.00,686.40 Z" fill="url(#hg160)"/><path d="M392.90,686.40 L397.90,686.40 Q396.60,689.20 396.20,700.40 L394.60,700.40 Q394.20,689.20 392.90,686.40 Z" fill="url(#v161)"/><rect x="379.30" y="686.70" width="32.20" height="50.30" fill="none" stroke="#c4c4c4" stroke-width="0.7"/><rect x="379.00" y="738.20" width="32.80" height="53.70" fill="url(#v162)"/><rect x="379.30" y="738.50" width="32.20" height="53.10" fill="none" stroke="#c4c4c4" stroke-width="0.7"/><rect x="379.00" y="792.90" width="32.80" height="57.30" fill="url(#v163)"/><rect x="393.60" y="792.90" width="3.6" height="57.30" fill="url(#h164)" mask="url(#mfade2)"/><rect x="379.30" y="793.20" width="32.20" height="56.70" fill="none" stroke="#c4c4c4" stroke-width="0.7"/><text transform="translate(394.20,633.80) rotate(-45)" font-size="12.8">ATAC</text><rect x="413.20" y="634.90" width="33.70" height="215.70" fill="#e0e0e0"/><rect x="413.60" y="635.30" width="32.90" height="50.10" fill="url(#v165)"/><rect x="413.60" y="635.30" width="32.90" height="6.00" fill="url(#v166)"/><rect x="413.90" y="635.60" width="32.30" height="49.50" fill="none" stroke="#c4c4c4" stroke-width="0.7"/><rect x="413.60" y="686.40" width="32.90" height="50.90" fill="url(#v167)"/><rect x="413.60" y="686.40" width="32.90" height="10.00" fill="url(#v168)"/><path d="M414.26,686.40 A15.79,10.80 0 0 0 445.84,686.40 Z" fill="url(#hg169)"/><path d="M422.55,686.40 A7.50,31.20 0 0 0 437.55,686.40 Z" fill="url(#hg170)"/><path d="M414.26,686.40 A15.79,6.00 0 0 0 445.84,686.40 Z" fill="url(#hg171)"/><path d="M423.45,686.40 A6.60,10.20 0 0 0 436.65,686.40 Z" fill="url(#hg172)"/><rect x="413.60" y="686.40" width="32.90" height="3.50" fill="url(#v173)"/><rect x="413.90" y="686.70" width="32.30" height="50.30" fill="none" stroke="#c4c4c4" stroke-width="0.7"/><rect x="413.60" y="738.20" width="32.90" height="53.70" fill="url(#v174)"/><rect x="413.60" y="738.20" width="32.90" height="5.00" fill="url(#v175)"/><rect x="413.90" y="738.50" width="32.30" height="53.10" fill="none" stroke="#c4c4c4" stroke-width="0.7"/><rect x="413.60" y="792.90" width="32.90" height="57.30" fill="url(#v176)"/><rect x="413.60" y="792.90" width="32.90" height="5.00" fill="url(#v177)"/><rect x="413.90" y="793.20" width="32.30" height="56.70" fill="none" stroke="#c4c4c4" stroke-width="0.7"/><text transform="translate(427.18,633.52) rotate(-45)" font-size="12.8">H3K27ac</text><rect x="447.50" y="634.90" width="31.20" height="215.70" fill="#e0e0e0"/><rect x="447.90" y="635.30" width="30.40" height="50.10" fill="url(#v178)"/><rect x="447.90" y="635.30" width="30.40" height="6.00" fill="url(#v179)"/><rect x="448.20" y="635.60" width="29.80" height="49.50" fill="none" stroke="#c4c4c4" stroke-width="0.7"/><rect x="447.90" y="686.40" width="30.40" height="50.90" fill="url(#v180)"/><rect x="447.90" y="686.40" width="30.40" height="10.00" fill="url(#v181)"/><path d="M448.51,686.40 A14.59,18.00 0 0 0 477.69,686.40 Z" fill="url(#hg182)"/><path d="M455.60,686.40 A7.50,52.00 0 0 0 470.60,686.40 Z" fill="url(#hg183)"/><path d="M448.51,686.40 A14.59,6.00 0 0 0 477.69,686.40 Z" fill="url(#hg184)"/><path d="M456.94,686.40 A6.16,17.00 0 0 0 469.26,686.40 Z" fill="url(#hg185)"/><rect x="447.90" y="686.40" width="30.40" height="3.50" fill="url(#v186)"/><rect x="448.20" y="686.70" width="29.80" height="50.30" fill="none" stroke="#c4c4c4" stroke-width="0.7"/><rect x="447.90" y="738.20" width="30.40" height="53.70" fill="url(#v187)"/><rect x="447.90" y="738.20" width="30.40" height="5.00" fill="url(#v188)"/><rect x="448.20" y="738.50" width="29.80" height="53.10" fill="none" stroke="#c4c4c4" stroke-width="0.7"/><rect x="447.90" y="792.90" width="30.40" height="57.30" fill="url(#v189)"/><rect x="447.90" y="792.90" width="30.40" height="5.00" fill="url(#v190)"/><rect x="448.20" y="793.20" width="29.80" height="56.70" fill="none" stroke="#c4c4c4" stroke-width="0.7"/><text transform="translate(461.88,634.52) rotate(-45)" font-size="12.8">H3K4me2</text><rect x="490.70" y="635.90" width="32.00" height="215.50" fill="#e0e0e0"/><rect x="491.10" y="636.30" width="31.20" height="50.10" fill="url(#v191)"/><rect x="491.10" y="636.30" width="31.20" height="5.00" fill="url(#v192)"/><rect x="504.90" y="636.30" width="3.6" height="50.10" fill="url(#h193)" mask="url(#mfade2)"/><rect x="491.40" y="636.60" width="30.60" height="49.50" fill="none" stroke="#c4c4c4" stroke-width="0.7"/><rect x="491.10" y="687.40" width="31.20" height="50.10" fill="url(#v194)"/><rect x="491.10" y="687.40" width="31.20" height="5.00" fill="url(#v195)"/><path d="M505.20,687.40 L508.20,687.40 L506.70,690.40 Z" fill="url(#v196)"/><rect x="504.90" y="687.40" width="3.6" height="50.10" fill="url(#h197)" mask="url(#mfade2)"/><rect x="491.40" y="687.70" width="30.60" height="49.50" fill="none" stroke="#c4c4c4" stroke-width="0.7"/><rect x="491.10" y="738.50" width="31.20" height="54.40" fill="url(#v198)"/><path d="M496.70,738.50 A10.00,24.00 0 0 0 516.70,738.50 Z" fill="url(#hg199)"/><path d="M504.10,738.50 A2.60,48.00 0 0 0 509.30,738.50 Z" fill="url(#hg200)"/><path d="M502.70,738.50 L510.70,738.50 Q507.90,741.70 507.50,754.50 L505.90,754.50 Q505.50,741.70 502.70,738.50 Z" fill="url(#v201)"/><rect x="491.40" y="738.80" width="30.60" height="53.80" fill="none" stroke="#c4c4c4" stroke-width="0.7"/><rect x="491.10" y="793.90" width="31.20" height="57.10" fill="url(#v202)"/><rect x="491.10" y="793.90" width="31.20" height="5.00" fill="url(#v203)"/><path d="M504.70,793.90 L508.70,793.90 L506.70,796.90 Z" fill="url(#v204)"/><rect x="504.90" y="793.90" width="3.6" height="57.10" fill="url(#h205)" mask="url(#mfade2)"/><rect x="491.40" y="794.20" width="30.60" height="56.50" fill="none" stroke="#c4c4c4" stroke-width="0.7"/><text transform="translate(503.44,632.86) rotate(-45)" font-size="13.3" font-weight="bold">FOXA2</text><rect x="523.60" y="635.90" width="31.20" height="215.50" fill="#e0e0e0"/><rect x="524.00" y="636.30" width="30.40" height="50.10" fill="url(#v206)"/><rect x="537.40" y="636.30" width="3.6" height="50.10" fill="url(#h207)" mask="url(#mfade2)"/><rect x="524.30" y="636.60" width="29.80" height="49.50" fill="none" stroke="#c4c4c4" stroke-width="0.7"/><rect x="524.00" y="687.40" width="30.40" height="50.10" fill="url(#v208)"/><rect x="524.00" y="687.40" width="30.40" height="16.00" fill="url(#v209)"/><rect x="537.40" y="687.40" width="3.6" height="50.10" fill="url(#h210)" mask="url(#mfade2)"/><rect x="524.30" y="687.70" width="29.80" height="49.50" fill="none" stroke="#c4c4c4" stroke-width="0.7"/><rect x="524.00" y="738.50" width="30.40" height="54.40" fill="url(#v211)"/><path d="M530.80,738.50 A8.40,27.00 0 0 0 547.60,738.50 Z" fill="url(#hg212)"/><path d="M536.60,738.50 A2.60,48.00 0 0 0 541.80,738.50 Z" fill="url(#hg213)"/><path d="M535.20,738.50 L543.20,738.50 Q540.40,742.10 540.00,756.50 L538.40,756.50 Q538.00,742.10 535.20,738.50 Z" fill="url(#v214)"/><rect x="524.30" y="738.80" width="29.80" height="53.80" fill="none" stroke="#c4c4c4" stroke-width="0.7"/><rect x="524.00" y="793.90" width="30.40" height="57.10" fill="url(#v215)"/><rect x="537.40" y="793.90" width="3.6" height="57.10" fill="url(#h216)" mask="url(#mfade2)"/><rect x="524.30" y="794.20" width="29.80" height="56.50" fill="none" stroke="#c4c4c4" stroke-width="0.7"/><text transform="translate(536.10,633.20) rotate(-45)" font-size="12.8">ATAC</text><rect x="555.80" y="635.90" width="30.50" height="215.50" fill="#e0e0e0"/><rect x="556.20" y="636.30" width="29.70" height="50.10" fill="url(#v217)"/><rect x="556.50" y="636.60" width="29.10" height="49.50" fill="none" stroke="#c4c4c4" stroke-width="0.7"/><rect x="556.20" y="687.40" width="29.70" height="51.80" fill="url(#v218)"/><rect x="556.20" y="687.40" width="29.70" height="5.00" fill="url(#v219)"/><rect x="556.50" y="687.70" width="29.10" height="51.20" fill="none" stroke="#c4c4c4" stroke-width="0.7"/><rect x="556.20" y="740.20" width="29.70" height="56.20" fill="url(#v220)"/><rect x="556.20" y="740.20" width="29.70" height="10.00" fill="url(#v221)"/><path d="M556.79,740.20 A14.26,10.80 0 0 0 585.31,740.20 Z" fill="url(#hg222)"/><path d="M563.55,740.20 A7.50,31.20 0 0 0 578.55,740.20 Z" fill="url(#hg223)"/><path d="M556.79,740.20 A14.26,6.00 0 0 0 585.31,740.20 Z" fill="url(#hg224)"/><path d="M565.77,740.20 A5.28,10.20 0 0 0 576.33,740.20 Z" fill="url(#hg225)"/><rect x="556.20" y="740.20" width="29.70" height="3.50" fill="url(#v226)"/><rect x="556.50" y="740.50" width="29.10" height="55.60" fill="none" stroke="#c4c4c4" stroke-width="0.7"/><rect x="556.20" y="797.40" width="29.70" height="53.60" fill="url(#v227)"/><rect x="556.20" y="797.40" width="29.70" height="5.00" fill="url(#v228)"/><path d="M568.55,797.40 L573.55,797.40 L571.05,801.40 Z" fill="url(#v229)"/><rect x="556.50" y="797.70" width="29.10" height="53.00" fill="none" stroke="#c4c4c4" stroke-width="0.7"/><text transform="translate(567.48,631.62) rotate(-45)" font-size="12.8">H3K4me2</text><rect x="598.00" y="634.90" width="33.70" height="215.70" fill="#e0e0e0"/><rect x="598.40" y="635.30" width="32.90" height="50.10" fill="url(#v230)"/><rect x="598.40" y="635.30" width="32.90" height="5.00" fill="url(#v231)"/><rect x="613.05" y="635.30" width="3.6" height="50.10" fill="url(#h232)" mask="url(#mfade2)"/><rect x="598.70" y="635.60" width="32.30" height="49.50" fill="none" stroke="#c4c4c4" stroke-width="0.7"/><rect x="598.40" y="686.40" width="32.90" height="50.90" fill="url(#v233)"/><rect x="598.40" y="686.40" width="32.90" height="5.00" fill="url(#v234)"/><rect x="613.05" y="686.40" width="3.6" height="50.90" fill="url(#h235)" mask="url(#mfade2)"/><rect x="598.70" y="686.70" width="32.30" height="50.30" fill="none" stroke="#c4c4c4" stroke-width="0.7"/><rect x="598.40" y="738.20" width="32.90" height="53.70" fill="url(#v236)"/><rect x="598.40" y="738.20" width="32.90" height="5.00" fill="url(#v237)"/><path d="M612.85,738.20 L616.85,738.20 L614.85,741.20 Z" fill="url(#v238)"/><rect x="613.05" y="738.20" width="3.6" height="53.70" fill="url(#h239)" mask="url(#mfade2)"/><rect x="598.70" y="738.50" width="32.30" height="53.10" fill="none" stroke="#c4c4c4" stroke-width="0.7"/><rect x="598.40" y="792.90" width="32.90" height="57.30" fill="url(#v240)"/><path d="M598.85,792.90 A16.00,33.00 0 0 0 630.85,792.90 Z" fill="url(#hg241)"/><path d="M612.25,792.90 A2.60,52.00 0 0 0 617.45,792.90 Z" fill="url(#hg242)"/><path d="M607.85,792.90 L621.85,792.90 Q616.05,797.30 615.65,814.90 L614.05,814.90 Q613.65,797.30 607.85,792.90 Z" fill="url(#v243)"/><rect x="598.70" y="793.20" width="32.30" height="56.70" fill="none" stroke="#c4c4c4" stroke-width="0.7"/><text transform="translate(608.54,631.46) rotate(-45)" font-size="13.3" font-weight="bold">FOXA2</text><rect x="632.70" y="634.90" width="33.70" height="215.70" fill="#e0e0e0"/><rect x="633.10" y="635.30" width="32.90" height="50.10" fill="url(#v244)"/><rect x="633.40" y="635.60" width="32.30" height="49.50" fill="none" stroke="#c4c4c4" stroke-width="0.7"/><rect x="633.10" y="686.40" width="32.90" height="50.90" fill="url(#v245)"/><rect x="633.10" y="686.40" width="32.90" height="4.00" fill="url(#v246)"/><rect x="633.40" y="686.70" width="32.30" height="50.30" fill="none" stroke="#c4c4c4" stroke-width="0.7"/><rect x="633.10" y="738.20" width="32.90" height="53.70" fill="url(#v247)"/><rect x="633.10" y="738.20" width="32.90" height="4.00" fill="url(#v248)"/><rect x="633.40" y="738.50" width="32.30" height="53.10" fill="none" stroke="#c4c4c4" stroke-width="0.7"/><rect x="633.10" y="792.90" width="32.90" height="57.30" fill="url(#v249)"/><rect x="633.10" y="792.90" width="32.90" height="10.00" fill="url(#v250)"/><path d="M633.76,792.90 A15.79,10.80 0 0 0 665.34,792.90 Z" fill="url(#hg251)"/><path d="M642.05,792.90 A7.50,31.20 0 0 0 657.05,792.90 Z" fill="url(#hg252)"/><path d="M633.76,792.90 A15.79,6.00 0 0 0 665.34,792.90 Z" fill="url(#hg253)"/><path d="M642.07,792.90 A7.48,10.20 0 0 0 657.03,792.90 Z" fill="url(#hg254)"/><rect x="633.10" y="792.90" width="32.90" height="3.50" fill="url(#v255)"/><rect x="633.40" y="793.20" width="32.30" height="56.70" fill="none" stroke="#c4c4c4" stroke-width="0.7"/><text transform="translate(644.28,633.02) rotate(-45)" font-size="12.8">H3K27ac</text><rect x="48.00" y="853.20" width="165.40" height="2.60" fill="#000"/><text transform="translate(109.52,869.00)" font-size="12.8" font-weight="bold">LNCaP</text><rect x="227.30" y="853.20" width="103.80" height="2.60" fill="#000"/><text transform="translate(263.14,869.00)" font-size="12.8" font-weight="bold">201.1</text><rect x="349.00" y="853.20" width="129.00" height="2.60" fill="#000"/><text transform="translate(398.78,869.00)" font-size="12.8" font-weight="bold">PC-3</text><rect x="491.90" y="853.20" width="92.90" height="2.60" fill="#000"/><text transform="translate(522.93,869.00)" font-size="12.8" font-weight="bold">H660</text><rect x="598.00" y="853.20" width="67.30" height="2.60" fill="#000"/><text transform="translate(615.65,869.00)" font-size="12.8" font-weight="bold">201.2</text><text transform="translate(280.68,884.10) scale(1.002,1)" font-size="10.3">ChIP-Seq signals (±2kb) centered at ATAC sites</text></svg></body></html>
